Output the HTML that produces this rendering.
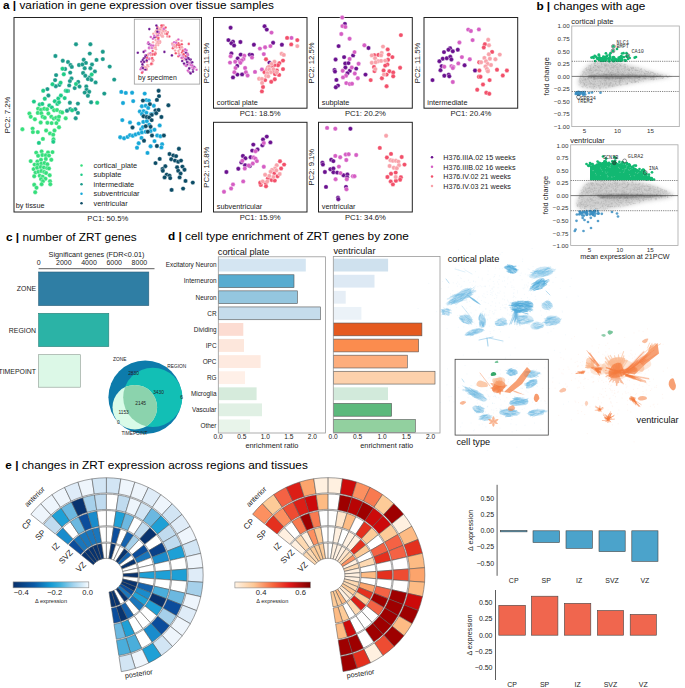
<!DOCTYPE html>
<html><head><meta charset="utf-8"><style>
html,body{margin:0;padding:0;background:#fff;}
body{width:685px;height:688px;overflow:hidden;}
svg{display:block;font-family:'Liberation Sans',sans-serif;}
</style></head><body>
<svg width="685" height="688" viewBox="0 0 685 688" style="font-family:'Liberation Sans',sans-serif"><text x="3" y="9.4" style="font-size:11.8px" fill="#000"><tspan font-weight="bold">a |</tspan> variation in gene expression over tissue samples</text>
<text x="536.4" y="9.6" style="font-size:11.8px" fill="#000"><tspan font-weight="bold">b |</tspan> changes with age</text>
<text x="6" y="240.8" style="font-size:11.8px" fill="#000"><tspan font-weight="bold">c |</tspan> number of ZRT genes</text>
<text x="168" y="240.4" style="font-size:11.8px" fill="#000"><tspan font-weight="bold">d |</tspan> cell type enrichment of ZRT genes by zone</text>
<text x="5.3" y="469.1" style="font-size:11.8px" fill="#000"><tspan font-weight="bold">e |</tspan> changes in ZRT expression across regions and tissues</text>
<rect x="14.00" y="17.50" width="187.50" height="194.50" fill="none" stroke="#222" stroke-width="1"/>
<g stroke="#fff" stroke-width="0.35">
<circle cx="76.0" cy="44.3" r="2.2" fill="#1a9a8a"/>
<circle cx="90.4" cy="44.3" r="2.2" fill="#1a9a8a"/>
<circle cx="55.4" cy="56.0" r="2.2" fill="#1a9a8a"/>
<circle cx="89.8" cy="53.6" r="2.2" fill="#1a9a8a"/>
<circle cx="102.8" cy="51.8" r="2.2" fill="#1a9a8a"/>
<circle cx="102.8" cy="59.1" r="2.2" fill="#1a9a8a"/>
<circle cx="96.5" cy="59.9" r="2.2" fill="#1a9a8a"/>
<circle cx="62.8" cy="60.7" r="2.2" fill="#1a9a8a"/>
<circle cx="68.0" cy="62.0" r="2.2" fill="#1a9a8a"/>
<circle cx="70.5" cy="65.0" r="2.2" fill="#1a9a8a"/>
<circle cx="71.8" cy="66.9" r="2.2" fill="#1a9a8a"/>
<circle cx="83.7" cy="59.7" r="2.2" fill="#1a9a8a"/>
<circle cx="85.9" cy="62.9" r="2.2" fill="#1a9a8a"/>
<circle cx="79.0" cy="65.0" r="2.2" fill="#1a9a8a"/>
<circle cx="82.4" cy="64.5" r="2.2" fill="#1a9a8a"/>
<circle cx="84.7" cy="68.2" r="2.2" fill="#1a9a8a"/>
<circle cx="92.0" cy="64.5" r="2.2" fill="#1a9a8a"/>
<circle cx="90.4" cy="68.2" r="2.2" fill="#1a9a8a"/>
<circle cx="94.9" cy="71.4" r="2.2" fill="#1a9a8a"/>
<circle cx="65.1" cy="69.0" r="2.2" fill="#1a9a8a"/>
<circle cx="70.2" cy="72.6" r="2.2" fill="#1a9a8a"/>
<circle cx="56.1" cy="75.1" r="2.2" fill="#1a9a8a"/>
<circle cx="55.1" cy="80.1" r="2.2" fill="#1a9a8a"/>
<circle cx="71.5" cy="78.5" r="2.2" fill="#1a9a8a"/>
<circle cx="69.9" cy="81.1" r="2.2" fill="#1a9a8a"/>
<circle cx="69.2" cy="85.4" r="2.2" fill="#1a9a8a"/>
<circle cx="59.3" cy="84.9" r="2.2" fill="#1a9a8a"/>
<circle cx="55.8" cy="86.2" r="2.2" fill="#1a9a8a"/>
<circle cx="83.1" cy="73.0" r="2.2" fill="#1a9a8a"/>
<circle cx="85.3" cy="75.8" r="2.2" fill="#1a9a8a"/>
<circle cx="89.5" cy="77.5" r="2.2" fill="#1a9a8a"/>
<circle cx="87.9" cy="79.1" r="2.2" fill="#1a9a8a"/>
<circle cx="91.4" cy="79.8" r="2.2" fill="#1a9a8a"/>
<circle cx="95.6" cy="82.4" r="2.2" fill="#1a9a8a"/>
<circle cx="109.7" cy="66.6" r="2.2" fill="#1a9a8a"/>
<circle cx="114.2" cy="79.6" r="2.2" fill="#1a9a8a"/>
<circle cx="78.2" cy="81.9" r="2.2" fill="#1a9a8a"/>
<circle cx="79.5" cy="86.5" r="2.2" fill="#1a9a8a"/>
<circle cx="74.7" cy="88.1" r="2.2" fill="#1a9a8a"/>
<circle cx="86.3" cy="86.5" r="2.2" fill="#1a9a8a"/>
<circle cx="86.6" cy="89.7" r="2.2" fill="#1a9a8a"/>
<circle cx="89.2" cy="91.8" r="2.2" fill="#1a9a8a"/>
<circle cx="84.7" cy="92.6" r="2.2" fill="#1a9a8a"/>
<circle cx="87.9" cy="95.8" r="2.2" fill="#1a9a8a"/>
<circle cx="104.3" cy="93.6" r="2.2" fill="#1a9a8a"/>
<circle cx="91.1" cy="102.3" r="2.2" fill="#1a9a8a"/>
<circle cx="77.9" cy="103.6" r="2.2" fill="#1a9a8a"/>
<circle cx="69.9" cy="102.7" r="2.2" fill="#1a9a8a"/>
<circle cx="47.4" cy="89.1" r="2.2" fill="#1a9a8a"/>
<circle cx="48.4" cy="95.5" r="2.2" fill="#1a9a8a"/>
<circle cx="70.2" cy="109.2" r="2.2" fill="#1a9a8a"/>
<circle cx="75.3" cy="109.3" r="2.2" fill="#1a9a8a"/>
<circle cx="67.0" cy="110.8" r="2.2" fill="#1a9a8a"/>
<circle cx="77.9" cy="112.9" r="2.2" fill="#1a9a8a"/>
<circle cx="75.7" cy="118.2" r="2.2" fill="#1a9a8a"/>
<circle cx="68.0" cy="90.9" r="2.2" fill="#1a9a8a"/>
<circle cx="62.5" cy="68.7" r="2.2" fill="#1ccb86"/>
<circle cx="63.8" cy="74.3" r="2.2" fill="#1ccb86"/>
<circle cx="52.5" cy="84.3" r="2.2" fill="#1ccb86"/>
<circle cx="60.6" cy="82.7" r="2.2" fill="#1ccb86"/>
<circle cx="43.2" cy="90.7" r="2.2" fill="#1ccb86"/>
<circle cx="44.8" cy="98.7" r="2.2" fill="#1ccb86"/>
<circle cx="33.9" cy="101.6" r="2.2" fill="#1ccb86"/>
<circle cx="54.8" cy="101.3" r="2.2" fill="#1ccb86"/>
<circle cx="58.3" cy="98.4" r="2.2" fill="#1ccb86"/>
<circle cx="60.9" cy="95.5" r="2.2" fill="#1ccb86"/>
<circle cx="64.7" cy="98.1" r="2.2" fill="#1ccb86"/>
<circle cx="65.7" cy="90.7" r="2.2" fill="#1ccb86"/>
<circle cx="67.0" cy="91.0" r="2.2" fill="#1ccb86"/>
<circle cx="57.4" cy="103.9" r="2.2" fill="#1ccb86"/>
<circle cx="59.0" cy="102.3" r="2.2" fill="#1ccb86"/>
<circle cx="97.2" cy="102.7" r="2.2" fill="#1ccb86"/>
<circle cx="91.7" cy="74.5" r="2.2" fill="#1ccb86"/>
<circle cx="76.0" cy="84.0" r="2.2" fill="#1ccb86"/>
<circle cx="72.1" cy="110.3" r="2.2" fill="#1ccb86"/>
<circle cx="39.7" cy="104.5" r="2.2" fill="#1ccb86"/>
<circle cx="42.3" cy="103.9" r="2.2" fill="#1ccb86"/>
<circle cx="49.3" cy="105.5" r="2.2" fill="#1ccb86"/>
<circle cx="51.9" cy="107.4" r="2.2" fill="#1ccb86"/>
<circle cx="38.1" cy="108.7" r="2.2" fill="#35df7c"/>
<circle cx="41.0" cy="109.7" r="2.2" fill="#35df7c"/>
<circle cx="44.2" cy="108.7" r="2.2" fill="#35df7c"/>
<circle cx="47.1" cy="109.3" r="2.2" fill="#35df7c"/>
<circle cx="54.1" cy="110.3" r="2.2" fill="#35df7c"/>
<circle cx="57.0" cy="110.0" r="2.2" fill="#35df7c"/>
<circle cx="60.6" cy="111.9" r="2.2" fill="#35df7c"/>
<circle cx="62.2" cy="112.5" r="2.2" fill="#35df7c"/>
<circle cx="29.4" cy="113.5" r="2.2" fill="#35df7c"/>
<circle cx="30.7" cy="116.7" r="2.2" fill="#35df7c"/>
<circle cx="34.9" cy="119.3" r="2.2" fill="#35df7c"/>
<circle cx="37.8" cy="112.9" r="2.2" fill="#35df7c"/>
<circle cx="41.3" cy="113.2" r="2.2" fill="#35df7c"/>
<circle cx="42.6" cy="116.7" r="2.2" fill="#35df7c"/>
<circle cx="44.8" cy="117.7" r="2.2" fill="#35df7c"/>
<circle cx="48.4" cy="113.5" r="2.2" fill="#35df7c"/>
<circle cx="51.3" cy="116.7" r="2.2" fill="#35df7c"/>
<circle cx="53.8" cy="118.6" r="2.2" fill="#35df7c"/>
<circle cx="56.1" cy="117.7" r="2.2" fill="#35df7c"/>
<circle cx="58.3" cy="119.9" r="2.2" fill="#35df7c"/>
<circle cx="59.0" cy="116.7" r="2.2" fill="#35df7c"/>
<circle cx="40.7" cy="122.5" r="2.2" fill="#35df7c"/>
<circle cx="47.4" cy="122.8" r="2.2" fill="#35df7c"/>
<circle cx="51.6" cy="123.1" r="2.2" fill="#35df7c"/>
<circle cx="56.4" cy="123.1" r="2.2" fill="#35df7c"/>
<circle cx="65.7" cy="118.3" r="2.2" fill="#35df7c"/>
<circle cx="22.4" cy="129.2" r="2.2" fill="#35df7c"/>
<circle cx="32.6" cy="128.6" r="2.2" fill="#35df7c"/>
<circle cx="32.9" cy="132.1" r="2.2" fill="#35df7c"/>
<circle cx="37.8" cy="132.1" r="2.2" fill="#35df7c"/>
<circle cx="46.1" cy="130.5" r="2.2" fill="#35df7c"/>
<circle cx="50.0" cy="133.4" r="2.2" fill="#35df7c"/>
<circle cx="54.5" cy="130.5" r="2.2" fill="#35df7c"/>
<circle cx="53.2" cy="134.7" r="2.2" fill="#35df7c"/>
<circle cx="59.0" cy="127.3" r="2.2" fill="#35df7c"/>
<circle cx="42.9" cy="138.9" r="2.2" fill="#35df7c"/>
<circle cx="53.5" cy="139.2" r="2.2" fill="#35df7c"/>
<circle cx="53.3" cy="141.8" r="2.2" fill="#1ccb86"/>
<circle cx="38.9" cy="142.9" r="2.2" fill="#1ccb86"/>
<circle cx="36.2" cy="152.6" r="2.2" fill="#35df7c"/>
<circle cx="41.6" cy="151.4" r="2.2" fill="#35df7c"/>
<circle cx="48.0" cy="152.4" r="2.2" fill="#35df7c"/>
<circle cx="52.5" cy="152.1" r="2.2" fill="#35df7c"/>
<circle cx="38.1" cy="155.8" r="2.2" fill="#35df7c"/>
<circle cx="42.3" cy="155.0" r="2.2" fill="#35df7c"/>
<circle cx="45.8" cy="155.3" r="2.2" fill="#35df7c"/>
<circle cx="49.0" cy="155.6" r="2.2" fill="#35df7c"/>
<circle cx="30.7" cy="161.1" r="2.2" fill="#35df7c"/>
<circle cx="37.4" cy="161.4" r="2.2" fill="#35df7c"/>
<circle cx="41.0" cy="159.8" r="2.2" fill="#35df7c"/>
<circle cx="45.8" cy="159.0" r="2.2" fill="#35df7c"/>
<circle cx="51.3" cy="159.8" r="2.2" fill="#35df7c"/>
<circle cx="34.6" cy="164.6" r="2.2" fill="#35df7c"/>
<circle cx="37.8" cy="164.6" r="2.2" fill="#35df7c"/>
<circle cx="41.3" cy="163.6" r="2.2" fill="#35df7c"/>
<circle cx="44.5" cy="163.0" r="2.2" fill="#35df7c"/>
<circle cx="47.4" cy="164.3" r="2.2" fill="#35df7c"/>
<circle cx="33.6" cy="169.1" r="2.2" fill="#35df7c"/>
<circle cx="37.1" cy="167.8" r="2.2" fill="#35df7c"/>
<circle cx="40.7" cy="167.0" r="2.2" fill="#35df7c"/>
<circle cx="43.9" cy="167.5" r="2.2" fill="#35df7c"/>
<circle cx="47.1" cy="168.1" r="2.2" fill="#35df7c"/>
<circle cx="49.0" cy="168.5" r="2.2" fill="#35df7c"/>
<circle cx="35.5" cy="172.6" r="2.2" fill="#35df7c"/>
<circle cx="38.4" cy="171.8" r="2.2" fill="#35df7c"/>
<circle cx="41.3" cy="171.0" r="2.2" fill="#35df7c"/>
<circle cx="44.2" cy="172.0" r="2.2" fill="#35df7c"/>
<circle cx="46.1" cy="173.0" r="2.2" fill="#35df7c"/>
<circle cx="34.2" cy="176.2" r="2.2" fill="#35df7c"/>
<circle cx="39.7" cy="175.8" r="2.2" fill="#35df7c"/>
<circle cx="42.6" cy="176.6" r="2.2" fill="#35df7c"/>
<circle cx="49.7" cy="175.2" r="2.2" fill="#35df7c"/>
<circle cx="41.0" cy="179.1" r="2.2" fill="#35df7c"/>
<circle cx="45.5" cy="178.7" r="2.2" fill="#35df7c"/>
<circle cx="42.9" cy="181.3" r="2.2" fill="#35df7c"/>
<circle cx="50.0" cy="181.3" r="2.2" fill="#35df7c"/>
<circle cx="41.6" cy="184.2" r="2.2" fill="#35df7c"/>
<circle cx="50.3" cy="184.2" r="2.2" fill="#35df7c"/>
<circle cx="34.2" cy="184.8" r="2.2" fill="#35df7c"/>
<circle cx="36.5" cy="187.7" r="2.2" fill="#35df7c"/>
<circle cx="35.2" cy="192.2" r="2.2" fill="#35df7c"/>
<circle cx="121.3" cy="91.9" r="2.2" fill="#16a7d8"/>
<circle cx="125.8" cy="92.9" r="2.2" fill="#16a7d8"/>
<circle cx="132.1" cy="92.7" r="2.2" fill="#16a7d8"/>
<circle cx="144.7" cy="93.6" r="2.2" fill="#16a7d8"/>
<circle cx="123.0" cy="103.0" r="2.2" fill="#16a7d8"/>
<circle cx="133.2" cy="101.1" r="2.2" fill="#16a7d8"/>
<circle cx="146.4" cy="100.1" r="2.2" fill="#16a7d8"/>
<circle cx="148.9" cy="100.6" r="2.2" fill="#16a7d8"/>
<circle cx="141.9" cy="106.2" r="2.2" fill="#16a7d8"/>
<circle cx="145.7" cy="105.8" r="2.2" fill="#16a7d8"/>
<circle cx="148.2" cy="107.9" r="2.2" fill="#16a7d8"/>
<circle cx="153.8" cy="105.8" r="2.2" fill="#16a7d8"/>
<circle cx="139.8" cy="111.4" r="2.2" fill="#16a7d8"/>
<circle cx="143.6" cy="111.1" r="2.2" fill="#16a7d8"/>
<circle cx="146.4" cy="112.8" r="2.2" fill="#16a7d8"/>
<circle cx="152.4" cy="114.0" r="2.2" fill="#16a7d8"/>
<circle cx="141.9" cy="114.0" r="2.2" fill="#16a7d8"/>
<circle cx="122.3" cy="120.1" r="2.2" fill="#16a7d8"/>
<circle cx="130.0" cy="122.4" r="2.2" fill="#16a7d8"/>
<circle cx="138.7" cy="123.6" r="2.2" fill="#16a7d8"/>
<circle cx="143.3" cy="121.9" r="2.2" fill="#16a7d8"/>
<circle cx="146.8" cy="121.2" r="2.2" fill="#16a7d8"/>
<circle cx="159.7" cy="125.4" r="2.2" fill="#16a7d8"/>
<circle cx="141.2" cy="129.2" r="2.2" fill="#16a7d8"/>
<circle cx="142.9" cy="127.1" r="2.2" fill="#16a7d8"/>
<circle cx="150.6" cy="131.0" r="2.2" fill="#16a7d8"/>
<circle cx="154.5" cy="129.7" r="2.2" fill="#16a7d8"/>
<circle cx="120.2" cy="137.2" r="2.2" fill="#16a7d8"/>
<circle cx="124.1" cy="138.3" r="2.2" fill="#16a7d8"/>
<circle cx="127.6" cy="136.9" r="2.2" fill="#16a7d8"/>
<circle cx="130.0" cy="135.1" r="2.2" fill="#16a7d8"/>
<circle cx="132.8" cy="135.8" r="2.2" fill="#16a7d8"/>
<circle cx="135.6" cy="134.5" r="2.2" fill="#16a7d8"/>
<circle cx="138.7" cy="133.4" r="2.2" fill="#16a7d8"/>
<circle cx="141.9" cy="132.4" r="2.2" fill="#16a7d8"/>
<circle cx="145.7" cy="131.7" r="2.2" fill="#16a7d8"/>
<circle cx="157.2" cy="135.5" r="2.2" fill="#16a7d8"/>
<circle cx="160.4" cy="136.2" r="2.2" fill="#16a7d8"/>
<circle cx="141.5" cy="137.9" r="2.2" fill="#16a7d8"/>
<circle cx="138.7" cy="143.2" r="2.2" fill="#16a7d8"/>
<circle cx="137.0" cy="147.7" r="2.2" fill="#16a7d8"/>
<circle cx="154.5" cy="141.1" r="2.2" fill="#16a7d8"/>
<circle cx="150.6" cy="146.3" r="2.2" fill="#16a7d8"/>
<circle cx="162.1" cy="144.2" r="2.2" fill="#16a7d8"/>
<circle cx="161.4" cy="147.4" r="2.2" fill="#16a7d8"/>
<circle cx="147.5" cy="152.9" r="2.2" fill="#16a7d8"/>
<circle cx="151.0" cy="114.2" r="2.2" fill="#16a7d8"/>
<circle cx="145.0" cy="116.3" r="2.2" fill="#16a7d8"/>
<circle cx="149.2" cy="124.7" r="2.2" fill="#16a7d8"/>
<circle cx="158.6" cy="90.8" r="2.2" fill="#0c4c66"/>
<circle cx="159.0" cy="96.1" r="2.2" fill="#0c4c66"/>
<circle cx="156.9" cy="99.9" r="2.2" fill="#0c4c66"/>
<circle cx="142.9" cy="100.6" r="2.2" fill="#0c4c66"/>
<circle cx="149.9" cy="104.1" r="2.2" fill="#0c4c66"/>
<circle cx="168.4" cy="105.3" r="2.2" fill="#0c4c66"/>
<circle cx="155.5" cy="110.5" r="2.2" fill="#0c4c66"/>
<circle cx="158.6" cy="110.0" r="2.2" fill="#0c4c66"/>
<circle cx="156.2" cy="113.2" r="2.2" fill="#0c4c66"/>
<circle cx="151.7" cy="114.9" r="2.2" fill="#0c4c66"/>
<circle cx="143.6" cy="116.3" r="2.2" fill="#0c4c66"/>
<circle cx="146.8" cy="117.0" r="2.2" fill="#0c4c66"/>
<circle cx="149.2" cy="117.5" r="2.2" fill="#0c4c66"/>
<circle cx="151.7" cy="120.1" r="2.2" fill="#0c4c66"/>
<circle cx="161.4" cy="117.0" r="2.2" fill="#0c4c66"/>
<circle cx="132.5" cy="127.5" r="2.2" fill="#0c4c66"/>
<circle cx="145.7" cy="126.2" r="2.2" fill="#0c4c66"/>
<circle cx="150.6" cy="126.8" r="2.2" fill="#0c4c66"/>
<circle cx="147.8" cy="131.7" r="2.2" fill="#0c4c66"/>
<circle cx="152.0" cy="135.5" r="2.2" fill="#0c4c66"/>
<circle cx="163.9" cy="135.5" r="2.2" fill="#0c4c66"/>
<circle cx="144.0" cy="140.7" r="2.2" fill="#0c4c66"/>
<circle cx="156.9" cy="146.0" r="2.2" fill="#0c4c66"/>
<circle cx="178.9" cy="148.8" r="2.2" fill="#0c4c66"/>
<circle cx="169.5" cy="154.0" r="2.2" fill="#0c4c66"/>
<circle cx="173.3" cy="155.4" r="2.2" fill="#0c4c66"/>
<circle cx="176.1" cy="156.1" r="2.2" fill="#0c4c66"/>
<circle cx="171.2" cy="159.2" r="2.2" fill="#0c4c66"/>
<circle cx="175.0" cy="160.6" r="2.2" fill="#0c4c66"/>
<circle cx="178.2" cy="161.7" r="2.2" fill="#0c4c66"/>
<circle cx="181.0" cy="160.6" r="2.2" fill="#0c4c66"/>
<circle cx="159.7" cy="158.9" r="2.2" fill="#0c4c66"/>
<circle cx="155.5" cy="163.1" r="2.2" fill="#0c4c66"/>
<circle cx="165.3" cy="166.2" r="2.2" fill="#0c4c66"/>
<circle cx="162.5" cy="169.0" r="2.2" fill="#0c4c66"/>
<circle cx="162.8" cy="170.8" r="2.2" fill="#0c4c66"/>
<circle cx="177.1" cy="167.3" r="2.2" fill="#0c4c66"/>
<circle cx="182.4" cy="166.6" r="2.2" fill="#0c4c66"/>
<circle cx="184.5" cy="169.7" r="2.2" fill="#0c4c66"/>
<circle cx="178.2" cy="170.8" r="2.2" fill="#0c4c66"/>
<circle cx="180.6" cy="173.5" r="2.2" fill="#0c4c66"/>
<circle cx="166.7" cy="174.6" r="2.2" fill="#0c4c66"/>
<circle cx="169.5" cy="175.6" r="2.2" fill="#0c4c66"/>
<circle cx="164.6" cy="177.4" r="2.2" fill="#0c4c66"/>
<circle cx="170.2" cy="178.1" r="2.2" fill="#0c4c66"/>
<circle cx="179.6" cy="177.4" r="2.2" fill="#0c4c66"/>
<circle cx="185.5" cy="180.9" r="2.2" fill="#0c4c66"/>
<circle cx="192.8" cy="182.6" r="2.2" fill="#0c4c66"/>
<circle cx="171.6" cy="189.9" r="2.2" fill="#0c4c66"/>
<circle cx="183.1" cy="188.6" r="2.2" fill="#0c4c66"/>
</g>
<rect x="134.30" y="19.20" width="65.50" height="64.90" fill="#fff" stroke="#9a9a9a" stroke-width="0.8"/>
<g stroke="#fff" stroke-width="0.25">
<circle cx="158.3" cy="29.2" r="1.3" fill="#f8a2aa"/>
<circle cx="143.8" cy="58.3" r="1.3" fill="#6a118f"/>
<circle cx="167.7" cy="32.3" r="1.3" fill="#f2506a"/>
<circle cx="178.4" cy="56.2" r="1.3" fill="#f2506a"/>
<circle cx="176.6" cy="40.7" r="1.3" fill="#f8a2aa"/>
<circle cx="157.7" cy="33.8" r="1.3" fill="#f2506a"/>
<circle cx="159.9" cy="42.4" r="1.3" fill="#f2506a"/>
<circle cx="141.4" cy="61.8" r="1.3" fill="#6a118f"/>
<circle cx="190.7" cy="62.9" r="1.3" fill="#d55ec4"/>
<circle cx="161.4" cy="35.1" r="1.3" fill="#f8a2aa"/>
<circle cx="161.7" cy="27.3" r="1.3" fill="#f2506a"/>
<circle cx="155.9" cy="31.6" r="1.3" fill="#f8a2aa"/>
<circle cx="183.9" cy="51.1" r="1.3" fill="#d55ec4"/>
<circle cx="159.6" cy="29.8" r="1.3" fill="#f8a2aa"/>
<circle cx="187.3" cy="53.2" r="1.3" fill="#f8a2aa"/>
<circle cx="164.1" cy="31.8" r="1.3" fill="#f8a2aa"/>
<circle cx="160.2" cy="29.5" r="1.3" fill="#f2506a"/>
<circle cx="159.0" cy="28.9" r="1.3" fill="#f2506a"/>
<circle cx="179.3" cy="54.4" r="1.3" fill="#f8a2aa"/>
<circle cx="152.3" cy="64.0" r="1.3" fill="#f8a2aa"/>
<circle cx="182.7" cy="55.0" r="1.3" fill="#d55ec4"/>
<circle cx="158.9" cy="31.1" r="1.3" fill="#f8a2aa"/>
<circle cx="192.1" cy="67.2" r="1.3" fill="#d55ec4"/>
<circle cx="159.2" cy="42.2" r="1.3" fill="#f2506a"/>
<circle cx="172.9" cy="47.9" r="1.3" fill="#f8a2aa"/>
<circle cx="191.0" cy="62.9" r="1.3" fill="#6a118f"/>
<circle cx="157.3" cy="27.0" r="1.3" fill="#f2506a"/>
<circle cx="182.0" cy="52.5" r="1.3" fill="#f2506a"/>
<circle cx="147.9" cy="43.6" r="1.3" fill="#d55ec4"/>
<circle cx="156.0" cy="37.1" r="1.3" fill="#f2506a"/>
<circle cx="158.2" cy="45.1" r="1.3" fill="#f8a2aa"/>
<circle cx="152.9" cy="38.8" r="1.3" fill="#d55ec4"/>
<circle cx="145.2" cy="55.6" r="1.3" fill="#d55ec4"/>
<circle cx="146.6" cy="69.4" r="1.3" fill="#f2506a"/>
<circle cx="156.8" cy="42.1" r="1.3" fill="#f8a2aa"/>
<circle cx="143.1" cy="62.2" r="1.3" fill="#d55ec4"/>
<circle cx="145.2" cy="50.8" r="1.3" fill="#d55ec4"/>
<circle cx="172.5" cy="44.4" r="1.3" fill="#d55ec4"/>
<circle cx="151.8" cy="58.6" r="1.3" fill="#f2506a"/>
<circle cx="143.6" cy="51.9" r="1.3" fill="#6a118f"/>
<circle cx="190.7" cy="59.6" r="1.3" fill="#6a118f"/>
<circle cx="188.8" cy="71.7" r="1.3" fill="#d55ec4"/>
<circle cx="185.9" cy="52.8" r="1.3" fill="#6a118f"/>
<circle cx="142.3" cy="66.9" r="1.3" fill="#6a118f"/>
<circle cx="155.5" cy="47.6" r="1.3" fill="#f8a2aa"/>
<circle cx="163.6" cy="25.3" r="1.3" fill="#f8a2aa"/>
<circle cx="152.7" cy="51.0" r="1.3" fill="#f2506a"/>
<circle cx="144.2" cy="69.1" r="1.3" fill="#d55ec4"/>
<circle cx="157.5" cy="35.4" r="1.3" fill="#f2506a"/>
<circle cx="189.4" cy="63.3" r="1.3" fill="#d55ec4"/>
<circle cx="169.3" cy="36.5" r="1.3" fill="#f2506a"/>
<circle cx="158.8" cy="37.9" r="1.3" fill="#f8a2aa"/>
<circle cx="181.8" cy="47.2" r="1.3" fill="#f2506a"/>
<circle cx="177.4" cy="44.6" r="1.3" fill="#f8a2aa"/>
<circle cx="147.7" cy="65.6" r="1.3" fill="#d55ec4"/>
<circle cx="184.4" cy="59.5" r="1.3" fill="#f8a2aa"/>
<circle cx="185.9" cy="65.7" r="1.3" fill="#6a118f"/>
<circle cx="180.0" cy="49.2" r="1.3" fill="#f8a2aa"/>
<circle cx="147.3" cy="55.4" r="1.3" fill="#6a118f"/>
<circle cx="178.4" cy="43.2" r="1.3" fill="#f2506a"/>
<circle cx="186.5" cy="50.4" r="1.3" fill="#d55ec4"/>
<circle cx="162.0" cy="36.6" r="1.3" fill="#f8a2aa"/>
<circle cx="158.9" cy="40.7" r="1.3" fill="#f8a2aa"/>
<circle cx="186.6" cy="56.4" r="1.3" fill="#6a118f"/>
<circle cx="153.8" cy="46.5" r="1.3" fill="#f8a2aa"/>
<circle cx="155.0" cy="54.4" r="1.3" fill="#f2506a"/>
<circle cx="176.6" cy="47.5" r="1.3" fill="#f8a2aa"/>
<circle cx="146.6" cy="68.4" r="1.3" fill="#f8a2aa"/>
<circle cx="190.5" cy="65.1" r="1.3" fill="#d55ec4"/>
<circle cx="162.3" cy="25.6" r="1.3" fill="#f2506a"/>
<circle cx="167.3" cy="36.4" r="1.3" fill="#f8a2aa"/>
<circle cx="183.2" cy="57.3" r="1.3" fill="#d55ec4"/>
<circle cx="185.6" cy="56.1" r="1.3" fill="#f2506a"/>
<circle cx="142.6" cy="71.9" r="1.3" fill="#d55ec4"/>
<circle cx="148.2" cy="66.2" r="1.3" fill="#f8a2aa"/>
<circle cx="153.1" cy="42.2" r="1.3" fill="#f8a2aa"/>
<circle cx="179.7" cy="47.2" r="1.3" fill="#f2506a"/>
<circle cx="142.8" cy="60.0" r="1.3" fill="#6a118f"/>
<circle cx="171.9" cy="55.4" r="1.3" fill="#6a118f"/>
<circle cx="144.1" cy="68.4" r="1.3" fill="#f2506a"/>
<circle cx="184.4" cy="64.4" r="1.3" fill="#d55ec4"/>
<circle cx="149.3" cy="58.5" r="1.3" fill="#d55ec4"/>
<circle cx="147.3" cy="65.1" r="1.3" fill="#f8a2aa"/>
<circle cx="175.1" cy="50.6" r="1.3" fill="#f8a2aa"/>
<circle cx="193.0" cy="71.7" r="1.3" fill="#6a118f"/>
<circle cx="155.7" cy="46.8" r="1.3" fill="#f8a2aa"/>
<circle cx="154.0" cy="48.1" r="1.3" fill="#f8a2aa"/>
<circle cx="155.5" cy="32.0" r="1.3" fill="#f8a2aa"/>
<circle cx="158.4" cy="40.8" r="1.3" fill="#f8a2aa"/>
<circle cx="188.3" cy="58.4" r="1.3" fill="#6a118f"/>
<circle cx="193.0" cy="69.6" r="1.3" fill="#6a118f"/>
<circle cx="154.3" cy="36.5" r="1.3" fill="#f8a2aa"/>
<circle cx="153.3" cy="33.7" r="1.3" fill="#f8a2aa"/>
<circle cx="156.4" cy="44.3" r="1.3" fill="#f8a2aa"/>
<circle cx="157.1" cy="34.4" r="1.3" fill="#f2506a"/>
<circle cx="181.8" cy="47.2" r="1.3" fill="#f8a2aa"/>
<circle cx="157.1" cy="28.9" r="1.3" fill="#6a118f"/>
<circle cx="149.4" cy="47.9" r="1.3" fill="#6a118f"/>
<circle cx="194.9" cy="67.3" r="1.3" fill="#d55ec4"/>
<circle cx="160.0" cy="32.7" r="1.3" fill="#f8a2aa"/>
<circle cx="140.6" cy="69.3" r="1.3" fill="#d55ec4"/>
<circle cx="172.2" cy="43.5" r="1.3" fill="#f8a2aa"/>
<circle cx="167.0" cy="32.9" r="1.3" fill="#f8a2aa"/>
<circle cx="146.8" cy="61.4" r="1.3" fill="#f2506a"/>
<circle cx="152.0" cy="48.0" r="1.3" fill="#d55ec4"/>
<circle cx="187.8" cy="70.6" r="1.3" fill="#d55ec4"/>
<circle cx="183.1" cy="49.8" r="1.3" fill="#f8a2aa"/>
<circle cx="142.0" cy="72.8" r="1.3" fill="#f2506a"/>
<circle cx="159.3" cy="31.8" r="1.3" fill="#d55ec4"/>
<circle cx="158.6" cy="33.5" r="1.3" fill="#f2506a"/>
<circle cx="189.2" cy="68.1" r="1.3" fill="#6a118f"/>
<circle cx="161.4" cy="31.9" r="1.3" fill="#f8a2aa"/>
<circle cx="174.1" cy="42.2" r="1.3" fill="#d55ec4"/>
<circle cx="146.4" cy="55.2" r="1.3" fill="#6a118f"/>
<circle cx="179.7" cy="44.9" r="1.3" fill="#f2506a"/>
<circle cx="143.1" cy="66.4" r="1.3" fill="#6a118f"/>
<circle cx="189.3" cy="59.2" r="1.3" fill="#6a118f"/>
<circle cx="156.0" cy="49.2" r="1.3" fill="#f8a2aa"/>
<circle cx="145.4" cy="69.4" r="1.3" fill="#6a118f"/>
<circle cx="192.3" cy="62.2" r="1.3" fill="#6a118f"/>
<circle cx="154.3" cy="47.7" r="1.3" fill="#f8a2aa"/>
<circle cx="162.6" cy="35.9" r="1.3" fill="#f2506a"/>
<circle cx="158.2" cy="39.5" r="1.3" fill="#d55ec4"/>
<circle cx="145.3" cy="67.2" r="1.3" fill="#d55ec4"/>
<circle cx="155.6" cy="45.5" r="1.3" fill="#f8a2aa"/>
<circle cx="175.6" cy="46.3" r="1.3" fill="#f2506a"/>
<circle cx="160.5" cy="35.2" r="1.3" fill="#f8a2aa"/>
<circle cx="193.3" cy="68.1" r="1.3" fill="#6a118f"/>
<circle cx="188.8" cy="43.9" r="1.3" fill="#f2506a"/>
<circle cx="159.2" cy="29.3" r="1.3" fill="#f8a2aa"/>
<circle cx="156.4" cy="32.6" r="1.3" fill="#f8a2aa"/>
<circle cx="164.3" cy="30.0" r="1.3" fill="#f2506a"/>
<circle cx="155.2" cy="52.2" r="1.3" fill="#f8a2aa"/>
<circle cx="142.4" cy="64.3" r="1.3" fill="#6a118f"/>
<circle cx="175.8" cy="53.3" r="1.3" fill="#f2506a"/>
<circle cx="149.4" cy="44.3" r="1.3" fill="#6a118f"/>
<circle cx="162.0" cy="29.2" r="1.3" fill="#f2506a"/>
<circle cx="156.5" cy="32.8" r="1.3" fill="#f8a2aa"/>
<circle cx="173.7" cy="46.2" r="1.3" fill="#d55ec4"/>
<circle cx="150.5" cy="53.2" r="1.3" fill="#d55ec4"/>
<circle cx="143.3" cy="67.8" r="1.3" fill="#f8a2aa"/>
<circle cx="187.3" cy="64.8" r="1.3" fill="#6a118f"/>
<circle cx="185.2" cy="49.4" r="1.3" fill="#d55ec4"/>
<circle cx="162.5" cy="28.9" r="1.3" fill="#f8a2aa"/>
<circle cx="176.8" cy="44.8" r="1.3" fill="#f2506a"/>
<circle cx="160.1" cy="41.4" r="1.3" fill="#f8a2aa"/>
<circle cx="162.4" cy="30.8" r="1.3" fill="#f8a2aa"/>
<circle cx="187.7" cy="62.1" r="1.3" fill="#6a118f"/>
<circle cx="153.0" cy="54.1" r="1.3" fill="#f8a2aa"/>
<circle cx="154.5" cy="37.2" r="1.3" fill="#6a118f"/>
<circle cx="183.7" cy="54.2" r="1.3" fill="#6a118f"/>
<circle cx="156.9" cy="30.8" r="1.3" fill="#f2506a"/>
<circle cx="150.8" cy="37.0" r="1.3" fill="#d55ec4"/>
<circle cx="189.2" cy="68.6" r="1.3" fill="#6a118f"/>
<circle cx="158.2" cy="38.1" r="1.3" fill="#f2506a"/>
<circle cx="152.8" cy="54.0" r="1.3" fill="#f2506a"/>
<circle cx="182.7" cy="50.9" r="1.3" fill="#f2506a"/>
<circle cx="188.3" cy="58.1" r="1.3" fill="#6a118f"/>
<circle cx="164.4" cy="51.9" r="1.3" fill="#6a118f"/>
<circle cx="146.7" cy="60.4" r="1.3" fill="#6a118f"/>
<circle cx="178.4" cy="39.5" r="1.3" fill="#d55ec4"/>
<circle cx="150.8" cy="44.7" r="1.3" fill="#d55ec4"/>
<circle cx="190.4" cy="72.8" r="1.3" fill="#6a118f"/>
<circle cx="165.7" cy="30.7" r="1.3" fill="#f8a2aa"/>
<circle cx="187.5" cy="54.1" r="1.3" fill="#6a118f"/>
<circle cx="181.8" cy="44.3" r="1.3" fill="#f2506a"/>
<circle cx="182.2" cy="61.0" r="1.3" fill="#6a118f"/>
<circle cx="137.8" cy="52.8" r="1.3" fill="#6a118f"/>
<circle cx="172.9" cy="48.2" r="1.3" fill="#f2506a"/>
<circle cx="178.5" cy="51.1" r="1.3" fill="#f8a2aa"/>
<circle cx="151.1" cy="64.3" r="1.3" fill="#f2506a"/>
<circle cx="156.1" cy="30.9" r="1.3" fill="#f8a2aa"/>
<circle cx="187.5" cy="54.6" r="1.3" fill="#d55ec4"/>
<circle cx="185.2" cy="58.6" r="1.3" fill="#d55ec4"/>
<circle cx="149.0" cy="53.8" r="1.3" fill="#d55ec4"/>
<circle cx="149.1" cy="59.1" r="1.3" fill="#d55ec4"/>
<circle cx="163.0" cy="36.6" r="1.3" fill="#f8a2aa"/>
<circle cx="144.2" cy="66.9" r="1.3" fill="#f8a2aa"/>
<circle cx="186.3" cy="65.9" r="1.3" fill="#d55ec4"/>
<circle cx="153.1" cy="60.2" r="1.3" fill="#f2506a"/>
<circle cx="145.3" cy="57.1" r="1.3" fill="#6a118f"/>
<circle cx="190.6" cy="73.5" r="1.3" fill="#6a118f"/>
<circle cx="188.7" cy="62.8" r="1.3" fill="#d55ec4"/>
<circle cx="162.0" cy="32.9" r="1.3" fill="#f8a2aa"/>
<circle cx="157.8" cy="35.3" r="1.3" fill="#d55ec4"/>
<circle cx="145.8" cy="67.2" r="1.3" fill="#f8a2aa"/>
<circle cx="147.0" cy="57.8" r="1.3" fill="#f2506a"/>
<circle cx="165.6" cy="27.6" r="1.3" fill="#f2506a"/>
<circle cx="179.4" cy="55.1" r="1.3" fill="#d55ec4"/>
<circle cx="148.3" cy="42.4" r="1.3" fill="#d55ec4"/>
<circle cx="156.9" cy="33.6" r="1.3" fill="#f8a2aa"/>
<circle cx="152.2" cy="58.1" r="1.3" fill="#f2506a"/>
<circle cx="176.0" cy="42.8" r="1.3" fill="#d55ec4"/>
<circle cx="152.8" cy="61.3" r="1.3" fill="#f8a2aa"/>
<circle cx="184.0" cy="63.5" r="1.3" fill="#6a118f"/>
<circle cx="188.0" cy="62.5" r="1.3" fill="#d55ec4"/>
<circle cx="151.2" cy="45.6" r="1.3" fill="#d55ec4"/>
<circle cx="161.4" cy="25.5" r="1.3" fill="#f2506a"/>
<circle cx="193.7" cy="66.8" r="1.3" fill="#6a118f"/>
<circle cx="178.8" cy="53.4" r="1.3" fill="#f8a2aa"/>
<circle cx="157.0" cy="43.2" r="1.3" fill="#f8a2aa"/>
<circle cx="182.0" cy="58.1" r="1.3" fill="#f2506a"/>
<circle cx="181.5" cy="57.8" r="1.3" fill="#d55ec4"/>
<circle cx="155.5" cy="53.5" r="1.3" fill="#f2506a"/>
<circle cx="179.0" cy="45.2" r="1.3" fill="#f2506a"/>
<circle cx="163.0" cy="28.9" r="1.3" fill="#f8a2aa"/>
<circle cx="154.4" cy="54.4" r="1.3" fill="#f2506a"/>
<circle cx="174.2" cy="45.1" r="1.3" fill="#f8a2aa"/>
<circle cx="144.1" cy="61.9" r="1.3" fill="#6a118f"/>
<circle cx="165.1" cy="33.8" r="1.3" fill="#f8a2aa"/>
<circle cx="156.4" cy="25.5" r="1.3" fill="#6a118f"/>
<circle cx="162.6" cy="30.7" r="1.3" fill="#f8a2aa"/>
<circle cx="148.1" cy="54.6" r="1.3" fill="#f8a2aa"/>
<circle cx="158.7" cy="32.1" r="1.3" fill="#d55ec4"/>
<circle cx="181.6" cy="40.7" r="1.3" fill="#f8a2aa"/>
<circle cx="192.2" cy="65.3" r="1.3" fill="#d55ec4"/>
<circle cx="151.4" cy="63.6" r="1.3" fill="#f2506a"/>
<circle cx="162.0" cy="36.1" r="1.3" fill="#f8a2aa"/>
<circle cx="174.6" cy="46.9" r="1.3" fill="#f8a2aa"/>
<circle cx="158.4" cy="43.5" r="1.3" fill="#f8a2aa"/>
<circle cx="196.6" cy="69.8" r="1.3" fill="#d55ec4"/>
<circle cx="192.9" cy="67.9" r="1.3" fill="#d55ec4"/>
<circle cx="163.2" cy="30.8" r="1.3" fill="#f2506a"/>
<circle cx="186.3" cy="59.6" r="1.3" fill="#6a118f"/>
<circle cx="187.0" cy="62.1" r="1.3" fill="#6a118f"/>
<circle cx="157.3" cy="31.8" r="1.3" fill="#6a118f"/>
<circle cx="183.0" cy="54.1" r="1.3" fill="#f8a2aa"/>
<circle cx="183.7" cy="54.2" r="1.3" fill="#f2506a"/>
<circle cx="141.2" cy="68.0" r="1.3" fill="#d55ec4"/>
<circle cx="149.4" cy="48.3" r="1.3" fill="#f8a2aa"/>
<circle cx="152.0" cy="54.8" r="1.3" fill="#f2506a"/>
<circle cx="167.0" cy="33.9" r="1.3" fill="#f2506a"/>
<circle cx="154.2" cy="35.9" r="1.3" fill="#d55ec4"/>
<circle cx="193.6" cy="68.0" r="1.3" fill="#d55ec4"/>
<circle cx="149.3" cy="29.1" r="1.3" fill="#6a118f"/>
<circle cx="188.1" cy="54.9" r="1.3" fill="#d55ec4"/>
<circle cx="163.4" cy="31.0" r="1.3" fill="#f8a2aa"/>
<circle cx="142.9" cy="68.1" r="1.3" fill="#6a118f"/>
<circle cx="148.9" cy="47.9" r="1.3" fill="#d55ec4"/>
<circle cx="163.9" cy="28.9" r="1.3" fill="#d55ec4"/>
<circle cx="153.1" cy="45.6" r="1.3" fill="#d55ec4"/>
<circle cx="155.4" cy="47.5" r="1.3" fill="#f8a2aa"/>
<circle cx="157.8" cy="41.9" r="1.3" fill="#f8a2aa"/>
<circle cx="155.6" cy="40.0" r="1.3" fill="#f8a2aa"/>
<circle cx="150.6" cy="55.1" r="1.3" fill="#f8a2aa"/>
</g>
<text x="138.1" y="80.4" style="font-size:6.9px" fill="#222">by specimen</text>
<text x="15.8" y="208.2" style="font-size:7.3px" fill="#222">by tissue</text>
<circle cx="81.5" cy="165.4" r="1.25" fill="#35df7c"/>
<text x="93.5" y="168.0" style="font-size:7.4px" fill="#222">cortical_plate</text>
<circle cx="81.5" cy="174.8" r="1.25" fill="#1ccb86"/>
<text x="93.5" y="177.4" style="font-size:7.4px" fill="#222">subplate</text>
<circle cx="81.5" cy="184.3" r="1.25" fill="#1a9a8a"/>
<text x="93.5" y="186.9" style="font-size:7.4px" fill="#222">intermediate</text>
<circle cx="81.5" cy="193.8" r="1.25" fill="#16a7d8"/>
<text x="93.5" y="196.3" style="font-size:7.4px" fill="#222">subventricular</text>
<circle cx="81.5" cy="203.2" r="1.25" fill="#0c4c66"/>
<text x="93.5" y="205.8" style="font-size:7.4px" fill="#222">ventricular</text>
<text x="107.8" y="220.8" style="font-size:7.7px" text-anchor="middle" fill="#222">PC1: 50.5%</text>
<text x="9.8" y="115.0" style="font-size:7.7px" text-anchor="middle" transform="rotate(-90 9.8 115.0)" fill="#222">PC2: 7.2%</text>
<rect x="213.50" y="17.50" width="93.50" height="90.70" fill="none" stroke="#222" stroke-width="1"/>
<g stroke="#fff" stroke-width="0.35">
<circle cx="230.6" cy="27.7" r="2.2" fill="#6a118f"/>
<circle cx="264.6" cy="26.3" r="2.2" fill="#6a118f"/>
<circle cx="266.8" cy="29.6" r="2.2" fill="#6a118f"/>
<circle cx="228.4" cy="40.1" r="2.2" fill="#6a118f"/>
<circle cx="233.0" cy="41.7" r="2.2" fill="#6a118f"/>
<circle cx="231.4" cy="43.3" r="2.2" fill="#6a118f"/>
<circle cx="234.1" cy="45.5" r="2.2" fill="#6a118f"/>
<circle cx="240.4" cy="42.0" r="2.2" fill="#6a118f"/>
<circle cx="253.9" cy="44.7" r="2.2" fill="#6a118f"/>
<circle cx="273.1" cy="42.8" r="2.2" fill="#6a118f"/>
<circle cx="281.9" cy="44.7" r="2.2" fill="#6a118f"/>
<circle cx="231.4" cy="53.5" r="2.2" fill="#6a118f"/>
<circle cx="240.7" cy="54.6" r="2.2" fill="#6a118f"/>
<circle cx="249.8" cy="54.6" r="2.2" fill="#6a118f"/>
<circle cx="252.0" cy="54.9" r="2.2" fill="#6a118f"/>
<circle cx="237.7" cy="58.4" r="2.2" fill="#6a118f"/>
<circle cx="237.2" cy="65.9" r="2.2" fill="#6a118f"/>
<circle cx="269.5" cy="62.6" r="2.2" fill="#6a118f"/>
<circle cx="237.4" cy="74.6" r="2.2" fill="#6a118f"/>
<circle cx="242.1" cy="74.4" r="2.2" fill="#6a118f"/>
<circle cx="233.0" cy="77.4" r="2.2" fill="#6a118f"/>
<circle cx="271.5" cy="32.6" r="2.2" fill="#d55ec4"/>
<circle cx="291.5" cy="37.9" r="2.2" fill="#d55ec4"/>
<circle cx="259.9" cy="48.6" r="2.2" fill="#d55ec4"/>
<circle cx="265.1" cy="47.2" r="2.2" fill="#d55ec4"/>
<circle cx="270.4" cy="46.1" r="2.2" fill="#d55ec4"/>
<circle cx="263.8" cy="54.1" r="2.2" fill="#d55ec4"/>
<circle cx="230.6" cy="56.2" r="2.2" fill="#d55ec4"/>
<circle cx="244.3" cy="55.7" r="2.2" fill="#d55ec4"/>
<circle cx="243.5" cy="59.0" r="2.2" fill="#d55ec4"/>
<circle cx="252.0" cy="57.6" r="2.2" fill="#d55ec4"/>
<circle cx="235.2" cy="61.7" r="2.2" fill="#d55ec4"/>
<circle cx="239.9" cy="61.2" r="2.2" fill="#d55ec4"/>
<circle cx="241.8" cy="60.4" r="2.2" fill="#d55ec4"/>
<circle cx="230.0" cy="62.6" r="2.2" fill="#d55ec4"/>
<circle cx="240.4" cy="62.8" r="2.2" fill="#d55ec4"/>
<circle cx="245.1" cy="68.0" r="2.2" fill="#d55ec4"/>
<circle cx="235.5" cy="68.0" r="2.2" fill="#d55ec4"/>
<circle cx="234.4" cy="72.2" r="2.2" fill="#d55ec4"/>
<circle cx="245.9" cy="72.2" r="2.2" fill="#d55ec4"/>
<circle cx="247.6" cy="75.5" r="2.2" fill="#d55ec4"/>
<circle cx="255.0" cy="71.9" r="2.2" fill="#d55ec4"/>
<circle cx="261.9" cy="69.4" r="2.2" fill="#d55ec4"/>
<circle cx="287.1" cy="37.9" r="2.2" fill="#f2506a"/>
<circle cx="297.3" cy="40.1" r="2.2" fill="#f2506a"/>
<circle cx="291.2" cy="44.4" r="2.2" fill="#f2506a"/>
<circle cx="266.0" cy="59.3" r="2.2" fill="#f2506a"/>
<circle cx="283.0" cy="60.6" r="2.2" fill="#f2506a"/>
<circle cx="279.4" cy="63.1" r="2.2" fill="#f2506a"/>
<circle cx="278.0" cy="65.3" r="2.2" fill="#f2506a"/>
<circle cx="274.5" cy="65.0" r="2.2" fill="#f2506a"/>
<circle cx="283.0" cy="69.1" r="2.2" fill="#f2506a"/>
<circle cx="273.4" cy="71.1" r="2.2" fill="#f2506a"/>
<circle cx="276.9" cy="70.5" r="2.2" fill="#f2506a"/>
<circle cx="279.1" cy="74.9" r="2.2" fill="#f2506a"/>
<circle cx="275.0" cy="74.1" r="2.2" fill="#f2506a"/>
<circle cx="274.8" cy="79.3" r="2.2" fill="#f2506a"/>
<circle cx="271.2" cy="81.8" r="2.2" fill="#f2506a"/>
<circle cx="265.1" cy="80.1" r="2.2" fill="#f2506a"/>
<circle cx="263.0" cy="87.0" r="2.2" fill="#f2506a"/>
<circle cx="261.9" cy="91.4" r="2.2" fill="#f2506a"/>
<circle cx="271.7" cy="65.9" r="2.2" fill="#f2506a"/>
<circle cx="267.9" cy="67.8" r="2.2" fill="#f2506a"/>
<circle cx="264.6" cy="72.2" r="2.2" fill="#f2506a"/>
<circle cx="297.3" cy="46.1" r="2.2" fill="#f8a2aa"/>
<circle cx="281.6" cy="53.8" r="2.2" fill="#f8a2aa"/>
<circle cx="283.8" cy="54.9" r="2.2" fill="#f8a2aa"/>
<circle cx="274.5" cy="61.7" r="2.2" fill="#f8a2aa"/>
<circle cx="271.5" cy="63.9" r="2.2" fill="#f8a2aa"/>
<circle cx="269.0" cy="66.7" r="2.2" fill="#f8a2aa"/>
<circle cx="266.8" cy="69.7" r="2.2" fill="#f8a2aa"/>
<circle cx="269.3" cy="69.7" r="2.2" fill="#f8a2aa"/>
<circle cx="270.9" cy="72.2" r="2.2" fill="#f8a2aa"/>
<circle cx="267.3" cy="73.3" r="2.2" fill="#f8a2aa"/>
<circle cx="266.2" cy="76.0" r="2.2" fill="#f8a2aa"/>
<circle cx="268.2" cy="76.3" r="2.2" fill="#f8a2aa"/>
<circle cx="259.1" cy="78.8" r="2.2" fill="#f8a2aa"/>
<circle cx="261.9" cy="79.0" r="2.2" fill="#f8a2aa"/>
<circle cx="262.1" cy="82.9" r="2.2" fill="#f8a2aa"/>
<circle cx="273.4" cy="69.1" r="2.2" fill="#f8a2aa"/>
<circle cx="276.7" cy="72.4" r="2.2" fill="#f8a2aa"/>
</g>
<text x="216.8" y="104.8" style="font-size:7.3px" fill="#222">cortical plate</text>
<text x="260.2" y="116.4" style="font-size:7.7px" text-anchor="middle" fill="#222">PC1: 18.5%</text>
<text x="209.3" y="62.9" style="font-size:7.7px" text-anchor="middle" transform="rotate(-90 209.3 62.9)" fill="#222">PC2: 11.9%</text>
<rect x="318.50" y="17.50" width="93.80" height="90.70" fill="none" stroke="#222" stroke-width="1"/>
<g stroke="#fff" stroke-width="0.35">
<circle cx="344.9" cy="23.9" r="2.2" fill="#6a118f"/>
<circle cx="338.6" cy="46.1" r="2.2" fill="#6a118f"/>
<circle cx="368.5" cy="48.0" r="2.2" fill="#6a118f"/>
<circle cx="335.6" cy="59.5" r="2.2" fill="#6a118f"/>
<circle cx="344.1" cy="57.1" r="2.2" fill="#6a118f"/>
<circle cx="353.1" cy="55.4" r="2.2" fill="#6a118f"/>
<circle cx="345.2" cy="63.4" r="2.2" fill="#6a118f"/>
<circle cx="348.5" cy="63.1" r="2.2" fill="#6a118f"/>
<circle cx="345.4" cy="67.5" r="2.2" fill="#6a118f"/>
<circle cx="356.2" cy="68.6" r="2.2" fill="#6a118f"/>
<circle cx="349.8" cy="70.8" r="2.2" fill="#6a118f"/>
<circle cx="347.4" cy="73.3" r="2.2" fill="#6a118f"/>
<circle cx="334.5" cy="70.0" r="2.2" fill="#6a118f"/>
<circle cx="335.0" cy="71.6" r="2.2" fill="#6a118f"/>
<circle cx="365.5" cy="74.6" r="2.2" fill="#6a118f"/>
<circle cx="336.4" cy="79.9" r="2.2" fill="#6a118f"/>
<circle cx="338.0" cy="85.6" r="2.2" fill="#6a118f"/>
<circle cx="335.8" cy="87.3" r="2.2" fill="#6a118f"/>
<circle cx="342.2" cy="17.5" r="2.2" fill="#d55ec4"/>
<circle cx="342.4" cy="26.1" r="2.2" fill="#d55ec4"/>
<circle cx="345.4" cy="26.9" r="2.2" fill="#d55ec4"/>
<circle cx="341.3" cy="34.0" r="2.2" fill="#d55ec4"/>
<circle cx="349.6" cy="38.7" r="2.2" fill="#d55ec4"/>
<circle cx="364.4" cy="45.3" r="2.2" fill="#d55ec4"/>
<circle cx="354.5" cy="52.1" r="2.2" fill="#d55ec4"/>
<circle cx="349.6" cy="59.0" r="2.2" fill="#d55ec4"/>
<circle cx="358.6" cy="63.7" r="2.2" fill="#d55ec4"/>
<circle cx="351.8" cy="67.5" r="2.2" fill="#d55ec4"/>
<circle cx="342.7" cy="70.8" r="2.2" fill="#d55ec4"/>
<circle cx="354.8" cy="73.5" r="2.2" fill="#d55ec4"/>
<circle cx="346.0" cy="75.7" r="2.2" fill="#d55ec4"/>
<circle cx="343.0" cy="77.4" r="2.2" fill="#d55ec4"/>
<circle cx="357.8" cy="78.2" r="2.2" fill="#d55ec4"/>
<circle cx="346.3" cy="83.1" r="2.2" fill="#d55ec4"/>
<circle cx="349.8" cy="84.0" r="2.2" fill="#d55ec4"/>
<circle cx="352.0" cy="83.7" r="2.2" fill="#d55ec4"/>
<circle cx="400.9" cy="35.1" r="2.2" fill="#f2506a"/>
<circle cx="387.7" cy="49.4" r="2.2" fill="#f2506a"/>
<circle cx="388.8" cy="54.6" r="2.2" fill="#f2506a"/>
<circle cx="392.4" cy="57.1" r="2.2" fill="#f2506a"/>
<circle cx="374.3" cy="55.2" r="2.2" fill="#f2506a"/>
<circle cx="378.4" cy="54.9" r="2.2" fill="#f2506a"/>
<circle cx="388.0" cy="59.8" r="2.2" fill="#f2506a"/>
<circle cx="387.4" cy="64.5" r="2.2" fill="#f2506a"/>
<circle cx="385.2" cy="65.6" r="2.2" fill="#f2506a"/>
<circle cx="374.0" cy="67.0" r="2.2" fill="#f2506a"/>
<circle cx="383.6" cy="70.5" r="2.2" fill="#f2506a"/>
<circle cx="389.4" cy="71.3" r="2.2" fill="#f2506a"/>
<circle cx="393.2" cy="72.4" r="2.2" fill="#f2506a"/>
<circle cx="393.2" cy="76.3" r="2.2" fill="#f2506a"/>
<circle cx="386.6" cy="74.6" r="2.2" fill="#f2506a"/>
<circle cx="381.9" cy="78.2" r="2.2" fill="#f2506a"/>
<circle cx="370.7" cy="80.1" r="2.2" fill="#f2506a"/>
<circle cx="386.6" cy="86.2" r="2.2" fill="#f2506a"/>
<circle cx="400.1" cy="67.8" r="2.2" fill="#f2506a"/>
<circle cx="374.5" cy="71.1" r="2.2" fill="#f2506a"/>
<circle cx="383.0" cy="46.6" r="2.2" fill="#f8a2aa"/>
<circle cx="381.7" cy="53.0" r="2.2" fill="#f8a2aa"/>
<circle cx="371.8" cy="55.4" r="2.2" fill="#f8a2aa"/>
<circle cx="381.1" cy="55.4" r="2.2" fill="#f8a2aa"/>
<circle cx="375.1" cy="58.2" r="2.2" fill="#f8a2aa"/>
<circle cx="378.1" cy="61.2" r="2.2" fill="#f8a2aa"/>
<circle cx="381.1" cy="60.9" r="2.2" fill="#f8a2aa"/>
<circle cx="385.2" cy="60.6" r="2.2" fill="#f8a2aa"/>
<circle cx="371.8" cy="62.8" r="2.2" fill="#f8a2aa"/>
<circle cx="375.6" cy="62.3" r="2.2" fill="#f8a2aa"/>
<circle cx="375.4" cy="69.1" r="2.2" fill="#f8a2aa"/>
<circle cx="383.9" cy="74.6" r="2.2" fill="#f8a2aa"/>
</g>
<text x="321.8" y="104.8" style="font-size:7.3px" fill="#222">subplate</text>
<text x="365.4" y="116.4" style="font-size:7.7px" text-anchor="middle" fill="#222">PC1: 20.2%</text>
<text x="314.3" y="62.9" style="font-size:7.7px" text-anchor="middle" transform="rotate(-90 314.3 62.9)" fill="#222">PC2: 12.5%</text>
<rect x="424.00" y="17.50" width="93.70" height="90.70" fill="none" stroke="#222" stroke-width="1"/>
<g stroke="#fff" stroke-width="0.35">
<circle cx="450.1" cy="48.3" r="2.2" fill="#6a118f"/>
<circle cx="448.4" cy="49.7" r="2.2" fill="#6a118f"/>
<circle cx="452.8" cy="51.3" r="2.2" fill="#6a118f"/>
<circle cx="457.8" cy="49.7" r="2.2" fill="#6a118f"/>
<circle cx="444.0" cy="52.1" r="2.2" fill="#6a118f"/>
<circle cx="442.7" cy="58.7" r="2.2" fill="#6a118f"/>
<circle cx="446.8" cy="58.2" r="2.2" fill="#6a118f"/>
<circle cx="450.3" cy="56.8" r="2.2" fill="#6a118f"/>
<circle cx="451.4" cy="59.5" r="2.2" fill="#6a118f"/>
<circle cx="439.4" cy="61.2" r="2.2" fill="#6a118f"/>
<circle cx="441.6" cy="66.1" r="2.2" fill="#6a118f"/>
<circle cx="440.5" cy="70.2" r="2.2" fill="#6a118f"/>
<circle cx="444.3" cy="75.7" r="2.2" fill="#6a118f"/>
<circle cx="448.7" cy="74.6" r="2.2" fill="#6a118f"/>
<circle cx="449.3" cy="76.3" r="2.2" fill="#6a118f"/>
<circle cx="432.5" cy="80.1" r="2.2" fill="#6a118f"/>
<circle cx="464.6" cy="65.3" r="2.2" fill="#6a118f"/>
<circle cx="475.0" cy="70.5" r="2.2" fill="#6a118f"/>
<circle cx="468.2" cy="29.6" r="2.2" fill="#d55ec4"/>
<circle cx="470.9" cy="31.0" r="2.2" fill="#d55ec4"/>
<circle cx="478.9" cy="29.4" r="2.2" fill="#d55ec4"/>
<circle cx="459.4" cy="42.5" r="2.2" fill="#d55ec4"/>
<circle cx="472.6" cy="40.1" r="2.2" fill="#d55ec4"/>
<circle cx="461.9" cy="57.1" r="2.2" fill="#d55ec4"/>
<circle cx="469.8" cy="59.3" r="2.2" fill="#d55ec4"/>
<circle cx="458.3" cy="63.4" r="2.2" fill="#d55ec4"/>
<circle cx="451.4" cy="66.1" r="2.2" fill="#d55ec4"/>
<circle cx="453.4" cy="67.0" r="2.2" fill="#d55ec4"/>
<circle cx="452.8" cy="68.0" r="2.2" fill="#d55ec4"/>
<circle cx="444.3" cy="66.7" r="2.2" fill="#d55ec4"/>
<circle cx="452.8" cy="82.0" r="2.2" fill="#d55ec4"/>
<circle cx="484.9" cy="44.2" r="2.2" fill="#f2506a"/>
<circle cx="483.8" cy="47.5" r="2.2" fill="#f2506a"/>
<circle cx="492.1" cy="51.9" r="2.2" fill="#f2506a"/>
<circle cx="479.2" cy="62.3" r="2.2" fill="#f2506a"/>
<circle cx="479.4" cy="70.5" r="2.2" fill="#f2506a"/>
<circle cx="478.9" cy="76.8" r="2.2" fill="#f2506a"/>
<circle cx="480.5" cy="76.8" r="2.2" fill="#f2506a"/>
<circle cx="487.9" cy="70.8" r="2.2" fill="#f2506a"/>
<circle cx="497.0" cy="69.7" r="2.2" fill="#f2506a"/>
<circle cx="506.9" cy="70.5" r="2.2" fill="#f2506a"/>
<circle cx="502.8" cy="75.5" r="2.2" fill="#f2506a"/>
<circle cx="489.6" cy="80.1" r="2.2" fill="#f2506a"/>
<circle cx="483.0" cy="84.5" r="2.2" fill="#f2506a"/>
<circle cx="477.2" cy="89.7" r="2.2" fill="#f2506a"/>
<circle cx="486.3" cy="92.8" r="2.2" fill="#f2506a"/>
<circle cx="489.3" cy="93.8" r="2.2" fill="#f2506a"/>
<circle cx="488.2" cy="39.8" r="2.2" fill="#f8a2aa"/>
<circle cx="489.0" cy="45.3" r="2.2" fill="#f8a2aa"/>
<circle cx="488.8" cy="54.3" r="2.2" fill="#f8a2aa"/>
<circle cx="499.8" cy="54.6" r="2.2" fill="#f8a2aa"/>
<circle cx="484.4" cy="57.9" r="2.2" fill="#f8a2aa"/>
<circle cx="489.9" cy="58.7" r="2.2" fill="#f8a2aa"/>
<circle cx="495.4" cy="59.3" r="2.2" fill="#f8a2aa"/>
<circle cx="481.1" cy="62.3" r="2.2" fill="#f8a2aa"/>
<circle cx="486.0" cy="61.2" r="2.2" fill="#f8a2aa"/>
<circle cx="487.7" cy="63.9" r="2.2" fill="#f8a2aa"/>
<circle cx="491.0" cy="65.0" r="2.2" fill="#f8a2aa"/>
<circle cx="485.5" cy="66.4" r="2.2" fill="#f8a2aa"/>
<circle cx="486.9" cy="68.9" r="2.2" fill="#f8a2aa"/>
<circle cx="487.9" cy="71.3" r="2.2" fill="#f8a2aa"/>
</g>
<text x="427.3" y="104.8" style="font-size:7.3px" fill="#222">intermediate</text>
<text x="470.9" y="116.4" style="font-size:7.7px" text-anchor="middle" fill="#222">PC1: 20.4%</text>
<text x="419.8" y="62.9" style="font-size:7.7px" text-anchor="middle" transform="rotate(-90 419.8 62.9)" fill="#222">PC2: 11.5%</text>
<rect x="213.50" y="122.30" width="93.50" height="89.70" fill="none" stroke="#222" stroke-width="1"/>
<g stroke="#fff" stroke-width="0.35">
<circle cx="266.8" cy="136.6" r="2.2" fill="#6a118f"/>
<circle cx="263.0" cy="139.4" r="2.2" fill="#6a118f"/>
<circle cx="270.4" cy="142.4" r="2.2" fill="#6a118f"/>
<circle cx="253.3" cy="144.6" r="2.2" fill="#6a118f"/>
<circle cx="262.4" cy="145.2" r="2.2" fill="#6a118f"/>
<circle cx="252.2" cy="150.6" r="2.2" fill="#6a118f"/>
<circle cx="257.5" cy="149.5" r="2.2" fill="#6a118f"/>
<circle cx="242.9" cy="155.9" r="2.2" fill="#6a118f"/>
<circle cx="245.4" cy="158.3" r="2.2" fill="#6a118f"/>
<circle cx="250.6" cy="157.2" r="2.2" fill="#6a118f"/>
<circle cx="241.3" cy="162.4" r="2.2" fill="#6a118f"/>
<circle cx="245.1" cy="165.2" r="2.2" fill="#6a118f"/>
<circle cx="249.8" cy="166.0" r="2.2" fill="#6a118f"/>
<circle cx="238.3" cy="168.8" r="2.2" fill="#6a118f"/>
<circle cx="226.4" cy="172.0" r="2.2" fill="#6a118f"/>
<circle cx="263.8" cy="143.0" r="2.2" fill="#d55ec4"/>
<circle cx="255.5" cy="151.2" r="2.2" fill="#d55ec4"/>
<circle cx="253.6" cy="157.5" r="2.2" fill="#d55ec4"/>
<circle cx="255.5" cy="158.6" r="2.2" fill="#d55ec4"/>
<circle cx="256.9" cy="161.1" r="2.2" fill="#d55ec4"/>
<circle cx="252.8" cy="163.5" r="2.2" fill="#d55ec4"/>
<circle cx="242.4" cy="160.8" r="2.2" fill="#d55ec4"/>
<circle cx="244.8" cy="168.5" r="2.2" fill="#d55ec4"/>
<circle cx="248.7" cy="165.5" r="2.2" fill="#d55ec4"/>
<circle cx="263.8" cy="166.8" r="2.2" fill="#d55ec4"/>
<circle cx="243.2" cy="181.4" r="2.2" fill="#d55ec4"/>
<circle cx="233.0" cy="184.4" r="2.2" fill="#d55ec4"/>
<circle cx="231.1" cy="188.5" r="2.2" fill="#d55ec4"/>
<circle cx="224.0" cy="191.8" r="2.2" fill="#d55ec4"/>
<circle cx="280.0" cy="161.3" r="2.2" fill="#f2506a"/>
<circle cx="284.1" cy="164.6" r="2.2" fill="#f2506a"/>
<circle cx="281.1" cy="168.5" r="2.2" fill="#f2506a"/>
<circle cx="274.2" cy="173.1" r="2.2" fill="#f2506a"/>
<circle cx="267.9" cy="178.4" r="2.2" fill="#f2506a"/>
<circle cx="271.7" cy="180.0" r="2.2" fill="#f2506a"/>
<circle cx="274.8" cy="180.6" r="2.2" fill="#f2506a"/>
<circle cx="277.5" cy="176.2" r="2.2" fill="#f2506a"/>
<circle cx="265.7" cy="183.0" r="2.2" fill="#f2506a"/>
<circle cx="260.8" cy="184.9" r="2.2" fill="#f2506a"/>
<circle cx="266.0" cy="186.3" r="2.2" fill="#f2506a"/>
<circle cx="260.2" cy="182.8" r="2.2" fill="#f2506a"/>
<circle cx="276.7" cy="165.2" r="2.2" fill="#f8a2aa"/>
<circle cx="275.0" cy="168.5" r="2.2" fill="#f8a2aa"/>
<circle cx="272.0" cy="169.9" r="2.2" fill="#f8a2aa"/>
<circle cx="270.6" cy="171.8" r="2.2" fill="#f8a2aa"/>
<circle cx="279.7" cy="174.0" r="2.2" fill="#f8a2aa"/>
<circle cx="265.1" cy="174.8" r="2.2" fill="#f8a2aa"/>
<circle cx="273.4" cy="177.0" r="2.2" fill="#f8a2aa"/>
<circle cx="269.3" cy="175.9" r="2.2" fill="#f8a2aa"/>
<circle cx="262.7" cy="181.4" r="2.2" fill="#f8a2aa"/>
<circle cx="267.3" cy="181.4" r="2.2" fill="#f8a2aa"/>
<circle cx="276.4" cy="170.4" r="2.2" fill="#f8a2aa"/>
</g>
<text x="216.8" y="208.6" style="font-size:7.3px" fill="#222">subventricular</text>
<text x="260.2" y="220.2" style="font-size:7.7px" text-anchor="middle" fill="#222">PC1: 15.9%</text>
<text x="209.3" y="167.2" style="font-size:7.7px" text-anchor="middle" transform="rotate(-90 209.3 167.2)" fill="#222">PC2: 15.8%</text>
<rect x="318.50" y="122.30" width="93.80" height="89.70" fill="none" stroke="#222" stroke-width="1"/>
<g stroke="#fff" stroke-width="0.35">
<circle cx="350.4" cy="128.7" r="2.2" fill="#6a118f"/>
<circle cx="331.2" cy="159.7" r="2.2" fill="#6a118f"/>
<circle cx="333.4" cy="161.1" r="2.2" fill="#6a118f"/>
<circle cx="322.4" cy="162.7" r="2.2" fill="#6a118f"/>
<circle cx="322.9" cy="164.6" r="2.2" fill="#6a118f"/>
<circle cx="330.4" cy="169.3" r="2.2" fill="#6a118f"/>
<circle cx="333.4" cy="168.5" r="2.2" fill="#6a118f"/>
<circle cx="333.4" cy="172.3" r="2.2" fill="#6a118f"/>
<circle cx="337.2" cy="172.6" r="2.2" fill="#6a118f"/>
<circle cx="324.9" cy="172.0" r="2.2" fill="#6a118f"/>
<circle cx="343.5" cy="175.3" r="2.2" fill="#6a118f"/>
<circle cx="347.4" cy="174.5" r="2.2" fill="#6a118f"/>
<circle cx="347.1" cy="177.3" r="2.2" fill="#6a118f"/>
<circle cx="326.0" cy="186.9" r="2.2" fill="#6a118f"/>
<circle cx="346.0" cy="186.9" r="2.2" fill="#6a118f"/>
<circle cx="338.0" cy="197.8" r="2.2" fill="#6a118f"/>
<circle cx="338.3" cy="199.2" r="2.2" fill="#6a118f"/>
<circle cx="327.1" cy="127.9" r="2.2" fill="#d55ec4"/>
<circle cx="335.3" cy="128.7" r="2.2" fill="#d55ec4"/>
<circle cx="335.3" cy="155.9" r="2.2" fill="#d55ec4"/>
<circle cx="340.2" cy="157.2" r="2.2" fill="#d55ec4"/>
<circle cx="345.7" cy="154.5" r="2.2" fill="#d55ec4"/>
<circle cx="348.7" cy="154.2" r="2.2" fill="#d55ec4"/>
<circle cx="356.2" cy="155.0" r="2.2" fill="#d55ec4"/>
<circle cx="346.3" cy="160.0" r="2.2" fill="#d55ec4"/>
<circle cx="338.9" cy="166.6" r="2.2" fill="#d55ec4"/>
<circle cx="340.5" cy="173.1" r="2.2" fill="#d55ec4"/>
<circle cx="352.9" cy="176.2" r="2.2" fill="#d55ec4"/>
<circle cx="354.5" cy="176.2" r="2.2" fill="#d55ec4"/>
<circle cx="346.8" cy="179.2" r="2.2" fill="#d55ec4"/>
<circle cx="335.6" cy="179.2" r="2.2" fill="#d55ec4"/>
<circle cx="346.5" cy="189.3" r="2.2" fill="#d55ec4"/>
<circle cx="379.8" cy="147.9" r="2.2" fill="#f2506a"/>
<circle cx="391.0" cy="153.9" r="2.2" fill="#f2506a"/>
<circle cx="386.9" cy="157.5" r="2.2" fill="#f2506a"/>
<circle cx="401.7" cy="157.0" r="2.2" fill="#f2506a"/>
<circle cx="404.5" cy="164.6" r="2.2" fill="#f2506a"/>
<circle cx="391.0" cy="173.7" r="2.2" fill="#f2506a"/>
<circle cx="395.7" cy="172.6" r="2.2" fill="#f2506a"/>
<circle cx="387.4" cy="177.0" r="2.2" fill="#f2506a"/>
<circle cx="400.9" cy="177.3" r="2.2" fill="#f2506a"/>
<circle cx="400.1" cy="179.7" r="2.2" fill="#f2506a"/>
<circle cx="390.7" cy="181.4" r="2.2" fill="#f2506a"/>
<circle cx="395.9" cy="180.8" r="2.2" fill="#f2506a"/>
<circle cx="392.9" cy="184.4" r="2.2" fill="#f2506a"/>
<circle cx="386.1" cy="135.8" r="2.2" fill="#f8a2aa"/>
<circle cx="390.5" cy="160.2" r="2.2" fill="#f8a2aa"/>
<circle cx="392.9" cy="160.8" r="2.2" fill="#f8a2aa"/>
<circle cx="395.9" cy="160.8" r="2.2" fill="#f8a2aa"/>
<circle cx="398.4" cy="161.6" r="2.2" fill="#f8a2aa"/>
<circle cx="399.0" cy="165.2" r="2.2" fill="#f8a2aa"/>
<circle cx="389.6" cy="166.0" r="2.2" fill="#f8a2aa"/>
<circle cx="393.8" cy="167.7" r="2.2" fill="#f8a2aa"/>
<circle cx="396.8" cy="168.2" r="2.2" fill="#f8a2aa"/>
<circle cx="395.7" cy="177.0" r="2.2" fill="#f8a2aa"/>
</g>
<text x="321.8" y="208.6" style="font-size:7.3px" fill="#222">ventricular</text>
<text x="365.4" y="220.2" style="font-size:7.7px" text-anchor="middle" fill="#222">PC1: 34.6%</text>
<text x="314.3" y="167.2" style="font-size:7.7px" text-anchor="middle" transform="rotate(-90 314.3 167.2)" fill="#222">PC2: 9.1%</text>
<circle cx="432.0" cy="157.3" r="1.25" fill="#6a118f"/>
<text x="443.2" y="160.0" style="font-size:7.2px" fill="#222">H376.IIIA.02 15 weeks</text>
<circle cx="432.0" cy="166.8" r="1.25" fill="#d55ec4"/>
<text x="443.2" y="169.5" style="font-size:7.2px" fill="#222">H376.IIIB.02 16 weeks</text>
<circle cx="432.0" cy="176.4" r="1.25" fill="#f2506a"/>
<text x="443.2" y="179.1" style="font-size:7.2px" fill="#222">H376.IV.02 21 weeks</text>
<circle cx="432.0" cy="185.9" r="1.25" fill="#f8a2aa"/>
<text x="443.2" y="188.6" style="font-size:7.2px" fill="#222">H376.IV.03 21 weeks</text>
<defs><filter id="bl2" x="-20%" y="-20%" width="140%" height="140%"><feGaussianBlur stdDeviation="2.2"/></filter><filter id="bl1" x="-20%" y="-50%" width="140%" height="200%"><feGaussianBlur stdDeviation="1.3"/></filter></defs>
<clipPath id="clipb11"><rect x="571.8" y="26" width="107.5" height="100.6"/></clipPath>
<rect x="571.80" y="26.00" width="107.50" height="100.60" fill="#fff" stroke="#a8a8a8" stroke-width="0.8"/>
<g clip-path="url(#clipb11)">
<path d="M578.0 81.0 L582.0 72.0 L588.0 65.0 L596.0 62.0 L606.0 61.6 L618.0 62.5 L632.0 66.0 L648.0 70.5 L662.0 74.5 L673.0 76.4 L662.0 78.5 L645.0 81.0 L625.0 84.5 L608.0 88.0 L596.0 89.5 L586.0 88.0 L579.0 86.0Z" fill="#cfcfcf" filter="url(#bl2)"/>
<path d="M588.0 75.5 L610.0 74.2 L640.0 75.0 L668.0 76.2 L640.0 78.0 L610.0 79.0 L588.0 78.0Z" fill="#a3a3a3" filter="url(#bl1)"/>
<path d="M595.1 62.6h.2M622.0 73.7h.2M646.9 73.6h.2M617.9 72.3h.2M624.1 73.8h.2M624.3 65.0h.2M647.3 71.5h.2M588.3 65.9h.2M659.4 75.3h.2M593.7 73.9h.2M638.1 76.0h.2M589.1 77.9h.2M608.1 62.1h.2M593.0 76.6h.2M610.7 63.0h.2M608.3 65.1h.2M588.6 69.0h.2M586.0 77.8h.2M645.7 71.3h.2M583.3 85.2h.2M623.6 79.1h.2M646.2 71.6h.2M635.2 67.7h.2M610.1 63.7h.2M600.8 87.4h.2M653.7 78.2h.2M612.6 86.4h.2M584.7 84.3h.2M608.3 80.2h.2M584.7 78.8h.2M605.6 77.0h.2M653.1 79.8h.2M631.4 68.6h.2M612.3 79.3h.2M594.0 84.1h.2M619.4 66.5h.2M584.0 77.6h.2M606.5 74.3h.2M644.6 73.7h.2M647.8 72.7h.2M616.0 75.7h.2M612.1 80.1h.2M640.0 69.3h.2M639.0 76.8h.2M609.7 84.3h.2M668.2 77.1h.2M609.8 81.9h.2M612.7 67.6h.2M585.1 68.9h.2M579.8 82.6h.2M621.0 65.0h.2M637.2 75.8h.2M648.3 71.7h.2M617.8 67.0h.2M612.9 66.6h.2M594.1 74.7h.2M653.4 77.9h.2M639.6 75.9h.2M644.1 78.6h.2M596.3 87.5h.2M609.7 85.8h.2M619.6 77.8h.2M608.3 72.4h.2M632.0 68.1h.2M640.6 73.4h.2M608.2 82.9h.2M598.7 68.3h.2M658.3 76.8h.2M606.7 69.0h.2M619.6 69.0h.2M606.6 82.5h.2M586.1 72.9h.2M610.7 69.0h.2M645.4 70.8h.2M637.4 81.6h.2M603.6 74.2h.2M628.7 73.7h.2M605.2 66.9h.2M627.3 84.0h.2M646.8 73.8h.2M624.9 78.6h.2M625.3 66.9h.2M639.6 79.5h.2M620.5 65.3h.2M657.9 74.4h.2M590.1 83.6h.2M630.9 72.4h.2M612.8 72.2h.2M607.8 79.2h.2M666.4 76.7h.2M600.6 76.7h.2M617.9 74.8h.2M634.6 77.6h.2M629.2 70.9h.2M599.7 77.6h.2M627.5 83.4h.2M591.0 70.6h.2M591.8 74.9h.2M582.4 80.3h.2M630.6 76.6h.2M583.0 82.6h.2M600.1 80.8h.2M583.2 73.7h.2M601.5 63.0h.2M671.1 76.6h.2M621.1 85.1h.2M623.4 72.5h.2M611.8 67.8h.2M583.1 75.0h.2M607.7 77.5h.2M612.3 73.7h.2M601.5 80.7h.2M585.4 78.8h.2M594.7 62.9h.2M605.6 74.6h.2M594.2 70.9h.2M606.4 69.8h.2M642.0 79.8h.2M601.6 75.2h.2M608.4 81.2h.2M606.4 79.4h.2M618.2 72.3h.2M584.2 72.1h.2M632.6 80.2h.2M611.4 83.1h.2M591.4 75.8h.2M599.1 72.8h.2M653.4 79.6h.2M599.8 69.9h.2M629.7 69.5h.2M591.6 64.2h.2M637.2 70.7h.2M614.1 75.4h.2M599.2 74.3h.2M600.3 70.5h.2M623.8 84.6h.2M624.9 80.6h.2M595.8 70.9h.2M613.6 65.3h.2M641.5 72.4h.2M617.5 63.5h.2M617.5 68.9h.2M620.5 65.2h.2M580.3 77.9h.2M604.0 78.5h.2M650.1 77.7h.2M619.2 81.9h.2M606.6 69.9h.2M634.4 80.6h.2M619.9 74.6h.2M601.8 73.7h.2M609.4 79.6h.2M639.1 80.5h.2M605.0 76.7h.2M610.9 69.4h.2M611.6 65.7h.2M629.8 78.0h.2M648.4 73.0h.2M625.7 64.5h.2M625.0 66.8h.2M607.5 69.8h.2M594.5 82.0h.2M604.4 68.1h.2M588.9 83.9h.2M610.2 83.8h.2M628.6 70.2h.2M642.4 78.0h.2M588.0 84.1h.2M630.9 72.3h.2M627.1 82.1h.2M614.2 66.2h.2M607.9 72.4h.2M594.6 70.5h.2M598.1 70.6h.2M656.2 78.9h.2M606.7 64.7h.2M597.9 77.1h.2M584.9 85.8h.2M613.8 86.6h.2M631.4 73.7h.2M586.5 85.6h.2M589.8 73.1h.2M604.6 71.7h.2M600.9 82.3h.2M641.1 81.1h.2M589.5 81.4h.2M629.0 70.5h.2M586.6 84.9h.2M584.2 80.2h.2M653.2 73.0h.2M621.9 65.8h.2M616.2 78.2h.2M585.2 79.3h.2M604.4 81.1h.2M620.6 71.8h.2M635.4 70.5h.2M579.5 79.4h.2M622.3 77.3h.2M605.7 69.0h.2M615.4 71.2h.2M608.5 61.9h.2M594.0 78.4h.2M603.9 76.0h.2M587.4 78.9h.2M637.7 67.7h.2M610.5 82.4h.2M617.9 71.2h.2M628.9 70.5h.2M623.0 73.4h.2M599.1 87.3h.2M585.3 79.3h.2M634.9 75.7h.2M627.7 68.8h.2M621.8 63.5h.2M589.2 69.2h.2M608.2 74.4h.2M604.8 85.5h.2M669.3 75.8h.2M594.6 63.5h.2M636.7 80.7h.2M606.1 64.1h.2M634.7 69.9h.2M588.4 78.9h.2M639.0 75.2h.2M588.2 69.3h.2M598.9 81.5h.2M605.7 80.7h.2M623.0 77.4h.2M599.9 78.1h.2M606.3 83.5h.2M630.4 77.0h.2M592.0 74.0h.2M620.8 63.8h.2M616.7 85.7h.2M632.5 70.5h.2M593.0 70.1h.2M591.2 78.1h.2M644.4 73.4h.2M611.0 76.4h.2M637.4 72.8h.2M637.3 77.7h.2M660.9 76.1h.2M581.5 79.6h.2M610.8 82.5h.2M622.5 73.8h.2M619.2 83.8h.2M607.0 65.6h.2M593.2 85.0h.2M615.6 83.8h.2M586.8 79.4h.2M621.5 76.2h.2M648.3 72.4h.2M620.8 73.1h.2M593.1 67.5h.2M598.4 67.3h.2M597.9 85.4h.2M616.2 64.5h.2M634.5 80.6h.2M636.0 68.0h.2M596.3 69.3h.2M632.8 67.9h.2M655.1 73.8h.2M613.1 73.9h.2M595.8 62.9h.2M604.6 84.2h.2M580.4 83.6h.2M612.6 75.3h.2M638.4 82.1h.2M600.3 84.9h.2M645.0 78.4h.2M643.7 78.9h.2M620.1 81.1h.2M613.8 68.0h.2M611.7 72.0h.2M615.7 65.5h.2M583.1 80.6h.2M617.9 82.4h.2M643.7 78.6h.2M640.2 80.3h.2M641.5 75.8h.2M604.5 72.2h.2M580.1 81.3h.2M604.4 74.0h.2M612.6 62.2h.2M601.5 64.6h.2M596.0 69.8h.2M614.2 63.3h.2M590.5 68.4h.2M611.5 71.0h.2M659.9 77.7h.2M602.3 71.2h.2M619.3 81.1h.2M593.1 71.1h.2M619.5 73.1h.2M598.7 74.6h.2M597.0 66.5h.2M583.3 79.3h.2M640.1 76.3h.2M582.7 71.4h.2M591.5 80.5h.2M635.1 78.4h.2M588.7 77.4h.2M629.4 79.5h.2M580.7 82.1h.2M597.2 70.2h.2M600.8 81.7h.2M603.8 86.5h.2M618.8 80.9h.2M604.6 75.7h.2M622.8 71.5h.2M623.1 81.8h.2M625.5 82.0h.2M620.4 81.9h.2M597.0 83.5h.2M590.4 68.6h.2M618.4 69.6h.2M597.4 62.8h.2M605.9 71.8h.2M638.6 76.9h.2M650.7 72.8h.2M587.8 72.7h.2M595.5 70.0h.2M612.1 86.7h.2M608.0 71.4h.2M603.7 73.8h.2M612.3 70.2h.2M621.6 72.7h.2M621.5 78.2h.2M601.8 86.2h.2M596.0 85.8h.2M602.5 71.7h.2M594.2 64.7h.2M615.7 82.3h.2M633.1 80.7h.2M630.6 74.2h.2M597.1 78.0h.2M590.3 67.7h.2M615.8 63.9h.2M616.8 66.5h.2M653.9 73.7h.2M662.1 76.5h.2M627.5 77.3h.2M614.9 77.9h.2M590.9 86.4h.2M629.4 70.0h.2M614.0 84.7h.2M649.8 75.0h.2M610.1 87.1h.2M600.6 70.4h.2M620.1 71.3h.2M662.5 78.3h.2M612.5 72.5h.2M604.4 65.4h.2M623.1 68.6h.2M606.1 80.3h.2M595.9 65.3h.2M620.2 80.8h.2M617.1 85.2h.2M588.2 77.9h.2M624.2 66.2h.2M595.5 84.5h.2M605.8 61.9h.2M593.0 88.7h.2M632.2 73.9h.2M586.0 80.1h.2M604.5 79.9h.2M595.4 66.1h.2M653.2 78.0h.2M670.6 76.5h.2M622.8 74.3h.2M598.6 86.3h.2M607.4 77.9h.2M613.8 85.5h.2M608.6 87.3h.2M607.1 83.4h.2M640.9 69.0h.2M623.6 76.9h.2M618.1 85.3h.2M625.7 67.7h.2M608.5 86.1h.2M596.6 70.2h.2M635.2 81.2h.2M603.5 78.7h.2M629.2 69.1h.2M581.5 78.4h.2M660.5 75.7h.2M635.8 69.4h.2M592.0 72.9h.2M617.9 72.2h.2M597.3 64.2h.2M606.0 85.7h.2M663.1 77.4h.2M598.8 75.8h.2M638.9 77.2h.2M616.8 71.9h.2M631.7 68.7h.2M601.2 78.3h.2M611.0 63.4h.2M598.6 85.6h.2M636.4 81.8h.2M597.9 67.8h.2M609.8 73.6h.2M618.4 73.1h.2M604.8 82.4h.2M590.5 83.2h.2M584.5 71.8h.2M589.6 70.4h.2M592.9 72.3h.2M627.5 65.9h.2M625.2 72.5h.2M635.3 81.7h.2M594.7 65.6h.2M609.9 72.9h.2M620.6 78.5h.2M594.4 65.3h.2M593.2 75.4h.2M667.4 77.0h.2M610.9 72.8h.2M631.4 82.5h.2M583.2 78.1h.2M624.2 67.7h.2M597.2 78.9h.2M622.2 74.2h.2M638.9 77.1h.2M582.4 74.6h.2M636.2 70.2h.2M629.4 80.6h.2M611.2 73.8h.2M614.9 86.2h.2M640.5 74.9h.2M622.2 80.8h.2M612.1 85.3h.2M665.9 75.2h.2M611.9 64.2h.2M654.0 73.8h.2M633.0 74.3h.2M644.2 75.3h.2M585.2 79.0h.2M609.4 85.9h.2M637.5 77.3h.2M620.8 80.5h.2M594.3 79.1h.2M630.1 77.9h.2M633.9 82.6h.2M605.9 83.1h.2M627.7 76.9h.2M639.1 76.0h.2M587.6 76.9h.2M616.1 70.1h.2M617.5 69.9h.2M601.4 63.8h.2M604.8 65.5h.2M621.6 69.6h.2M598.3 72.8h.2M601.8 64.0h.2M651.9 77.4h.2M621.7 69.0h.2M649.7 76.1h.2M581.5 82.4h.2M597.5 66.4h.2M614.8 74.1h.2M584.0 83.6h.2M662.8 77.9h.2M650.4 71.9h.2M598.5 65.7h.2M620.9 84.6h.2M610.7 83.6h.2M637.6 77.6h.2M578.9 81.1h.2M588.7 80.1h.2M647.0 77.9h.2M595.4 63.0h.2M628.1 73.7h.2M593.8 86.1h.2M653.4 76.3h.2M598.0 70.0h.2M612.1 80.1h.2M625.8 84.0h.2M616.6 76.4h.2M617.4 69.4h.2M606.9 66.3h.2M594.5 78.8h.2M592.6 72.0h.2M597.9 77.1h.2M655.0 76.1h.2M585.9 68.7h.2M634.5 79.1h.2M588.0 79.8h.2M612.2 63.5h.2M609.8 63.2h.2M636.2 81.7h.2M604.3 83.5h.2M650.1 73.7h.2M653.0 77.5h.2M619.3 64.3h.2M608.0 85.3h.2M615.7 66.9h.2M590.6 87.2h.2M590.2 69.8h.2M597.8 73.2h.2M667.7 76.9h.2M635.3 82.4h.2M625.1 72.0h.2M616.8 78.3h.2M666.2 75.6h.2M582.1 80.9h.2M612.7 64.6h.2M603.4 77.4h.2M629.6 74.7h.2M624.6 64.2h.2M613.9 80.3h.2M609.1 70.7h.2M593.0 84.2h.2M589.4 69.9h.2M617.1 64.4h.2M628.8 73.0h.2M627.4 83.4h.2M583.3 71.9h.2M667.1 77.1h.2M622.4 71.1h.2M610.1 82.8h.2M628.4 76.0h.2M625.9 69.3h.2M608.2 66.0h.2M589.9 70.9h.2M646.9 76.7h.2M639.8 71.3h.2M605.6 80.4h.2M619.5 73.1h.2M595.8 69.7h.2M601.8 64.3h.2M611.5 67.4h.2M620.9 66.1h.2M591.1 69.7h.2M616.9 75.4h.2M604.6 84.7h.2M616.8 78.0h.2M604.0 63.5h.2M613.1 73.2h.2M609.9 68.7h.2M623.4 74.7h.2M594.4 76.6h.2M600.5 88.0h.2M610.7 72.6h.2M598.5 76.0h.2M599.2 80.4h.2M597.4 66.8h.2M636.8 75.2h.2M605.9 64.6h.2M624.1 71.8h.2M620.2 80.3h.2M612.2 86.1h.2M607.3 78.1h.2M635.5 81.6h.2M600.2 62.9h.2M617.7 64.0h.2M656.6 79.3h.2M635.1 73.4h.2M613.5 67.3h.2M591.5 88.1h.2M588.9 72.2h.2M640.9 69.9h.2M614.9 84.8h.2M590.8 75.3h.2M589.3 81.6h.2M642.1 71.2h.2M591.2 77.6h.2M619.3 81.8h.2M590.2 70.4h.2M601.6 78.9h.2M615.2 78.4h.2M600.4 83.9h.2M609.3 62.9h.2M632.4 73.7h.2M589.8 65.7h.2M628.1 75.4h.2M609.1 83.9h.2M588.3 67.4h.2M629.0 70.3h.2M597.3 73.0h.2M608.9 71.8h.2M616.9 73.3h.2M589.4 74.0h.2M599.5 77.0h.2M599.5 76.1h.2M642.8 75.8h.2M596.1 78.6h.2M616.2 67.5h.2M616.1 81.6h.2M582.6 87.0h.2M652.0 72.4h.2M615.7 79.3h.2M646.3 71.7h.2M651.9 77.8h.2M609.6 62.8h.2M626.0 70.4h.2M586.9 69.8h.2M617.8 71.3h.2M638.8 77.6h.2M598.6 63.6h.2M632.8 67.2h.2M609.7 78.5h.2M600.1 67.4h.2M634.5 76.8h.2M622.1 76.5h.2M633.6 68.8h.2M579.9 78.5h.2M613.4 62.3h.2M589.5 86.4h.2M620.2 65.6h.2M645.9 75.3h.2M635.5 72.4h.2M595.3 79.1h.2M653.0 72.3h.2M646.5 76.1h.2M653.5 75.3h.2M600.6 62.5h.2M631.6 79.9h.2M668.0 77.0h.2M617.2 67.2h.2M624.8 70.0h.2M615.2 77.3h.2M580.7 76.1h.2M614.3 81.5h.2M582.3 75.4h.2M634.1 79.7h.2M607.1 81.8h.2M605.6 76.9h.2M584.8 79.6h.2M586.2 68.7h.2M635.7 77.5h.2M602.5 84.1h.2M599.8 85.7h.2M610.1 72.9h.2M645.7 73.6h.2M617.8 78.0h.2M602.3 83.8h.2M638.0 75.2h.2M586.8 70.7h.2M610.5 85.4h.2M606.8 74.4h.2M615.2 79.0h.2M604.8 66.5h.2M628.3 75.6h.2M628.4 68.8h.2M635.7 76.8h.2M606.9 73.3h.2M624.3 77.7h.2M615.8 74.6h.2M628.6 81.1h.2M615.2 73.6h.2M584.9 72.8h.2M586.4 74.7h.2M590.7 66.7h.2M605.4 70.8h.2M613.1 70.5h.2M597.4 63.1h.2M599.4 71.2h.2M618.6 63.3h.2M591.0 75.4h.2M622.4 76.1h.2M643.8 75.7h.2M597.1 79.8h.2M601.0 83.0h.2M621.5 77.6h.2M615.9 63.3h.2M608.9 75.5h.2M591.2 65.0h.2M625.3 68.0h.2M613.4 62.3h.2M614.0 81.0h.2M583.0 77.0h.2M596.2 78.7h.2M610.9 77.0h.2M583.9 70.0h.2M599.9 88.6h.2M585.1 74.4h.2M607.1 63.8h.2M593.8 67.0h.2M587.6 82.1h.2M663.5 77.5h.2M614.9 67.1h.2M637.8 70.2h.2M627.1 83.1h.2M601.8 71.1h.2M630.9 67.3h.2M631.0 82.4h.2M619.6 80.0h.2M580.0 80.5h.2M609.8 75.5h.2M610.8 77.5h.2M611.2 65.1h.2M631.3 72.1h.2M644.8 73.6h.2M605.9 81.7h.2M593.7 79.5h.2M616.7 72.2h.2M630.5 67.6h.2M650.8 77.7h.2M590.5 84.6h.2M621.3 79.2h.2M588.0 69.7h.2M590.2 69.7h.2M617.4 69.9h.2M629.4 73.9h.2M618.4 68.3h.2M592.7 81.4h.2M650.1 77.8h.2M658.7 78.9h.2M646.5 76.3h.2M593.5 87.7h.2M594.6 84.0h.2M594.0 79.0h.2M638.4 82.1h.2M635.0 81.0h.2M618.7 65.6h.2M605.8 65.5h.2M624.1 77.8h.2M638.6 77.4h.2M594.6 79.8h.2M610.4 67.8h.2M617.8 73.2h.2M601.5 65.9h.2M592.0 72.6h.2M621.7 75.3h.2M605.5 66.1h.2M586.3 82.0h.2M609.3 80.0h.2M618.8 81.4h.2M604.7 83.1h.2M614.8 65.4h.2M617.1 84.9h.2M614.7 76.9h.2M604.5 78.9h.2M585.9 70.3h.2M612.1 67.6h.2M594.9 88.9h.2M611.0 72.5h.2M618.3 77.3h.2M623.3 65.0h.2M599.4 68.0h.2M607.6 84.4h.2M627.3 72.2h.2M606.2 62.3h.2M669.6 76.9h.2M643.6 72.3h.2M608.6 71.2h.2M656.3 76.7h.2M634.2 74.7h.2M619.9 77.2h.2M619.5 83.0h.2M651.7 79.1h.2M598.1 78.4h.2M591.6 68.3h.2M609.1 74.0h.2M599.8 66.5h.2M597.6 81.2h.2M586.0 84.9h.2M616.9 80.0h.2M641.4 68.7h.2M608.3 64.8h.2M583.5 77.4h.2M598.9 85.6h.2M589.9 65.7h.2M616.4 69.1h.2M651.7 79.2h.2M605.9 84.5h.2M589.4 80.8h.2M613.3 65.0h.2M611.7 80.8h.2M633.4 67.9h.2M601.3 71.5h.2M615.3 69.9h.2M633.2 81.8h.2M591.2 75.4h.2M644.4 73.4h.2M619.6 82.4h.2M637.0 70.5h.2M595.3 81.1h.2M587.8 71.5h.2M609.1 85.3h.2M607.5 76.6h.2M648.8 74.5h.2M648.8 79.7h.2M609.2 78.4h.2M657.7 76.1h.2M620.9 82.3h.2M624.3 68.7h.2M581.8 86.5h.2M662.1 74.7h.2M638.4 79.8h.2M615.0 73.2h.2M602.3 66.7h.2M613.3 72.1h.2M606.4 84.4h.2M598.6 67.1h.2M655.1 77.3h.2M610.8 71.9h.2M599.3 62.8h.2M590.0 66.2h.2M597.0 73.7h.2M640.1 77.0h.2M601.7 67.3h.2M636.2 70.7h.2M645.3 74.6h.2M595.7 65.6h.2M595.9 73.8h.2M626.5 74.3h.2M590.4 82.6h.2M594.3 74.4h.2M584.1 77.4h.2M585.8 82.4h.2M631.1 78.4h.2M613.1 84.1h.2M630.7 76.1h.2M612.3 84.9h.2M649.5 76.0h.2M623.4 75.8h.2M642.1 79.2h.2M614.3 66.6h.2M598.2 67.4h.2M620.1 65.1h.2M604.1 77.3h.2M655.0 74.4h.2M616.9 64.7h.2M604.9 64.8h.2M616.7 81.2h.2M632.1 82.0h.2M589.5 87.2h.2M620.2 79.8h.2M593.7 79.3h.2M590.5 72.2h.2M610.0 73.5h.2M595.4 81.7h.2M594.3 68.9h.2M586.7 87.7h.2M614.6 71.9h.2M592.7 69.0h.2M580.0 78.7h.2M602.7 83.7h.2M603.3 73.6h.2M583.1 86.8h.2M603.2 82.3h.2M616.3 75.4h.2M623.4 78.2h.2M595.4 70.9h.2M615.1 79.3h.2M585.1 76.6h.2M580.2 81.9h.2M654.1 79.5h.2M594.1 84.0h.2M614.9 80.8h.2M618.4 75.9h.2M640.8 76.6h.2M585.0 80.9h.2M594.6 86.2h.2M618.8 67.5h.2M595.7 67.7h.2M620.9 66.8h.2M587.4 78.5h.2M632.3 82.8h.2M632.2 70.3h.2M603.6 64.2h.2M600.5 81.6h.2M606.0 65.8h.2M616.4 73.5h.2M593.1 81.9h.2M634.6 74.4h.2M615.5 83.2h.2M602.3 79.3h.2M631.5 78.7h.2M585.8 80.3h.2M645.6 78.7h.2M594.4 63.7h.2M624.3 70.6h.2M660.9 78.5h.2M591.4 70.6h.2M579.9 77.7h.2M609.6 67.6h.2M600.9 68.0h.2M593.6 67.5h.2M646.1 79.0h.2M622.5 79.5h.2M619.5 70.0h.2M624.3 79.3h.2M603.6 67.7h.2M620.0 77.3h.2M625.1 84.0h.2M626.8 83.9h.2M593.9 86.5h.2M638.3 72.4h.2M615.3 73.5h.2M602.9 62.6h.2M584.4 84.6h.2M609.2 66.4h.2M618.9 84.2h.2M606.7 68.1h.2M609.9 65.3h.2M619.4 64.2h.2M593.5 63.2h.2M632.9 68.5h.2M615.5 79.2h.2M607.0 68.7h.2M638.5 68.1h.2M584.5 83.9h.2M634.8 82.1h.2M628.6 72.6h.2M612.7 70.5h.2M592.1 75.4h.2M588.7 73.2h.2M605.0 80.5h.2M654.7 77.8h.2M593.4 67.0h.2M604.3 80.2h.2M585.5 74.1h.2M661.3 77.5h.2M619.7 83.8h.2M610.5 84.1h.2M594.8 75.6h.2M631.4 68.0h.2M630.6 81.4h.2M649.8 73.3h.2M599.6 87.9h.2M607.2 74.6h.2M624.9 66.8h.2M605.3 65.3h.2M615.3 65.6h.2M608.1 72.2h.2M627.7 69.6h.2M596.9 73.5h.2M612.0 75.3h.2M648.9 70.8h.2M591.9 83.9h.2M591.5 83.6h.2M602.3 83.8h.2M623.2 75.5h.2M657.5 73.6h.2M633.1 67.6h.2M614.8 75.0h.2M640.9 69.6h.2M617.3 77.5h.2M603.6 75.1h.2M586.6 67.5h.2M631.9 78.6h.2M593.5 79.9h.2M595.4 65.3h.2M609.0 85.4h.2M617.4 74.5h.2M626.5 84.1h.2M604.9 73.4h.2M605.9 87.8h.2M599.7 65.7h.2M598.7 74.1h.2M594.4 86.6h.2M660.3 74.9h.2M594.6 79.4h.2M625.3 65.9h.2M601.2 74.2h.2M591.4 83.2h.2M608.2 70.3h.2M644.9 79.1h.2M622.2 79.9h.2M652.1 72.6h.2M658.5 76.3h.2M653.7 75.6h.2M604.5 64.3h.2M635.6 74.3h.2M624.5 74.9h.2M604.2 85.6h.2M593.8 77.7h.2M609.2 83.9h.2M613.1 83.9h.2M606.7 87.9h.2M596.8 73.6h.2M603.2 78.0h.2M620.2 85.4h.2M620.6 80.0h.2M582.0 77.1h.2M622.1 81.0h.2M654.8 75.1h.2M611.1 77.1h.2M638.9 70.6h.2M613.0 81.7h.2M622.2 84.1h.2M626.6 79.3h.2M622.0 75.0h.2M631.7 81.6h.2M580.8 75.3h.2M601.1 77.4h.2M627.4 76.3h.2M593.5 88.0h.2M583.1 72.9h.2M641.6 71.5h.2M634.5 76.4h.2M601.0 78.4h.2M652.1 78.7h.2M603.2 87.8h.2M593.0 84.3h.2M629.6 81.3h.2M627.6 67.1h.2M627.8 74.0h.2M645.2 78.7h.2M610.3 72.9h.2M603.3 80.7h.2M599.8 69.9h.2M655.1 74.0h.2M627.4 69.4h.2M611.0 78.1h.2M604.0 73.8h.2M632.9 75.2h.2M615.5 81.5h.2M637.6 80.2h.2M616.9 68.0h.2M608.9 78.2h.2M591.0 73.7h.2M647.5 73.8h.2M633.7 72.7h.2M585.5 86.5h.2M600.3 78.5h.2M621.4 78.6h.2M613.8 73.7h.2M644.9 78.4h.2M627.9 76.5h.2M611.1 86.1h.2M637.1 78.4h.2M592.4 86.9h.2M651.5 72.1h.2M612.7 85.9h.2M635.0 70.3h.2M588.3 77.2h.2M622.9 78.8h.2M650.7 79.6h.2M611.6 66.0h.2M638.6 79.6h.2M651.1 79.4h.2M634.8 79.6h.2M598.3 71.2h.2M647.9 78.4h.2M589.2 71.1h.2M654.2 79.1h.2M619.9 84.1h.2M614.6 63.4h.2M662.5 78.3h.2M580.0 80.2h.2M604.1 76.2h.2M613.2 66.9h.2M606.2 70.8h.2M615.6 83.5h.2M616.6 75.9h.2M599.6 74.4h.2M605.5 81.2h.2M644.3 69.9h.2M634.7 81.8h.2M645.0 77.9h.2M639.4 72.1h.2M639.2 79.5h.2M649.9 73.1h.2M583.5 82.7h.2M653.8 76.3h.2M619.4 79.0h.2M593.1 78.6h.2M589.7 82.8h.2M605.3 87.9h.2M631.9 69.2h.2M579.0 84.9h.2M584.1 83.6h.2M595.6 76.6h.2M633.3 74.0h.2M632.7 75.1h.2M618.9 72.7h.2M608.9 75.4h.2M617.7 71.9h.2M613.9 69.3h.2M627.5 79.9h.2M643.3 81.1h.2M586.2 77.1h.2M613.5 68.3h.2M587.4 87.8h.2M616.1 84.6h.2M608.2 86.4h.2M599.7 88.9h.2M598.8 83.0h.2M584.5 85.2h.2M591.4 72.7h.2M615.2 62.4h.2M605.5 63.3h.2M580.3 77.1h.2M586.4 69.9h.2M619.5 78.2h.2M591.4 70.8h.2M611.3 78.7h.2M632.8 78.9h.2M660.3 75.7h.2M643.8 77.5h.2M601.5 62.3h.2M610.0 80.3h.2M618.7 71.0h.2M624.6 64.4h.2M593.4 72.0h.2M623.1 66.4h.2" stroke="#9a9a9a" stroke-opacity="0.45" stroke-width="0.6" stroke-linecap="round" fill="none"/>
<path d="M593.6 77.2h.2M606.0 76.5h.2M606.5 77.2h.2M618.7 77.3h.2M660.9 76.4h.2M592.2 76.7h.2M630.3 75.3h.2M595.9 76.0h.2M630.3 78.1h.2M634.0 76.9h.2M649.1 76.7h.2M613.9 75.2h.2M614.7 75.7h.2M606.5 75.9h.2M611.6 75.4h.2M593.4 76.8h.2M632.7 77.7h.2M626.4 77.1h.2M618.3 74.6h.2M599.1 75.9h.2M650.3 77.2h.2M591.1 77.2h.2M631.3 76.3h.2M633.0 76.6h.2M591.7 77.3h.2M605.2 75.1h.2M655.5 76.8h.2M628.7 76.4h.2M627.7 77.3h.2M638.0 76.9h.2M607.1 78.2h.2M622.7 75.8h.2M602.4 75.5h.2M620.4 76.5h.2M616.9 77.6h.2M632.6 75.7h.2M645.5 76.3h.2M615.5 75.5h.2M613.2 77.3h.2M639.6 76.2h.2M605.9 77.4h.2M619.0 77.2h.2M597.2 76.8h.2M611.1 77.8h.2M635.7 76.2h.2M656.7 76.1h.2M606.2 78.3h.2M656.5 75.9h.2M621.8 77.1h.2M607.5 75.6h.2M619.8 77.5h.2M645.5 76.4h.2M645.9 75.9h.2M639.1 77.0h.2M636.1 76.1h.2M625.6 75.4h.2M611.4 74.4h.2M589.5 75.9h.2M643.5 77.7h.2M591.8 77.0h.2M594.7 75.2h.2M620.3 77.1h.2M607.4 77.5h.2M638.9 77.9h.2M591.8 76.0h.2M642.4 76.5h.2M632.4 75.2h.2M620.5 78.2h.2M624.1 75.4h.2M629.9 78.0h.2M600.5 77.0h.2M616.5 76.9h.2M599.0 76.6h.2M630.2 74.8h.2M643.3 75.4h.2M634.6 76.1h.2M627.6 77.4h.2M595.9 75.1h.2M624.9 76.4h.2M627.5 76.7h.2M594.9 76.0h.2M604.4 74.9h.2M657.4 76.5h.2M626.4 76.2h.2M646.1 77.3h.2M613.4 76.6h.2M652.0 77.1h.2M612.0 74.7h.2M630.3 75.0h.2M602.5 77.7h.2M617.5 78.0h.2M608.6 78.8h.2M627.6 77.0h.2M609.1 74.6h.2M615.5 77.1h.2M588.1 77.0h.2M610.6 74.7h.2M618.1 75.9h.2M641.9 75.3h.2M626.9 78.2h.2M654.9 76.7h.2M652.3 76.9h.2M600.5 75.6h.2M603.4 76.1h.2M644.6 75.6h.2M613.5 78.0h.2M615.2 75.7h.2M605.6 76.0h.2M621.1 76.5h.2M639.6 76.2h.2M589.8 77.2h.2M615.4 76.8h.2M615.0 74.9h.2M647.6 75.4h.2M594.2 77.3h.2M612.4 77.6h.2M605.0 78.2h.2M635.4 75.6h.2M617.7 77.0h.2M593.7 77.5h.2M589.0 77.8h.2M640.1 77.6h.2M654.1 76.8h.2M603.5 75.5h.2M631.7 75.9h.2M601.6 76.6h.2M603.4 77.2h.2M628.4 76.1h.2M591.2 77.7h.2M652.8 76.0h.2M610.0 76.8h.2M625.1 77.6h.2M595.8 75.8h.2M621.5 77.4h.2M623.2 77.4h.2M620.0 78.4h.2M590.6 75.7h.2M648.0 75.6h.2M646.0 76.4h.2M613.3 74.5h.2M606.7 77.0h.2M600.4 75.9h.2M607.6 75.0h.2M605.8 77.5h.2M593.5 77.9h.2M605.6 78.7h.2M609.5 78.6h.2M634.1 77.7h.2M593.3 75.6h.2M622.0 77.9h.2M619.7 77.3h.2M638.5 77.2h.2M644.2 75.3h.2M599.6 78.5h.2M593.9 76.5h.2M639.4 75.1h.2M595.4 75.3h.2M635.6 77.6h.2M620.7 77.6h.2M653.7 76.7h.2M602.2 75.0h.2M590.3 75.4h.2M623.3 78.4h.2M652.5 76.4h.2M653.0 76.1h.2M618.0 78.2h.2M627.6 75.7h.2M623.3 76.4h.2M621.4 77.9h.2M598.0 78.2h.2M659.3 76.6h.2M642.9 76.2h.2M603.7 76.1h.2M622.9 74.6h.2M618.5 76.1h.2M625.6 76.6h.2M625.2 76.3h.2M629.1 76.3h.2M593.6 76.9h.2M643.5 76.1h.2M605.0 74.8h.2M598.2 78.2h.2M624.9 75.5h.2M591.3 76.9h.2M593.2 75.2h.2M622.7 75.7h.2M604.1 74.6h.2M642.8 76.4h.2M657.3 76.4h.2M608.9 78.9h.2M620.7 76.9h.2M621.4 75.9h.2M608.4 78.1h.2M596.8 75.3h.2M605.4 78.0h.2M620.0 78.6h.2M618.0 78.2h.2M635.9 75.9h.2M615.4 76.8h.2M651.4 75.9h.2M652.2 76.3h.2M643.0 76.5h.2M607.3 77.1h.2M611.9 75.5h.2M636.8 76.8h.2M650.8 75.8h.2M612.7 74.9h.2M634.9 75.9h.2M611.1 74.8h.2M648.5 77.2h.2M625.1 77.2h.2M612.0 76.6h.2M612.2 77.1h.2M620.3 76.9h.2M605.7 78.0h.2M648.9 76.1h.2M650.9 77.1h.2M591.9 75.4h.2M626.4 76.1h.2M644.7 77.5h.2M606.4 78.2h.2M628.2 78.4h.2M657.5 76.5h.2M628.4 77.4h.2M645.4 75.6h.2M609.1 76.0h.2M612.5 78.0h.2M620.0 78.6h.2M642.9 76.9h.2M605.8 74.5h.2M594.9 75.8h.2M662.7 76.2h.2M634.2 77.3h.2M628.0 75.0h.2M628.8 76.0h.2M651.7 76.7h.2M639.5 77.1h.2M623.1 75.0h.2M621.3 75.0h.2M653.4 77.0h.2M616.3 77.3h.2M594.9 77.4h.2M617.3 77.9h.2M625.8 75.0h.2M619.3 75.9h.2M592.4 76.5h.2M605.1 78.5h.2M657.5 76.0h.2M626.0 75.1h.2M615.0 77.3h.2M600.2 76.5h.2M590.2 76.3h.2M605.7 74.7h.2M591.9 76.2h.2M634.5 76.6h.2M621.7 78.2h.2M613.3 77.5h.2M591.0 78.0h.2M635.8 77.8h.2M657.5 76.4h.2M610.9 77.8h.2M596.1 76.2h.2M612.7 78.6h.2M602.4 76.0h.2M600.6 78.1h.2M630.3 76.2h.2M656.2 76.1h.2M589.2 76.0h.2M604.4 77.9h.2M612.4 77.7h.2M606.7 74.4h.2M618.9 78.1h.2M608.0 77.8h.2M591.2 75.7h.2M645.7 76.5h.2M605.6 75.1h.2M636.9 77.8h.2M645.7 75.8h.2M630.5 76.5h.2M631.9 75.9h.2M635.8 77.2h.2M606.4 77.4h.2M641.4 75.4h.2M611.3 74.5h.2M615.8 75.0h.2M611.4 75.1h.2M597.9 75.2h.2M633.1 75.8h.2M611.3 76.1h.2M634.8 77.8h.2M600.9 75.5h.2M598.3 76.2h.2M632.3 76.0h.2M594.7 76.5h.2M626.6 77.1h.2M660.4 76.3h.2M608.3 78.1h.2M616.6 76.0h.2M631.7 75.1h.2M601.8 75.0h.2M632.3 75.0h.2M601.8 78.3h.2M616.5 78.5h.2M598.0 77.5h.2M606.2 75.1h.2M601.3 76.0h.2M612.6 77.9h.2M628.5 77.6h.2M615.2 75.1h.2M624.8 77.6h.2M603.0 75.2h.2M609.7 74.9h.2M635.4 75.2h.2M595.0 78.3h.2M591.5 77.4h.2M600.5 77.0h.2M644.4 75.2h.2M611.5 74.6h.2M617.0 76.2h.2M588.7 77.8h.2M609.1 77.6h.2M624.2 75.8h.2M628.7 76.6h.2M612.7 74.8h.2M629.3 77.5h.2M592.7 75.9h.2M595.9 78.0h.2M608.0 77.1h.2M614.8 74.7h.2M627.0 74.7h.2M599.3 75.4h.2M630.9 75.1h.2M617.5 76.5h.2M653.6 77.0h.2M654.2 77.1h.2M639.0 76.1h.2M611.0 75.5h.2M655.1 76.4h.2M611.5 75.3h.2M592.2 76.1h.2M606.2 77.2h.2M610.0 77.5h.2M602.9 77.0h.2M633.5 75.9h.2M640.7 75.3h.2M613.6 78.7h.2M604.2 77.7h.2M610.2 76.0h.2M625.8 76.5h.2M652.8 76.5h.2M627.8 76.9h.2M607.9 76.2h.2M589.1 76.6h.2M602.4 75.9h.2M648.0 76.5h.2M627.4 76.6h.2M637.0 75.8h.2M634.2 75.2h.2M588.5 75.5h.2M597.8 75.6h.2M639.6 76.5h.2M631.1 77.3h.2M593.8 77.9h.2M604.6 77.4h.2M601.9 77.2h.2M606.1 75.0h.2M608.8 74.3h.2M611.1 76.8h.2M627.8 77.0h.2M604.7 76.6h.2M606.7 78.1h.2M588.2 75.7h.2M620.5 78.2h.2M614.9 77.6h.2M594.3 77.2h.2M609.8 76.7h.2M591.3 77.0h.2M612.0 75.7h.2M605.8 77.0h.2M617.0 75.9h.2M628.1 74.9h.2M601.4 76.0h.2M614.5 76.2h.2M589.6 75.5h.2M640.0 76.8h.2M612.9 77.8h.2M595.3 78.0h.2M607.3 77.0h.2M628.4 78.1h.2M615.8 77.2h.2M619.2 78.3h.2M637.3 78.0h.2M593.6 76.3h.2M656.4 75.9h.2M636.3 76.9h.2M640.0 77.6h.2M612.1 77.0h.2M619.5 75.1h.2M632.9 76.5h.2M609.4 77.2h.2M606.6 77.3h.2M593.0 76.7h.2M596.3 75.7h.2M590.4 77.8h.2M621.3 75.4h.2M607.5 77.8h.2M638.0 77.0h.2M639.4 77.5h.2M653.8 76.1h.2M634.4 76.2h.2M639.7 77.7h.2M606.4 75.1h.2M617.6 77.8h.2M617.2 78.4h.2M595.2 75.6h.2M612.4 76.9h.2M631.2 77.4h.2M596.9 76.0h.2M593.7 77.5h.2M648.4 76.7h.2M639.5 77.1h.2M610.8 76.4h.2M618.5 77.7h.2M618.3 74.5h.2M608.1 78.9h.2M629.1 75.9h.2M610.2 79.0h.2M594.3 76.0h.2M603.7 76.3h.2M622.6 76.0h.2M621.7 78.5h.2M611.5 77.0h.2M603.3 77.8h.2M636.8 75.2h.2M621.9 74.8h.2M606.5 78.4h.2M646.2 76.8h.2M613.6 77.7h.2M644.3 76.5h.2M633.0 76.9h.2M629.9 76.7h.2M612.1 78.3h.2M644.0 76.9h.2M652.7 77.2h.2M615.4 78.5h.2M636.2 75.3h.2M619.8 78.6h.2M626.7 76.7h.2M628.0 75.3h.2M635.0 75.5h.2M641.8 75.3h.2M656.6 76.6h.2M606.5 76.6h.2M647.6 76.3h.2M628.9 76.2h.2M592.6 75.6h.2M594.3 75.6h.2M658.9 75.8h.2M624.8 76.4h.2M624.7 78.3h.2M589.4 76.7h.2M635.4 76.2h.2M638.6 77.4h.2M625.3 77.1h.2M607.5 77.1h.2M621.5 77.8h.2M626.3 76.1h.2M605.4 77.4h.2M629.5 76.6h.2M593.8 75.2h.2M620.1 76.4h.2M612.8 77.2h.2M589.8 75.6h.2M620.8 74.6h.2M637.5 75.8h.2M636.6 75.5h.2M628.7 76.1h.2M594.5 77.7h.2M623.0 77.8h.2M638.8 76.8h.2M649.9 75.7h.2M625.3 75.8h.2M631.7 75.7h.2M609.9 76.2h.2M600.0 75.0h.2M654.2 76.1h.2M606.8 75.9h.2M613.3 76.0h.2M629.5 76.9h.2M627.8 75.1h.2M618.1 75.9h.2M650.7 76.7h.2M629.5 74.8h.2M589.0 77.4h.2M609.5 77.7h.2M650.3 77.2h.2M613.3 74.5h.2M636.8 74.9h.2M609.0 75.4h.2M659.0 76.2h.2" stroke="#808080" stroke-opacity="0.35" stroke-width="0.6" stroke-linecap="round" fill="none"/>
</g>
<g fill="#12b872">
<circle cx="619.5" cy="60.1" r="1.35" fill="#12b872"/>
<circle cx="609.2" cy="61.0" r="1.35" fill="#12b872"/>
<circle cx="595.1" cy="61.0" r="1.35" fill="#12b872"/>
<circle cx="620.2" cy="58.8" r="1.35" fill="#12b872"/>
<circle cx="599.5" cy="57.3" r="1.35" fill="#12b872"/>
<circle cx="599.4" cy="60.1" r="1.35" fill="#12b872"/>
<circle cx="603.4" cy="56.5" r="1.35" fill="#12b872"/>
<circle cx="619.1" cy="60.3" r="1.35" fill="#12b872"/>
<circle cx="619.2" cy="59.8" r="1.35" fill="#12b872"/>
<circle cx="594.7" cy="55.8" r="1.35" fill="#12b872"/>
<circle cx="592.9" cy="57.0" r="1.35" fill="#12b872"/>
<circle cx="627.2" cy="56.4" r="1.35" fill="#12b872"/>
<circle cx="621.5" cy="57.2" r="1.35" fill="#12b872"/>
<circle cx="605.3" cy="58.8" r="1.35" fill="#12b872"/>
<circle cx="619.6" cy="59.5" r="1.35" fill="#12b872"/>
<circle cx="621.4" cy="60.6" r="1.35" fill="#12b872"/>
<circle cx="599.0" cy="58.8" r="1.35" fill="#12b872"/>
<circle cx="605.9" cy="53.3" r="1.35" fill="#12b872"/>
<circle cx="621.2" cy="60.6" r="1.35" fill="#12b872"/>
<circle cx="613.1" cy="61.1" r="1.35" fill="#12b872"/>
<circle cx="591.5" cy="57.6" r="1.35" fill="#12b872"/>
<circle cx="606.7" cy="56.3" r="1.35" fill="#12b872"/>
<circle cx="626.5" cy="56.5" r="1.35" fill="#12b872"/>
<circle cx="604.8" cy="57.1" r="1.35" fill="#12b872"/>
<circle cx="605.6" cy="58.6" r="1.35" fill="#12b872"/>
<circle cx="609.8" cy="58.4" r="1.35" fill="#12b872"/>
<circle cx="600.7" cy="60.3" r="1.35" fill="#12b872"/>
<circle cx="622.0" cy="59.1" r="1.35" fill="#12b872"/>
<circle cx="598.5" cy="59.1" r="1.35" fill="#12b872"/>
<circle cx="614.1" cy="57.6" r="1.35" fill="#12b872"/>
<circle cx="600.4" cy="58.5" r="1.35" fill="#12b872"/>
<circle cx="621.5" cy="56.5" r="1.35" fill="#12b872"/>
<circle cx="612.6" cy="57.9" r="1.35" fill="#12b872"/>
<circle cx="609.3" cy="61.2" r="1.35" fill="#12b872"/>
<circle cx="602.7" cy="58.2" r="1.35" fill="#12b872"/>
<circle cx="610.5" cy="53.2" r="1.35" fill="#12b872"/>
<circle cx="593.6" cy="57.9" r="1.35" fill="#12b872"/>
<circle cx="608.3" cy="58.3" r="1.35" fill="#12b872"/>
<circle cx="598.8" cy="54.6" r="1.35" fill="#12b872"/>
<circle cx="615.6" cy="59.0" r="1.35" fill="#12b872"/>
<circle cx="598.7" cy="59.0" r="1.35" fill="#12b872"/>
<circle cx="598.8" cy="59.5" r="1.35" fill="#12b872"/>
<circle cx="616.0" cy="60.0" r="1.35" fill="#12b872"/>
<circle cx="601.0" cy="60.7" r="1.35" fill="#12b872"/>
<circle cx="619.2" cy="59.0" r="1.35" fill="#12b872"/>
<circle cx="613.7" cy="60.4" r="1.35" fill="#12b872"/>
<circle cx="617.8" cy="59.7" r="1.35" fill="#12b872"/>
<circle cx="606.1" cy="60.4" r="1.35" fill="#12b872"/>
<circle cx="599.1" cy="59.1" r="1.35" fill="#12b872"/>
<circle cx="604.9" cy="60.6" r="1.35" fill="#12b872"/>
<circle cx="625.7" cy="60.7" r="1.35" fill="#12b872"/>
<circle cx="597.2" cy="58.6" r="1.35" fill="#12b872"/>
<circle cx="613.3" cy="57.0" r="1.35" fill="#12b872"/>
<circle cx="609.6" cy="54.8" r="1.35" fill="#12b872"/>
<circle cx="634.7" cy="57.7" r="1.35" fill="#12b872"/>
<circle cx="607.1" cy="55.5" r="1.35" fill="#12b872"/>
<circle cx="601.3" cy="59.9" r="1.35" fill="#12b872"/>
<circle cx="620.2" cy="60.8" r="1.35" fill="#12b872"/>
<circle cx="620.2" cy="57.2" r="1.35" fill="#12b872"/>
<circle cx="599.0" cy="55.3" r="1.35" fill="#12b872"/>
<circle cx="614.4" cy="60.9" r="1.35" fill="#12b872"/>
<circle cx="604.6" cy="60.3" r="1.35" fill="#12b872"/>
<circle cx="608.9" cy="60.1" r="1.35" fill="#12b872"/>
<circle cx="620.2" cy="58.2" r="1.35" fill="#12b872"/>
<circle cx="611.9" cy="59.8" r="1.35" fill="#12b872"/>
<circle cx="605.6" cy="57.3" r="1.35" fill="#12b872"/>
<circle cx="597.5" cy="58.0" r="1.35" fill="#12b872"/>
<circle cx="625.3" cy="60.6" r="1.35" fill="#12b872"/>
<circle cx="623.5" cy="53.2" r="1.35" fill="#12b872"/>
<circle cx="596.1" cy="56.8" r="1.35" fill="#12b872"/>
<circle cx="626.5" cy="53.2" r="1.35" fill="#12b872"/>
<circle cx="618.9" cy="59.4" r="1.35" fill="#12b872"/>
<circle cx="600.9" cy="60.3" r="1.35" fill="#12b872"/>
<circle cx="603.1" cy="60.8" r="1.35" fill="#12b872"/>
<circle cx="629.7" cy="58.0" r="1.35" fill="#12b872"/>
<circle cx="622.0" cy="59.9" r="1.35" fill="#12b872"/>
<circle cx="620.3" cy="59.9" r="1.35" fill="#12b872"/>
<circle cx="606.1" cy="59.3" r="1.35" fill="#12b872"/>
<circle cx="624.7" cy="60.1" r="1.35" fill="#12b872"/>
<circle cx="602.0" cy="60.3" r="1.35" fill="#12b872"/>
<circle cx="602.9" cy="60.0" r="1.35" fill="#12b872"/>
<circle cx="600.9" cy="60.2" r="1.35" fill="#12b872"/>
<circle cx="621.3" cy="56.2" r="1.35" fill="#12b872"/>
<circle cx="618.7" cy="57.7" r="1.35" fill="#12b872"/>
<circle cx="609.2" cy="59.3" r="1.35" fill="#12b872"/>
<circle cx="620.3" cy="57.2" r="1.35" fill="#12b872"/>
<circle cx="597.8" cy="58.7" r="1.35" fill="#12b872"/>
<circle cx="615.3" cy="59.3" r="1.35" fill="#12b872"/>
<circle cx="601.3" cy="60.2" r="1.35" fill="#12b872"/>
<circle cx="623.8" cy="57.0" r="1.35" fill="#12b872"/>
<circle cx="617.3" cy="61.0" r="1.35" fill="#12b872"/>
<circle cx="601.4" cy="58.3" r="1.35" fill="#12b872"/>
<circle cx="613.7" cy="57.5" r="1.35" fill="#12b872"/>
<circle cx="610.1" cy="56.7" r="1.35" fill="#12b872"/>
<circle cx="619.2" cy="59.9" r="1.35" fill="#12b872"/>
<circle cx="613.4" cy="46.4" r="1.35" fill="#12b872"/>
<circle cx="613.0" cy="50.9" r="1.35" fill="#12b872"/>
<circle cx="627.8" cy="55.6" r="1.35" fill="#12b872"/>
<circle cx="617.0" cy="49.0" r="1.35" fill="#12b872"/>
<circle cx="622.0" cy="53.5" r="1.35" fill="#12b872"/>
<circle cx="636.0" cy="57.0" r="1.35" fill="#12b872"/>
<circle cx="628.0" cy="59.0" r="1.35" fill="#12b872"/>
</g>
<circle cx="582.9" cy="93.4" r="1.35" fill="#3a8ec2" fill-opacity="0.85"/>
<circle cx="583.4" cy="95.1" r="1.35" fill="#3a8ec2" fill-opacity="0.85"/>
<circle cx="576.6" cy="93.7" r="1.35" fill="#3a8ec2" fill-opacity="0.85"/>
<circle cx="583.0" cy="94.0" r="1.35" fill="#3a8ec2" fill-opacity="0.85"/>
<circle cx="578.5" cy="94.8" r="1.35" fill="#3a8ec2" fill-opacity="0.85"/>
<circle cx="578.3" cy="94.7" r="1.35" fill="#3a8ec2" fill-opacity="0.85"/>
<circle cx="580.8" cy="92.3" r="1.35" fill="#3a8ec2" fill-opacity="0.85"/>
<circle cx="584.7" cy="92.1" r="1.35" fill="#3a8ec2" fill-opacity="0.85"/>
<circle cx="584.3" cy="93.8" r="1.35" fill="#3a8ec2" fill-opacity="0.85"/>
<circle cx="585.2" cy="94.5" r="1.35" fill="#3a8ec2" fill-opacity="0.85"/>
<circle cx="580.0" cy="92.3" r="1.35" fill="#3a8ec2" fill-opacity="0.85"/>
<circle cx="578.5" cy="91.8" r="1.35" fill="#3a8ec2" fill-opacity="0.85"/>
<circle cx="582.8" cy="92.1" r="1.35" fill="#3a8ec2" fill-opacity="0.85"/>
<circle cx="577.6" cy="92.6" r="1.35" fill="#3a8ec2" fill-opacity="0.85"/>
<circle cx="580.1" cy="94.1" r="1.35" fill="#3a8ec2" fill-opacity="0.85"/>
<circle cx="580.5" cy="93.5" r="1.35" fill="#3a8ec2" fill-opacity="0.85"/>
<circle cx="576.6" cy="92.9" r="1.35" fill="#3a8ec2" fill-opacity="0.85"/>
<circle cx="577.9" cy="94.3" r="1.35" fill="#3a8ec2" fill-opacity="0.85"/>
<circle cx="575.8" cy="93.9" r="1.35" fill="#3a8ec2" fill-opacity="0.85"/>
<circle cx="583.3" cy="93.5" r="1.35" fill="#3a8ec2" fill-opacity="0.85"/>
<circle cx="576.1" cy="92.7" r="1.35" fill="#3a8ec2" fill-opacity="0.85"/>
<circle cx="578.2" cy="92.7" r="1.35" fill="#3a8ec2" fill-opacity="0.85"/>
<circle cx="600.5" cy="92.7" r="1.35" fill="#3a8ec2" fill-opacity="0.85"/>
<circle cx="592.0" cy="92.5" r="1.35" fill="#3a8ec2" fill-opacity="0.85"/>
<circle cx="589.0" cy="93.0" r="1.35" fill="#3a8ec2" fill-opacity="0.85"/>
<circle cx="613.4" cy="46.4" r="1.9" fill="none" stroke="#333" stroke-width="0.55"/>
<text x="616.6" y="44" style="font-size:5.2px;font-family:'Liberation Mono',monospace" fill="#333">NLC1</text>
<circle cx="613.0" cy="50.9" r="1.9" fill="none" stroke="#333" stroke-width="0.55"/>
<text x="616.4" y="47.8" style="font-size:5.2px;font-family:'Liberation Mono',monospace" fill="#333">BMPT</text>
<circle cx="627.8" cy="55.6" r="1.9" fill="none" stroke="#333" stroke-width="0.55"/>
<text x="631.5" y="52.8" style="font-size:5.2px;font-family:'Liberation Mono',monospace" fill="#333">CA10</text>
<circle cx="578.5" cy="97.0" r="1.9" fill="none" stroke="#333" stroke-width="0.55"/>
<text x="580.4" y="99.7" style="font-size:5.2px;font-family:'Liberation Mono',monospace" fill="#333">GPR34</text>
<text x="577.2" y="103.2" style="font-size:5.2px;font-family:'Liberation Mono',monospace" fill="#333">TREM2</text>
<line x1="571.80" y1="76.40" x2="679.30" y2="76.40" stroke="#444" stroke-width="0.7"/>
<line x1="571.80" y1="61.31" x2="679.30" y2="61.31" stroke="#333" stroke-width="0.6" stroke-dasharray="1.2 1"/>
<line x1="571.80" y1="91.49" x2="679.30" y2="91.49" stroke="#333" stroke-width="0.6" stroke-dasharray="1.2 1"/>
<text x="569.6" y="28.3" style="font-size:6.2px" text-anchor="end" fill="#333">1.00</text>
<text x="569.6" y="40.9" style="font-size:6.2px" text-anchor="end" fill="#333">0.75</text>
<text x="569.6" y="53.5" style="font-size:6.2px" text-anchor="end" fill="#333">0.50</text>
<text x="569.6" y="66.0" style="font-size:6.2px" text-anchor="end" fill="#333">0.25</text>
<text x="569.6" y="78.6" style="font-size:6.2px" text-anchor="end" fill="#333">0.00</text>
<text x="569.6" y="91.2" style="font-size:6.2px" text-anchor="end" fill="#333">−0.25</text>
<text x="569.6" y="103.8" style="font-size:6.2px" text-anchor="end" fill="#333">−0.50</text>
<text x="569.6" y="116.3" style="font-size:6.2px" text-anchor="end" fill="#333">−0.75</text>
<text x="569.6" y="128.9" style="font-size:6.2px" text-anchor="end" fill="#333">−1.00</text>
<text x="584.5" y="133.2" style="font-size:6.2px" text-anchor="middle" fill="#333">5</text>
<text x="617.5" y="133.2" style="font-size:6.2px" text-anchor="middle" fill="#333">10</text>
<text x="650.5" y="133.2" style="font-size:6.2px" text-anchor="middle" fill="#333">15</text>
<text x="571.3" y="23.8" style="font-size:7.5px" fill="#222">cortical plate</text>
<text x="549.3" y="76.3" style="font-size:7.4px" text-anchor="middle" transform="rotate(-90 549.3 76.3)" fill="#222">fold change</text>
<clipPath id="clipb12"><rect x="570.7" y="144.8" width="107.29999999999995" height="100.6"/></clipPath>
<rect x="570.70" y="144.80" width="107.30" height="100.60" fill="#fff" stroke="#a8a8a8" stroke-width="0.8"/>
<g clip-path="url(#clipb12)">
<path d="M576.0 204.0 L580.0 192.0 L586.0 183.0 L596.0 180.6 L620.0 180.6 L640.0 182.0 L655.0 186.0 L668.0 191.5 L675.0 195.6 L665.0 198.5 L645.0 201.5 L625.0 206.0 L605.0 209.5 L585.0 210.0 L578.0 208.0Z" fill="#cfcfcf" filter="url(#bl2)"/>
<path d="M596.0 194.5 L625.0 193.8 L650.0 194.6 L668.0 195.6 L650.0 197.5 L625.0 198.5 L600.0 198.0Z" fill="#a3a3a3" filter="url(#bl1)"/>
<path d="M591.3 188.2h.2M649.3 189.8h.2M602.1 197.0h.2M665.2 196.3h.2M579.3 198.4h.2M589.6 202.5h.2M604.1 198.1h.2M636.0 198.4h.2M660.4 192.0h.2M627.6 185.0h.2M630.7 194.2h.2M624.1 187.9h.2M591.9 189.6h.2M578.1 200.8h.2M589.4 192.6h.2M606.7 200.1h.2M622.7 182.2h.2M656.8 194.8h.2M604.7 200.7h.2M648.6 186.3h.2M645.6 186.0h.2M608.4 205.9h.2M609.1 186.5h.2M637.8 198.6h.2M616.3 191.1h.2M620.7 200.9h.2M615.7 182.8h.2M593.6 197.5h.2M671.3 196.4h.2M618.0 193.2h.2M621.9 191.0h.2M613.0 200.7h.2M622.1 181.4h.2M579.5 196.5h.2M648.5 195.5h.2M639.0 191.7h.2M605.7 200.9h.2M597.9 208.7h.2M581.4 201.9h.2M627.8 205.4h.2M617.2 200.0h.2M580.8 206.3h.2M655.5 198.6h.2M587.2 205.3h.2M603.4 185.3h.2M639.5 196.2h.2M624.8 195.3h.2M626.1 200.3h.2M621.7 189.0h.2M619.9 198.3h.2M623.5 193.7h.2M596.6 209.2h.2M634.9 194.4h.2M579.1 206.7h.2M639.1 187.8h.2M661.4 197.9h.2M620.1 197.0h.2M642.3 194.7h.2M637.3 193.9h.2M607.9 196.6h.2M607.6 180.9h.2M616.2 191.2h.2M660.9 190.5h.2M644.2 190.6h.2M665.1 190.4h.2M576.6 203.2h.2M639.6 191.5h.2M614.1 196.9h.2M635.0 198.0h.2M636.5 194.8h.2M606.9 194.0h.2M582.9 205.2h.2M655.3 196.0h.2M595.3 188.8h.2M596.9 198.2h.2M613.4 180.9h.2M596.0 190.7h.2M617.5 196.9h.2M640.1 186.5h.2M626.7 187.6h.2M609.0 206.2h.2M653.1 188.8h.2M589.4 185.1h.2M595.0 194.0h.2M615.9 192.0h.2M653.9 186.4h.2M601.1 209.1h.2M586.8 193.0h.2M588.5 188.1h.2M635.9 194.3h.2M604.7 194.0h.2M638.0 199.6h.2M582.7 193.6h.2M611.2 197.5h.2M609.1 195.0h.2M593.6 192.9h.2M635.1 189.9h.2M584.4 202.7h.2M607.3 188.2h.2M662.5 192.3h.2M592.8 183.4h.2M607.4 196.2h.2M599.9 208.0h.2M624.6 183.4h.2M629.9 189.3h.2M616.1 184.3h.2M649.5 190.2h.2M639.7 188.4h.2M641.3 198.0h.2M590.8 183.6h.2M649.9 193.6h.2M639.5 195.5h.2M605.5 208.1h.2M613.2 188.9h.2M610.1 196.4h.2M610.0 191.4h.2M636.8 187.7h.2M637.2 193.5h.2M577.3 206.4h.2M632.9 198.6h.2M653.0 194.2h.2M645.6 190.5h.2M587.5 188.4h.2M600.4 181.5h.2M617.5 199.7h.2M638.6 183.9h.2M585.5 190.2h.2M614.6 200.5h.2M607.9 206.5h.2M672.2 194.3h.2M649.6 194.5h.2M627.3 182.2h.2M592.3 188.8h.2M581.1 190.4h.2M652.7 186.2h.2M586.5 184.2h.2M618.4 198.2h.2M601.7 201.4h.2M639.3 188.9h.2M627.6 198.5h.2M618.0 189.8h.2M628.6 200.6h.2M642.4 192.8h.2M649.9 196.8h.2M585.8 207.2h.2M627.7 185.1h.2M626.2 200.8h.2M604.3 183.1h.2M600.6 188.5h.2M593.9 184.3h.2M633.8 189.7h.2M591.2 199.2h.2M646.5 197.5h.2M661.0 189.0h.2M644.0 195.7h.2M615.3 186.1h.2M626.8 202.3h.2M610.1 181.0h.2M630.0 188.7h.2M643.9 188.6h.2M605.7 202.7h.2M597.3 202.9h.2M654.0 189.5h.2M639.9 183.2h.2M588.7 184.0h.2M630.2 202.4h.2M604.9 189.7h.2M657.8 189.0h.2M585.6 202.3h.2M609.9 206.7h.2M589.1 187.7h.2M621.3 194.6h.2M612.0 200.3h.2M609.0 204.5h.2M586.5 192.4h.2M594.4 190.5h.2M627.4 197.5h.2M587.1 201.1h.2M623.9 192.8h.2M615.5 182.5h.2M593.9 190.5h.2M641.4 188.0h.2M636.7 197.1h.2M588.3 209.9h.2M610.8 206.3h.2M622.8 190.4h.2M613.5 199.9h.2M598.0 190.9h.2M598.5 191.3h.2M590.1 208.7h.2M648.2 199.1h.2M588.2 200.6h.2M607.7 206.0h.2M614.8 202.1h.2M591.3 195.4h.2M592.9 200.3h.2M599.7 189.8h.2M610.4 183.7h.2M640.8 200.8h.2M599.1 192.9h.2M617.7 199.3h.2M643.0 183.3h.2M635.9 199.5h.2M636.3 184.5h.2M593.7 187.7h.2M614.4 181.6h.2M665.9 192.2h.2M618.9 200.6h.2M591.9 205.4h.2M577.4 205.2h.2M583.3 205.0h.2M613.2 188.3h.2M600.7 191.2h.2M626.7 189.7h.2M590.2 183.8h.2M629.4 202.6h.2M602.6 187.7h.2M592.9 193.8h.2M628.1 202.5h.2M599.9 185.1h.2M621.2 202.0h.2M587.5 205.5h.2M635.4 184.4h.2M633.6 187.2h.2M627.0 186.9h.2M642.5 193.2h.2M592.2 186.0h.2M618.3 201.2h.2M591.3 192.5h.2M632.1 194.9h.2M626.4 186.8h.2M620.9 203.4h.2M591.0 196.5h.2M636.2 189.3h.2M623.3 187.5h.2M668.0 193.8h.2M578.6 204.1h.2M592.3 199.0h.2M613.4 193.6h.2M595.6 208.4h.2M593.4 209.0h.2M580.4 196.0h.2M606.8 191.6h.2M616.7 190.9h.2M598.3 191.3h.2M602.8 184.6h.2M586.6 199.8h.2M600.4 198.0h.2M638.8 199.0h.2M611.7 204.5h.2M600.5 185.9h.2M616.7 183.4h.2M640.6 199.0h.2M662.9 189.7h.2M615.8 190.3h.2M603.6 184.5h.2M623.6 183.6h.2M650.9 199.7h.2M626.4 193.8h.2M613.2 180.9h.2M635.2 186.6h.2M614.9 184.1h.2M618.6 202.4h.2M621.5 203.3h.2M659.7 197.6h.2M611.9 203.3h.2M615.3 206.1h.2M605.2 183.6h.2M636.9 199.5h.2M593.5 206.1h.2M596.6 183.9h.2M597.4 185.6h.2M631.6 182.9h.2M586.2 190.9h.2M606.8 187.2h.2M624.1 192.1h.2M646.7 190.8h.2M587.4 198.3h.2M620.3 206.8h.2M628.2 184.7h.2M664.7 191.7h.2M667.1 192.0h.2M666.1 193.5h.2M644.2 186.4h.2M632.9 196.6h.2M616.1 203.8h.2M642.6 200.2h.2M657.7 187.7h.2M631.5 202.1h.2M631.4 193.9h.2M660.9 189.7h.2M646.9 185.4h.2M587.8 192.4h.2M660.0 195.9h.2M588.4 190.8h.2M622.6 202.0h.2M634.1 184.5h.2M600.9 187.2h.2M639.5 183.4h.2M592.4 206.2h.2M601.1 188.7h.2M622.9 190.6h.2M663.2 196.1h.2M592.9 202.9h.2M626.3 191.8h.2M635.3 187.4h.2M579.7 204.5h.2M603.9 193.1h.2M654.0 192.2h.2M606.0 198.9h.2M591.7 182.6h.2M612.3 206.4h.2M614.9 190.9h.2M658.2 193.0h.2M644.6 186.2h.2M622.0 183.7h.2M616.7 189.5h.2M665.7 191.7h.2M639.6 184.5h.2M628.1 184.2h.2M611.9 206.3h.2M589.8 201.5h.2M582.0 195.5h.2M656.0 199.2h.2M599.7 190.1h.2M609.9 206.9h.2M650.1 195.9h.2M584.5 208.4h.2M635.8 182.0h.2M598.2 181.2h.2M592.0 185.0h.2M650.3 192.0h.2M614.4 183.5h.2M588.0 194.4h.2M619.3 202.6h.2M610.2 195.1h.2M595.7 194.8h.2M582.5 189.3h.2M585.5 201.5h.2M611.0 192.9h.2M596.4 202.1h.2M602.5 198.7h.2M590.1 206.6h.2M587.1 192.4h.2M651.8 187.9h.2M627.2 201.0h.2M579.9 202.6h.2M595.7 190.4h.2M610.0 195.4h.2M612.1 206.4h.2M605.4 200.0h.2M639.6 197.4h.2M585.1 187.6h.2M584.2 208.2h.2M629.4 203.2h.2M606.7 187.2h.2M642.5 192.4h.2M603.9 200.0h.2M643.3 198.5h.2M610.3 181.5h.2M601.5 186.6h.2M589.6 204.2h.2M627.8 189.3h.2M604.9 183.7h.2M650.3 187.3h.2M616.2 185.2h.2M649.8 186.6h.2M578.7 205.3h.2M664.5 190.2h.2M592.7 183.2h.2M663.1 191.4h.2M615.2 202.4h.2M581.2 196.1h.2M638.6 198.5h.2M604.7 193.1h.2M661.9 189.9h.2M601.6 180.6h.2M608.6 182.1h.2M630.9 194.9h.2M635.6 183.8h.2M622.6 188.0h.2M654.4 195.3h.2M583.8 198.8h.2M584.0 191.4h.2M644.3 196.9h.2M637.2 193.4h.2M601.4 202.3h.2M623.1 206.1h.2M615.9 195.2h.2M619.1 205.4h.2M644.2 198.8h.2M602.2 190.2h.2M619.7 198.3h.2M600.0 191.6h.2M620.2 198.4h.2M585.5 194.4h.2M636.8 199.2h.2M589.9 197.6h.2M631.1 204.3h.2M620.4 200.6h.2M658.7 195.6h.2M640.0 201.8h.2M615.4 188.8h.2M639.8 200.7h.2M598.5 185.2h.2M601.2 186.9h.2M637.6 201.0h.2M590.6 199.1h.2M624.9 192.2h.2M620.6 202.3h.2M648.1 193.1h.2M623.3 187.4h.2M581.6 202.9h.2M623.6 192.2h.2M602.1 206.5h.2M654.0 187.9h.2M663.5 193.5h.2M633.3 183.8h.2M664.8 195.9h.2M621.7 200.5h.2M634.9 195.6h.2M605.4 185.0h.2M617.5 183.3h.2M580.7 205.0h.2M647.9 190.2h.2M610.0 201.8h.2M619.5 190.3h.2M615.4 189.2h.2M661.4 197.4h.2M603.5 196.3h.2M636.5 190.3h.2M597.7 184.5h.2M606.3 188.0h.2M617.5 185.1h.2M602.1 197.8h.2M582.4 201.6h.2M579.2 206.1h.2M657.6 194.9h.2M637.2 186.0h.2M581.6 197.5h.2M643.0 198.9h.2M590.9 195.1h.2M619.0 204.5h.2M583.8 192.0h.2M647.9 193.0h.2M607.9 207.1h.2M626.2 203.9h.2M595.5 208.5h.2M603.1 208.4h.2M585.4 206.3h.2M624.8 205.7h.2M625.3 194.9h.2M637.4 189.4h.2M635.6 197.5h.2M626.5 199.7h.2M585.5 189.8h.2M622.1 186.5h.2M614.3 190.1h.2M633.1 184.7h.2M600.1 182.8h.2M661.9 191.2h.2M630.4 194.7h.2M591.8 200.7h.2M639.0 199.1h.2M634.1 189.9h.2M660.5 188.6h.2M584.4 200.9h.2M611.4 191.4h.2M596.7 184.1h.2M631.0 184.7h.2M602.3 206.1h.2M586.8 202.8h.2M620.9 194.4h.2M636.6 190.8h.2M644.7 189.7h.2M586.4 204.0h.2M617.8 181.8h.2M627.6 198.6h.2M643.4 200.4h.2M626.3 200.8h.2M657.8 190.6h.2M597.4 196.5h.2M608.9 193.0h.2M610.5 183.3h.2M657.8 187.6h.2M600.6 203.4h.2M616.3 206.1h.2M608.7 192.7h.2M632.0 201.8h.2M649.7 188.3h.2M611.9 194.3h.2M594.4 195.9h.2M578.6 198.0h.2M588.8 183.2h.2M610.0 203.9h.2M621.8 196.3h.2M633.5 203.4h.2M609.8 196.7h.2M624.2 181.5h.2M625.2 200.5h.2M592.9 185.2h.2M626.3 186.1h.2M667.5 197.4h.2M637.0 184.6h.2M641.4 190.9h.2M614.0 190.2h.2M612.1 196.3h.2M587.7 185.6h.2M580.9 204.2h.2M647.0 186.5h.2M603.9 181.0h.2M583.5 191.3h.2M587.8 199.8h.2M630.9 189.1h.2M629.5 196.9h.2M603.1 209.4h.2M619.7 198.0h.2M621.5 191.1h.2M616.6 200.4h.2M602.3 184.1h.2M648.9 200.2h.2M645.7 193.8h.2M651.2 199.2h.2M594.1 200.6h.2M621.7 195.8h.2M601.5 181.4h.2M632.8 203.3h.2M603.9 181.5h.2M647.3 191.0h.2M584.7 206.6h.2M601.4 203.0h.2M598.8 199.3h.2M598.8 189.6h.2M603.1 203.5h.2M603.5 207.0h.2M611.5 185.0h.2M609.0 199.5h.2M648.7 189.7h.2M621.8 192.4h.2M624.8 195.4h.2M658.2 191.4h.2M589.4 187.5h.2M627.4 186.2h.2M579.9 193.6h.2M601.1 197.7h.2M612.5 182.6h.2M608.7 201.1h.2M607.2 190.9h.2M633.1 195.0h.2M613.1 194.0h.2M627.9 196.5h.2M667.5 196.5h.2M653.6 190.4h.2M622.6 192.1h.2M590.7 191.9h.2M583.2 196.7h.2M592.6 185.2h.2M649.6 188.6h.2M649.0 187.9h.2M616.6 180.9h.2M606.5 193.1h.2M628.2 195.9h.2M608.1 196.3h.2M584.6 208.2h.2M595.5 200.2h.2M615.9 183.9h.2M630.4 192.4h.2M633.9 199.4h.2M605.7 200.0h.2M606.4 190.7h.2M605.3 188.0h.2M659.4 198.0h.2M589.8 188.5h.2M631.7 181.8h.2M605.4 205.3h.2M644.0 197.4h.2M644.6 193.8h.2M633.8 191.7h.2M613.0 186.2h.2M622.2 184.4h.2M615.3 191.6h.2M672.3 195.6h.2M596.0 192.0h.2M625.4 181.8h.2M670.5 195.0h.2M603.1 193.8h.2M579.1 197.9h.2M592.6 209.5h.2M646.5 184.2h.2M579.3 197.9h.2M581.5 209.0h.2M632.8 182.2h.2M631.2 199.4h.2M664.0 192.6h.2M648.3 196.0h.2M643.2 193.4h.2M596.3 193.8h.2M632.3 200.4h.2M611.7 187.1h.2M613.0 199.6h.2M633.9 196.8h.2M589.0 191.2h.2M595.1 194.2h.2M607.6 194.9h.2M590.6 206.7h.2M594.9 205.2h.2M590.3 190.1h.2M619.4 184.4h.2M660.5 195.3h.2M646.3 191.0h.2M654.7 190.0h.2M655.8 199.8h.2M619.9 183.2h.2M638.0 189.5h.2M592.2 199.8h.2M650.2 194.0h.2M616.1 197.1h.2M632.6 192.7h.2M584.5 204.8h.2M633.1 199.4h.2M607.7 201.1h.2M643.3 199.7h.2M650.8 193.7h.2M586.0 209.1h.2M608.5 197.2h.2M582.2 200.0h.2M593.2 191.7h.2M611.1 203.0h.2M595.5 203.0h.2M637.5 192.1h.2M658.7 192.3h.2M582.4 207.0h.2M616.3 188.1h.2M620.1 197.6h.2M611.2 191.1h.2M615.4 186.7h.2M663.2 196.8h.2M608.5 183.1h.2M643.0 185.4h.2M648.1 186.4h.2M607.7 198.2h.2M627.5 185.9h.2M586.9 206.1h.2M620.1 190.1h.2M628.9 183.6h.2M589.1 197.3h.2M647.2 194.0h.2M640.3 192.6h.2M634.3 188.4h.2M641.3 186.1h.2M620.8 195.6h.2M629.3 192.6h.2M644.0 195.3h.2M665.7 194.5h.2M632.7 189.7h.2M613.1 187.9h.2M639.6 187.4h.2M635.0 188.8h.2M604.9 208.9h.2M596.5 188.4h.2M624.7 190.4h.2M657.2 187.1h.2M625.4 202.4h.2M638.0 194.5h.2M585.0 185.0h.2M579.9 196.7h.2M598.5 202.9h.2M601.7 192.9h.2M591.7 184.3h.2M590.4 191.3h.2M599.8 184.9h.2M642.9 192.8h.2M577.4 204.7h.2M634.8 201.0h.2M596.6 208.4h.2M598.0 202.5h.2M610.2 184.6h.2M591.4 184.5h.2M618.3 185.4h.2M602.7 205.6h.2M635.0 196.1h.2M593.6 191.6h.2M607.4 184.9h.2M604.4 188.4h.2M591.1 195.0h.2M596.6 188.0h.2M650.7 188.8h.2M593.4 193.8h.2M620.7 196.8h.2M581.8 194.7h.2M662.7 195.7h.2M614.0 201.2h.2M664.9 196.5h.2M620.8 196.5h.2M594.7 187.1h.2M588.3 205.2h.2M660.7 195.8h.2M592.5 189.9h.2M595.0 195.7h.2M624.3 183.0h.2M626.5 191.8h.2M613.4 183.3h.2M641.8 197.7h.2M651.5 190.5h.2M597.2 193.2h.2M638.7 185.3h.2M641.2 189.4h.2M591.0 208.8h.2M626.9 189.1h.2M587.9 199.6h.2M649.0 186.6h.2M657.0 188.9h.2M585.3 188.3h.2M595.8 208.9h.2M667.1 196.8h.2M640.3 195.1h.2M641.9 191.5h.2M636.1 197.6h.2M650.5 188.9h.2M634.1 203.5h.2M609.0 196.5h.2M649.2 195.1h.2M581.7 192.2h.2M601.4 197.5h.2M599.9 191.0h.2M616.1 193.5h.2M639.0 200.2h.2M621.0 184.9h.2M582.2 192.4h.2M588.0 193.4h.2M664.5 190.9h.2M638.2 184.5h.2M618.5 206.1h.2M638.5 193.0h.2M624.4 197.1h.2M602.0 190.4h.2M636.7 187.5h.2M628.1 184.7h.2M616.6 203.7h.2M602.0 184.8h.2M597.8 201.5h.2M611.5 203.6h.2M630.9 195.8h.2M625.1 193.8h.2M603.9 203.3h.2M619.1 199.1h.2M610.4 198.0h.2M625.5 195.2h.2M642.2 186.4h.2M576.7 205.0h.2M583.4 203.9h.2M659.2 188.3h.2M590.6 195.1h.2M657.8 193.3h.2M583.7 189.1h.2M633.8 192.5h.2M623.6 182.1h.2M609.7 186.3h.2M656.9 191.4h.2M606.3 192.4h.2M665.1 198.0h.2M599.9 185.3h.2M618.2 200.7h.2M656.8 196.5h.2M632.2 188.9h.2M616.9 201.5h.2M594.9 202.8h.2M660.4 193.2h.2M601.8 184.0h.2M614.9 186.1h.2M656.2 198.6h.2M617.2 187.3h.2M630.3 190.8h.2M595.1 208.6h.2M662.8 196.2h.2M614.9 189.8h.2M622.9 204.7h.2M617.5 186.8h.2M636.3 196.1h.2M637.7 189.4h.2M666.3 191.0h.2M655.9 189.5h.2M600.2 197.6h.2M597.8 183.2h.2M625.8 198.2h.2M596.3 181.7h.2M580.3 206.0h.2M598.3 192.6h.2M617.4 204.8h.2M628.9 184.3h.2M606.3 182.3h.2M631.5 199.2h.2M619.8 184.7h.2M641.0 188.7h.2M633.6 189.6h.2M599.9 204.3h.2M583.2 187.3h.2M625.6 184.9h.2M645.0 189.0h.2M653.4 191.7h.2M595.4 182.0h.2M606.9 197.6h.2M614.4 206.2h.2M583.8 188.0h.2M611.3 198.4h.2M610.9 199.1h.2M597.5 208.6h.2M636.4 196.3h.2M624.5 195.3h.2M638.0 189.2h.2M660.4 190.4h.2M638.0 197.2h.2M659.8 194.5h.2M611.0 190.8h.2M608.2 196.5h.2M608.7 193.0h.2M600.2 187.3h.2M603.4 182.5h.2M612.1 184.2h.2M623.8 189.9h.2M632.5 194.5h.2M628.0 204.5h.2M667.6 194.8h.2M620.7 202.5h.2M603.5 182.1h.2M590.9 208.2h.2M597.6 203.4h.2M626.8 196.0h.2M626.7 200.2h.2M594.1 202.7h.2M614.3 206.9h.2M658.4 197.7h.2M658.7 191.3h.2M587.8 191.6h.2M638.4 198.1h.2M661.4 196.4h.2M604.2 183.5h.2M606.0 205.1h.2M630.6 193.1h.2M608.0 186.0h.2M628.4 199.3h.2M623.1 201.3h.2M590.9 189.3h.2M589.5 186.7h.2M625.3 187.7h.2M608.5 188.4h.2M614.3 199.1h.2M622.9 199.7h.2M581.7 199.5h.2M626.3 197.2h.2M644.8 199.7h.2M662.5 196.7h.2M612.2 184.7h.2M592.6 182.9h.2M650.9 186.0h.2M635.8 196.0h.2M596.7 209.2h.2M625.1 192.1h.2M656.5 194.6h.2M647.3 197.4h.2M618.3 206.3h.2M607.6 199.3h.2M609.2 185.5h.2M612.6 198.2h.2M649.9 188.7h.2M646.1 189.4h.2M654.8 198.7h.2M593.0 191.6h.2M591.5 200.2h.2M588.5 188.6h.2M609.7 191.1h.2M628.4 201.9h.2M594.0 196.6h.2M581.5 192.9h.2M644.4 189.5h.2M605.7 201.0h.2M601.8 191.2h.2M623.4 199.9h.2M606.3 191.5h.2M614.4 197.9h.2M585.1 206.2h.2M648.5 190.7h.2M629.4 200.1h.2M593.5 194.4h.2M615.9 199.1h.2M591.3 191.3h.2M639.4 190.2h.2M590.9 209.5h.2M648.9 188.7h.2M605.0 191.0h.2M642.3 184.8h.2M582.5 197.1h.2M632.5 181.9h.2M620.4 197.2h.2M589.3 190.4h.2M609.0 185.7h.2M635.5 190.8h.2M608.2 204.8h.2M656.5 193.8h.2M590.8 205.1h.2M604.3 204.1h.2M611.5 200.2h.2M595.9 183.9h.2M608.6 202.2h.2M605.8 186.7h.2M612.2 202.9h.2M594.5 188.6h.2M612.9 185.9h.2M619.9 191.5h.2M605.5 198.6h.2M621.9 194.3h.2M603.1 189.5h.2M580.3 203.3h.2M634.1 188.0h.2M604.0 199.0h.2M593.3 183.6h.2M631.3 198.2h.2M609.0 193.8h.2M659.9 195.0h.2M637.2 188.3h.2M613.9 193.3h.2M627.3 182.8h.2M588.8 201.1h.2M654.4 195.0h.2M603.4 201.6h.2M582.0 195.1h.2M586.6 184.6h.2M601.6 186.5h.2M577.3 206.0h.2M655.0 195.0h.2M584.7 206.7h.2M590.9 198.6h.2M647.4 186.0h.2M646.1 199.5h.2M638.7 187.6h.2M646.2 199.0h.2M643.8 186.4h.2M641.8 190.8h.2M606.1 201.8h.2M607.2 208.7h.2M581.0 197.0h.2M616.9 199.6h.2M601.2 194.2h.2M625.0 184.0h.2M629.9 191.0h.2M606.8 204.4h.2M650.0 190.9h.2M642.4 199.4h.2M594.7 187.8h.2M614.0 196.9h.2M595.3 203.0h.2M616.8 185.6h.2M585.9 189.2h.2M614.6 182.1h.2M637.2 191.4h.2M635.1 193.2h.2M621.6 196.4h.2M660.3 196.5h.2M594.0 205.6h.2M656.0 195.7h.2M582.0 196.5h.2M596.0 194.3h.2M612.9 195.5h.2M605.7 190.4h.2M646.0 190.0h.2M580.2 208.3h.2M610.2 200.6h.2M636.2 195.8h.2M595.2 181.7h.2M606.6 196.9h.2M632.0 194.3h.2M627.9 182.6h.2M607.6 197.5h.2M600.0 192.8h.2M650.0 184.8h.2M614.9 199.0h.2M596.0 203.2h.2M586.8 191.2h.2M594.8 193.8h.2M580.1 196.2h.2M635.2 203.4h.2M648.2 190.5h.2M634.8 185.7h.2M589.9 199.1h.2M626.8 198.8h.2M614.7 183.4h.2M618.0 196.4h.2M669.7 193.1h.2M581.7 204.5h.2M654.6 192.0h.2M665.0 196.6h.2M656.0 197.4h.2M597.1 192.8h.2M590.9 185.2h.2M639.5 200.6h.2M581.7 204.6h.2M580.6 207.8h.2M634.1 190.6h.2M611.4 190.2h.2M613.1 195.6h.2M598.6 203.1h.2M594.6 207.3h.2M632.5 182.7h.2M631.8 195.6h.2M604.9 209.4h.2M673.5 195.6h.2M591.8 208.1h.2M600.9 181.1h.2M608.4 183.9h.2M610.3 194.9h.2M630.5 191.3h.2M611.1 187.2h.2M617.2 182.6h.2M655.4 187.3h.2M625.4 196.0h.2M590.4 182.2h.2M651.2 198.5h.2M643.4 200.8h.2M586.9 188.9h.2M593.2 201.0h.2M652.8 187.1h.2M624.4 192.2h.2M585.7 204.6h.2M630.4 204.2h.2M617.9 187.2h.2M612.7 198.7h.2M594.1 188.8h.2M610.0 194.2h.2M596.6 183.8h.2M593.0 197.3h.2M602.1 181.2h.2M625.2 187.4h.2M606.7 188.7h.2M605.3 181.4h.2M589.6 188.2h.2M610.4 206.4h.2M600.5 207.4h.2M604.7 188.3h.2M591.9 183.2h.2M598.2 180.8h.2M602.6 204.8h.2M631.7 184.9h.2M607.0 195.3h.2M590.2 199.3h.2M595.4 197.6h.2M586.6 206.5h.2M655.5 192.7h.2M631.4 190.7h.2M583.3 195.5h.2M602.8 197.8h.2M656.1 198.9h.2M590.8 201.2h.2M598.5 184.1h.2M662.1 189.6h.2M617.3 183.9h.2M587.9 183.1h.2M598.8 187.9h.2M650.8 197.1h.2M626.7 205.0h.2M655.0 189.1h.2M587.4 184.4h.2M580.5 202.9h.2M619.6 185.6h.2M666.3 190.9h.2M642.5 187.2h.2M610.0 198.3h.2M639.3 202.7h.2M591.1 183.8h.2M623.2 191.4h.2M607.4 206.3h.2M609.6 198.8h.2M615.5 181.2h.2M585.6 193.0h.2M659.0 191.4h.2M632.0 185.7h.2M578.8 202.9h.2M616.6 197.3h.2M640.0 189.7h.2M583.2 190.5h.2M579.6 194.8h.2M639.4 189.5h.2M599.1 195.1h.2M620.7 197.6h.2M667.6 197.2h.2M584.1 186.5h.2M621.3 193.4h.2M623.9 197.3h.2M608.6 190.7h.2M594.5 185.5h.2M622.5 184.1h.2M624.4 188.0h.2M648.7 184.5h.2M599.2 208.8h.2M598.3 190.3h.2M618.4 200.5h.2M592.3 194.5h.2M591.1 183.1h.2M604.9 184.6h.2M603.4 186.0h.2M600.7 188.2h.2" stroke="#9a9a9a" stroke-opacity="0.45" stroke-width="0.6" stroke-linecap="round" fill="none"/>
<path d="M627.4 198.0h.2M616.9 194.2h.2M633.9 194.3h.2M607.1 198.0h.2M607.5 197.9h.2M608.8 194.9h.2M610.2 194.7h.2M630.8 197.8h.2M614.2 196.1h.2M624.8 193.9h.2M612.3 196.7h.2M636.4 194.7h.2M639.7 195.8h.2M656.4 195.3h.2M616.7 197.8h.2M619.9 195.0h.2M622.0 194.8h.2M635.2 194.8h.2M606.6 198.1h.2M625.0 197.9h.2M611.9 194.4h.2M641.4 195.2h.2M660.9 196.0h.2M625.5 198.1h.2M612.4 196.8h.2M626.6 197.6h.2M600.5 197.8h.2M650.9 195.8h.2M611.3 194.5h.2M611.5 197.3h.2M639.5 195.5h.2M619.4 194.7h.2M650.2 196.5h.2M604.1 197.3h.2M612.7 195.3h.2M619.2 194.8h.2M628.3 193.9h.2M604.6 197.6h.2M642.1 195.9h.2M652.5 196.8h.2M620.8 195.5h.2M645.5 195.1h.2M612.8 195.7h.2M622.8 193.9h.2M637.3 194.6h.2M652.9 197.0h.2M648.1 195.0h.2M614.5 196.3h.2M639.2 196.3h.2M603.5 196.9h.2M625.1 194.4h.2M637.0 197.4h.2M645.0 196.4h.2M600.0 196.3h.2M626.7 195.7h.2M644.1 195.5h.2M649.2 197.3h.2M643.8 196.2h.2M627.6 194.5h.2M658.3 196.1h.2M652.8 195.0h.2M650.3 195.2h.2M658.8 196.1h.2M649.4 195.5h.2M607.4 195.4h.2M607.7 195.8h.2M618.2 194.2h.2M603.0 197.7h.2M636.6 195.0h.2M600.1 197.0h.2M602.3 195.8h.2M637.4 195.7h.2M618.2 195.5h.2M609.2 196.4h.2M601.4 197.8h.2M641.1 196.3h.2M606.5 196.1h.2M624.4 198.0h.2M646.2 195.4h.2M607.9 194.9h.2M652.5 196.6h.2M619.8 196.9h.2M623.1 198.3h.2M640.4 194.7h.2M616.2 195.8h.2M611.6 197.1h.2M635.8 197.9h.2M598.7 196.8h.2M649.5 196.2h.2M611.8 197.7h.2M650.0 196.9h.2M624.9 194.9h.2M651.6 195.0h.2M619.2 198.4h.2M601.1 196.2h.2M606.1 196.2h.2M628.0 194.0h.2M652.8 195.5h.2M627.9 194.4h.2M620.9 195.4h.2M624.4 195.1h.2M660.0 195.6h.2M607.3 196.0h.2M652.9 196.9h.2M602.7 197.5h.2M614.5 197.6h.2M598.7 196.1h.2M600.8 194.8h.2M605.0 197.1h.2M622.1 194.3h.2M609.9 194.4h.2M609.6 198.1h.2M621.8 198.0h.2M600.1 197.8h.2M654.7 196.2h.2M609.5 194.6h.2M630.4 196.2h.2M597.5 195.7h.2M611.6 194.9h.2M650.9 194.7h.2M622.2 195.2h.2M630.7 194.9h.2M647.3 195.2h.2M624.6 198.4h.2M627.6 197.4h.2M608.9 197.4h.2M654.4 196.2h.2M604.2 196.0h.2M626.7 194.2h.2M656.6 196.6h.2M630.0 195.3h.2M627.2 196.1h.2M657.7 196.5h.2M612.8 197.0h.2M603.0 197.0h.2M601.0 195.4h.2M606.6 195.7h.2M602.4 197.0h.2M642.2 194.7h.2M608.5 198.1h.2M626.4 197.3h.2M596.9 194.7h.2M615.6 195.7h.2M635.5 196.9h.2M638.2 195.3h.2M648.7 197.5h.2M634.4 195.7h.2M623.4 194.8h.2M649.9 195.6h.2M637.3 194.7h.2M628.5 194.0h.2M625.9 194.7h.2M623.3 194.6h.2M626.0 196.4h.2M618.5 194.3h.2M626.2 196.9h.2M621.5 195.4h.2M614.9 198.3h.2M652.7 194.8h.2M650.3 197.2h.2M637.8 195.1h.2M606.9 196.6h.2M619.5 197.5h.2M607.2 195.8h.2M599.7 195.9h.2M643.5 197.0h.2M618.8 197.3h.2M620.7 197.2h.2M637.9 195.0h.2M618.0 196.4h.2M598.2 195.5h.2M641.1 196.5h.2M634.3 197.5h.2M613.5 194.8h.2M601.6 197.9h.2M660.4 196.1h.2M632.7 195.9h.2M626.8 194.5h.2M624.1 196.1h.2M620.3 194.6h.2M632.1 194.4h.2M654.5 196.0h.2M607.5 195.1h.2M629.0 195.4h.2M604.0 197.6h.2M643.4 195.3h.2M656.3 195.0h.2M633.1 196.2h.2M639.8 196.3h.2M655.6 195.4h.2M638.7 195.1h.2M644.4 196.3h.2M598.3 194.5h.2M632.1 197.2h.2M616.8 197.4h.2M607.0 197.9h.2M620.7 196.3h.2M620.1 196.5h.2M617.4 196.8h.2M619.9 197.7h.2M623.4 194.7h.2M614.1 194.2h.2M652.0 195.0h.2M624.0 194.5h.2M647.0 196.3h.2M648.3 195.4h.2M643.4 194.7h.2M640.7 196.6h.2M633.8 194.7h.2M618.4 195.0h.2M624.5 197.4h.2M657.5 195.5h.2M637.6 194.6h.2M623.2 196.7h.2M645.8 197.5h.2M604.9 197.7h.2M607.8 196.7h.2M607.4 198.0h.2M605.9 197.1h.2M632.0 196.6h.2M611.4 195.4h.2M646.2 196.2h.2M603.3 194.4h.2M602.1 195.9h.2M601.7 197.9h.2M637.1 194.4h.2M641.1 194.4h.2M635.5 195.8h.2M610.9 194.3h.2M626.4 194.7h.2M613.8 197.9h.2M619.8 196.0h.2M620.7 197.9h.2M617.4 196.9h.2M626.1 194.1h.2M644.0 195.8h.2M630.8 196.3h.2M638.3 196.0h.2M648.7 196.8h.2M645.0 194.5h.2M647.7 195.8h.2M654.9 196.9h.2M640.5 194.8h.2M633.2 196.5h.2M611.3 194.5h.2M643.0 195.8h.2M617.3 194.5h.2M626.6 194.9h.2M657.2 195.9h.2M647.8 197.1h.2M643.6 196.5h.2M609.6 197.8h.2M664.8 195.5h.2M618.2 196.7h.2M617.9 196.6h.2M609.6 196.2h.2M602.6 197.8h.2M603.7 197.1h.2M620.8 195.1h.2M645.7 197.4h.2M627.6 197.0h.2M650.4 196.3h.2M605.4 196.0h.2M597.9 195.2h.2M639.2 197.1h.2M628.4 194.8h.2M619.6 198.3h.2M601.3 195.6h.2M618.1 194.7h.2M618.1 196.5h.2M632.1 198.1h.2M609.7 198.1h.2M625.5 197.7h.2M612.9 195.8h.2M603.3 195.4h.2M621.3 197.4h.2M648.7 196.8h.2M616.7 198.3h.2M605.7 194.3h.2M627.1 194.5h.2M640.0 194.7h.2M634.8 197.0h.2M628.1 198.4h.2M610.0 194.6h.2M647.6 195.0h.2M611.6 194.2h.2M627.0 198.4h.2M622.4 195.5h.2M611.8 195.8h.2M609.2 196.2h.2M641.4 196.2h.2M631.0 194.8h.2M625.3 195.0h.2M605.7 194.3h.2M599.6 195.9h.2M631.2 194.5h.2M640.9 194.4h.2M609.0 195.8h.2M654.4 194.9h.2M606.1 195.9h.2M634.2 197.3h.2M622.5 195.2h.2M637.4 197.1h.2M653.1 196.6h.2M625.3 197.9h.2M616.4 197.9h.2M628.5 197.1h.2M631.0 195.1h.2M607.7 194.7h.2M598.9 195.0h.2M622.8 195.7h.2M597.6 195.0h.2M597.6 195.3h.2M602.8 197.9h.2M626.8 196.2h.2M631.2 195.7h.2M659.6 195.4h.2M652.9 196.4h.2M632.8 196.3h.2M623.7 196.8h.2M630.7 197.7h.2M617.3 195.9h.2M636.4 194.7h.2M632.1 197.2h.2M661.3 196.3h.2M634.6 195.5h.2M622.0 194.4h.2M630.0 197.1h.2M611.4 198.2h.2M617.9 196.1h.2M623.1 196.4h.2M610.7 196.2h.2M625.5 197.5h.2M644.2 196.8h.2M603.7 196.3h.2M616.2 196.3h.2M598.9 196.0h.2M621.2 195.2h.2M635.1 194.5h.2M608.5 194.7h.2M613.8 198.0h.2M641.4 195.6h.2M621.5 194.3h.2M641.0 195.3h.2M603.9 196.5h.2M604.5 197.6h.2M604.7 196.2h.2M642.9 195.3h.2M626.5 196.8h.2M617.8 195.2h.2M612.5 196.5h.2M641.6 197.1h.2M616.0 194.9h.2M633.4 195.8h.2M626.5 196.3h.2M601.4 194.9h.2M655.1 196.5h.2M613.8 197.3h.2M616.5 194.1h.2M630.8 198.0h.2M636.5 196.6h.2M665.2 195.8h.2M616.4 197.1h.2M627.4 194.6h.2M632.1 196.9h.2M611.9 194.2h.2M626.7 197.1h.2M635.8 196.7h.2M651.4 197.0h.2M622.4 196.0h.2M605.4 197.3h.2M642.0 195.0h.2M636.9 195.1h.2M639.1 194.9h.2M621.0 197.3h.2M654.2 195.3h.2M633.5 196.6h.2M623.1 196.4h.2M624.7 198.2h.2M614.3 197.2h.2M621.0 194.9h.2M635.2 196.3h.2M627.4 196.9h.2M629.7 197.6h.2M615.2 197.9h.2M613.3 198.0h.2M602.3 197.0h.2M626.3 197.3h.2M650.9 197.3h.2M649.3 195.5h.2M604.2 195.4h.2M607.5 196.3h.2M606.8 196.2h.2M617.3 198.0h.2M604.3 197.1h.2M644.7 197.5h.2M646.9 195.8h.2M635.3 196.3h.2M629.1 196.0h.2M640.3 195.3h.2M641.2 194.9h.2M602.7 196.2h.2M646.6 196.8h.2M647.4 197.2h.2M600.5 194.5h.2M598.7 196.8h.2M642.3 195.3h.2M626.0 197.1h.2M656.8 195.3h.2M615.1 196.8h.2M661.5 196.1h.2M600.0 194.9h.2M631.7 194.9h.2M656.3 195.1h.2M651.0 195.3h.2M662.0 195.6h.2M628.9 196.1h.2M632.7 195.7h.2M623.6 195.6h.2M631.0 197.0h.2M633.9 197.9h.2M604.9 197.2h.2M621.7 196.7h.2M622.3 194.1h.2M627.9 198.0h.2M602.9 196.8h.2M623.8 196.6h.2M632.1 197.3h.2M642.2 194.7h.2M657.2 195.4h.2M603.9 196.5h.2M639.3 194.9h.2M608.1 196.9h.2M629.8 197.1h.2M609.2 196.1h.2M618.7 194.0h.2M605.8 197.2h.2M627.9 196.2h.2M616.6 196.8h.2M651.8 196.0h.2M628.3 197.1h.2M636.8 194.9h.2M642.5 196.4h.2M628.4 195.4h.2M617.4 195.2h.2M609.5 197.8h.2M633.3 197.3h.2M660.4 195.4h.2M602.7 196.2h.2M636.2 196.6h.2M618.5 195.8h.2M640.2 195.1h.2M631.5 196.7h.2M662.1 195.6h.2M612.2 197.0h.2M601.5 197.1h.2M598.2 195.7h.2M615.8 194.3h.2M611.2 197.8h.2M610.2 196.5h.2M615.8 195.6h.2M599.9 196.1h.2M605.1 196.5h.2M603.3 197.9h.2M602.0 196.9h.2M603.2 197.3h.2M618.7 195.2h.2M611.1 195.7h.2M610.0 195.3h.2M629.4 198.0h.2M613.2 195.1h.2M624.4 194.3h.2M611.0 195.6h.2M621.0 196.0h.2M656.2 195.3h.2M639.4 195.6h.2M646.9 195.0h.2M624.4 196.4h.2M619.0 197.1h.2M644.7 196.3h.2M613.7 197.9h.2M656.7 195.0h.2M603.7 195.6h.2M605.4 196.9h.2M651.9 195.0h.2M616.0 195.5h.2M620.3 196.5h.2M615.4 196.2h.2M646.3 195.8h.2M624.4 196.5h.2M657.8 195.2h.2M623.2 197.9h.2M638.8 196.4h.2M601.9 195.3h.2M632.7 194.4h.2M613.3 195.9h.2M644.6 196.4h.2M620.9 197.6h.2M632.7 197.2h.2M614.9 196.9h.2" stroke="#808080" stroke-opacity="0.35" stroke-width="0.6" stroke-linecap="round" fill="none"/>
</g>
<path d="M590.0 180.3 L590.0 166.0 L595.0 164.5 L600.0 163.0 L605.0 162.5 L610.0 163.0 L615.0 162.5 L620.0 163.5 L625.0 165.0 L630.0 166.0 L635.0 167.5 L640.0 170.5 L645.0 174.0 L648.0 177.5 L650.0 181.0 L650.0 180.3Z" fill="#12b872"/>
<g fill="#12b872">
<circle cx="590.4" cy="164.6" r="1.35" fill="#12b872"/>
<circle cx="592.9" cy="166.3" r="1.35" fill="#12b872"/>
<circle cx="591.5" cy="164.1" r="1.35" fill="#12b872"/>
<circle cx="588.2" cy="165.5" r="1.35" fill="#12b872"/>
<circle cx="588.8" cy="165.9" r="1.35" fill="#12b872"/>
<circle cx="597.2" cy="164.7" r="1.35" fill="#12b872"/>
<circle cx="594.3" cy="167.0" r="1.35" fill="#12b872"/>
<circle cx="599.5" cy="163.3" r="1.35" fill="#12b872"/>
<circle cx="592.6" cy="164.2" r="1.35" fill="#12b872"/>
<circle cx="599.1" cy="163.5" r="1.35" fill="#12b872"/>
<circle cx="602.5" cy="163.4" r="1.35" fill="#12b872"/>
<circle cx="599.4" cy="162.9" r="1.35" fill="#12b872"/>
<circle cx="603.0" cy="163.7" r="1.35" fill="#12b872"/>
<circle cx="600.4" cy="163.6" r="1.35" fill="#12b872"/>
<circle cx="597.6" cy="161.6" r="1.35" fill="#12b872"/>
<circle cx="605.8" cy="162.4" r="1.35" fill="#12b872"/>
<circle cx="605.9" cy="161.8" r="1.35" fill="#12b872"/>
<circle cx="606.8" cy="163.4" r="1.35" fill="#12b872"/>
<circle cx="604.5" cy="161.4" r="1.35" fill="#12b872"/>
<circle cx="604.2" cy="162.5" r="1.35" fill="#12b872"/>
<circle cx="609.0" cy="164.7" r="1.35" fill="#12b872"/>
<circle cx="609.0" cy="162.8" r="1.35" fill="#12b872"/>
<circle cx="609.6" cy="164.1" r="1.35" fill="#12b872"/>
<circle cx="614.4" cy="163.1" r="1.35" fill="#12b872"/>
<circle cx="605.5" cy="161.5" r="1.35" fill="#12b872"/>
<circle cx="614.6" cy="161.5" r="1.35" fill="#12b872"/>
<circle cx="612.3" cy="161.4" r="1.35" fill="#12b872"/>
<circle cx="615.1" cy="163.6" r="1.35" fill="#12b872"/>
<circle cx="616.1" cy="163.3" r="1.35" fill="#12b872"/>
<circle cx="615.1" cy="160.6" r="1.35" fill="#12b872"/>
<circle cx="622.5" cy="163.0" r="1.35" fill="#12b872"/>
<circle cx="622.5" cy="162.0" r="1.35" fill="#12b872"/>
<circle cx="619.4" cy="161.9" r="1.35" fill="#12b872"/>
<circle cx="624.7" cy="165.6" r="1.35" fill="#12b872"/>
<circle cx="624.5" cy="163.6" r="1.35" fill="#12b872"/>
<circle cx="622.9" cy="165.5" r="1.35" fill="#12b872"/>
<circle cx="626.9" cy="163.2" r="1.35" fill="#12b872"/>
<circle cx="627.2" cy="164.4" r="1.35" fill="#12b872"/>
<circle cx="623.2" cy="166.8" r="1.35" fill="#12b872"/>
<circle cx="621.1" cy="164.3" r="1.35" fill="#12b872"/>
<circle cx="629.6" cy="165.2" r="1.35" fill="#12b872"/>
<circle cx="632.4" cy="166.8" r="1.35" fill="#12b872"/>
<circle cx="629.1" cy="167.0" r="1.35" fill="#12b872"/>
<circle cx="629.1" cy="164.4" r="1.35" fill="#12b872"/>
<circle cx="629.7" cy="165.8" r="1.35" fill="#12b872"/>
<circle cx="634.3" cy="165.5" r="1.35" fill="#12b872"/>
<circle cx="632.6" cy="168.9" r="1.35" fill="#12b872"/>
<circle cx="635.9" cy="165.7" r="1.35" fill="#12b872"/>
<circle cx="632.1" cy="168.6" r="1.35" fill="#12b872"/>
<circle cx="632.4" cy="166.8" r="1.35" fill="#12b872"/>
<circle cx="644.0" cy="170.2" r="1.35" fill="#12b872"/>
<circle cx="642.2" cy="170.4" r="1.35" fill="#12b872"/>
<circle cx="641.4" cy="171.5" r="1.35" fill="#12b872"/>
<circle cx="643.1" cy="169.5" r="1.35" fill="#12b872"/>
<circle cx="639.5" cy="169.1" r="1.35" fill="#12b872"/>
<circle cx="645.1" cy="172.6" r="1.35" fill="#12b872"/>
<circle cx="646.5" cy="176.2" r="1.35" fill="#12b872"/>
<circle cx="646.4" cy="174.2" r="1.35" fill="#12b872"/>
<circle cx="649.0" cy="174.7" r="1.35" fill="#12b872"/>
<circle cx="643.9" cy="172.0" r="1.35" fill="#12b872"/>
<circle cx="648.0" cy="177.7" r="1.35" fill="#12b872"/>
<circle cx="650.4" cy="178.0" r="1.35" fill="#12b872"/>
<circle cx="649.6" cy="178.7" r="1.35" fill="#12b872"/>
<circle cx="651.7" cy="178.2" r="1.35" fill="#12b872"/>
<circle cx="648.8" cy="178.2" r="1.35" fill="#12b872"/>
<circle cx="654.0" cy="179.5" r="1.35" fill="#12b872"/>
<circle cx="650.6" cy="179.5" r="1.35" fill="#12b872"/>
<circle cx="651.7" cy="179.3" r="1.35" fill="#12b872"/>
<circle cx="646.8" cy="179.5" r="1.35" fill="#12b872"/>
<circle cx="652.0" cy="179.5" r="1.35" fill="#12b872"/>
<circle cx="603.0" cy="156.5" r="1.35" fill="#12b872"/>
<circle cx="614.3" cy="157.0" r="1.35" fill="#12b872"/>
<circle cx="616.0" cy="158.0" r="1.35" fill="#12b872"/>
<circle cx="586.5" cy="164.0" r="1.35" fill="#12b872"/>
<circle cx="590.0" cy="163.0" r="1.35" fill="#12b872"/>
<circle cx="652.0" cy="172.3" r="1.35" fill="#12b872"/>
<circle cx="649.0" cy="177.0" r="1.35" fill="#12b872"/>
<circle cx="644.0" cy="176.0" r="1.35" fill="#12b872"/>
<circle cx="606.0" cy="158.7" r="1.35" fill="#12b872"/>
<circle cx="646.0" cy="179.0" r="1.35" fill="#12b872"/>
<circle cx="641.0" cy="178.0" r="1.35" fill="#12b872"/>
</g>
<circle cx="630.8" cy="169.4" r="0.45" fill="#7fd9ad"/>
<circle cx="625.5" cy="168.8" r="0.45" fill="#7fd9ad"/>
<circle cx="624.3" cy="170.9" r="0.45" fill="#7fd9ad"/>
<circle cx="600.7" cy="175.6" r="0.45" fill="#7fd9ad"/>
<circle cx="637.3" cy="173.2" r="0.45" fill="#7fd9ad"/>
<circle cx="619.3" cy="168.3" r="0.45" fill="#7fd9ad"/>
<circle cx="593.1" cy="170.4" r="0.45" fill="#7fd9ad"/>
<circle cx="635.5" cy="172.7" r="0.45" fill="#7fd9ad"/>
<circle cx="628.5" cy="169.6" r="0.45" fill="#7fd9ad"/>
<circle cx="626.8" cy="166.8" r="0.45" fill="#7fd9ad"/>
<circle cx="629.4" cy="174.4" r="0.45" fill="#7fd9ad"/>
<circle cx="609.9" cy="166.9" r="0.45" fill="#7fd9ad"/>
<circle cx="600.3" cy="168.0" r="0.45" fill="#7fd9ad"/>
<circle cx="593.0" cy="170.7" r="0.45" fill="#7fd9ad"/>
<circle cx="609.1" cy="167.1" r="0.45" fill="#7fd9ad"/>
<circle cx="629.1" cy="170.2" r="0.45" fill="#7fd9ad"/>
<circle cx="614.2" cy="176.4" r="0.45" fill="#7fd9ad"/>
<circle cx="607.8" cy="172.1" r="0.45" fill="#7fd9ad"/>
<circle cx="630.5" cy="176.3" r="0.45" fill="#7fd9ad"/>
<circle cx="643.5" cy="175.4" r="0.45" fill="#7fd9ad"/>
<circle cx="608.1" cy="176.4" r="0.45" fill="#7fd9ad"/>
<circle cx="602.3" cy="171.2" r="0.45" fill="#7fd9ad"/>
<circle cx="596.2" cy="174.9" r="0.45" fill="#7fd9ad"/>
<circle cx="630.1" cy="167.5" r="0.45" fill="#7fd9ad"/>
<circle cx="611.6" cy="176.9" r="0.45" fill="#7fd9ad"/>
<circle cx="607.7" cy="176.9" r="0.45" fill="#7fd9ad"/>
<circle cx="595.6" cy="173.3" r="0.45" fill="#7fd9ad"/>
<circle cx="612.1" cy="177.1" r="0.45" fill="#7fd9ad"/>
<circle cx="618.7" cy="167.3" r="0.45" fill="#7fd9ad"/>
<circle cx="605.2" cy="172.0" r="0.45" fill="#7fd9ad"/>
<circle cx="607.3" cy="175.2" r="0.45" fill="#7fd9ad"/>
<circle cx="623.8" cy="172.2" r="0.45" fill="#7fd9ad"/>
<circle cx="638.8" cy="172.8" r="0.45" fill="#7fd9ad"/>
<circle cx="622.9" cy="169.5" r="0.45" fill="#7fd9ad"/>
<circle cx="610.6" cy="167.1" r="0.45" fill="#7fd9ad"/>
<circle cx="620.0" cy="172.2" r="0.45" fill="#7fd9ad"/>
<circle cx="624.8" cy="169.0" r="0.45" fill="#7fd9ad"/>
<circle cx="632.1" cy="168.6" r="0.45" fill="#7fd9ad"/>
<circle cx="607.3" cy="166.4" r="0.45" fill="#7fd9ad"/>
<circle cx="606.1" cy="173.3" r="0.45" fill="#7fd9ad"/>
<circle cx="626.6" cy="168.0" r="0.45" fill="#7fd9ad"/>
<circle cx="605.6" cy="168.4" r="0.45" fill="#7fd9ad"/>
<circle cx="634.2" cy="175.8" r="0.45" fill="#7fd9ad"/>
<circle cx="610.4" cy="165.3" r="0.45" fill="#7fd9ad"/>
<circle cx="601.2" cy="169.8" r="0.45" fill="#7fd9ad"/>
<circle cx="591.8" cy="213.5" r="1.35" fill="#3a8ec2" fill-opacity="0.85"/>
<circle cx="590.1" cy="211.3" r="1.35" fill="#3a8ec2" fill-opacity="0.85"/>
<circle cx="594.5" cy="211.7" r="1.35" fill="#3a8ec2" fill-opacity="0.85"/>
<circle cx="590.0" cy="211.2" r="1.35" fill="#3a8ec2" fill-opacity="0.85"/>
<circle cx="594.9" cy="210.9" r="1.35" fill="#3a8ec2" fill-opacity="0.85"/>
<circle cx="594.4" cy="211.2" r="1.35" fill="#3a8ec2" fill-opacity="0.85"/>
<circle cx="592.1" cy="212.0" r="1.35" fill="#3a8ec2" fill-opacity="0.85"/>
<circle cx="583.8" cy="211.7" r="1.35" fill="#3a8ec2" fill-opacity="0.85"/>
<circle cx="586.7" cy="212.1" r="1.35" fill="#3a8ec2" fill-opacity="0.85"/>
<circle cx="593.2" cy="215.1" r="1.35" fill="#3a8ec2" fill-opacity="0.85"/>
<circle cx="594.1" cy="211.4" r="1.35" fill="#3a8ec2" fill-opacity="0.85"/>
<circle cx="585.2" cy="212.5" r="1.35" fill="#3a8ec2" fill-opacity="0.85"/>
<circle cx="579.6" cy="211.6" r="1.35" fill="#3a8ec2" fill-opacity="0.85"/>
<circle cx="580.4" cy="213.5" r="1.35" fill="#3a8ec2" fill-opacity="0.85"/>
<circle cx="582.6" cy="212.2" r="1.35" fill="#3a8ec2" fill-opacity="0.85"/>
<circle cx="593.6" cy="213.8" r="1.35" fill="#3a8ec2" fill-opacity="0.85"/>
<circle cx="601.8" cy="213.8" r="1.35" fill="#3a8ec2" fill-opacity="0.85"/>
<circle cx="580.2" cy="212.0" r="1.35" fill="#3a8ec2" fill-opacity="0.85"/>
<circle cx="590.8" cy="217.8" r="1.35" fill="#3a8ec2" fill-opacity="0.85"/>
<circle cx="582.2" cy="215.3" r="1.35" fill="#3a8ec2" fill-opacity="0.85"/>
<circle cx="587.2" cy="213.2" r="1.35" fill="#3a8ec2" fill-opacity="0.85"/>
<circle cx="579.2" cy="214.3" r="1.35" fill="#3a8ec2" fill-opacity="0.85"/>
<circle cx="576.9" cy="214.5" r="1.35" fill="#3a8ec2" fill-opacity="0.85"/>
<circle cx="598.5" cy="213.4" r="1.35" fill="#3a8ec2" fill-opacity="0.85"/>
<circle cx="598.2" cy="213.7" r="1.35" fill="#3a8ec2" fill-opacity="0.85"/>
<circle cx="595.6" cy="213.6" r="1.35" fill="#3a8ec2" fill-opacity="0.85"/>
<circle cx="592.6" cy="214.5" r="1.35" fill="#3a8ec2" fill-opacity="0.85"/>
<circle cx="597.7" cy="211.1" r="1.35" fill="#3a8ec2" fill-opacity="0.85"/>
<circle cx="585.7" cy="213.0" r="1.35" fill="#3a8ec2" fill-opacity="0.85"/>
<circle cx="583.9" cy="215.6" r="1.35" fill="#3a8ec2" fill-opacity="0.85"/>
<circle cx="590.3" cy="211.3" r="1.35" fill="#3a8ec2" fill-opacity="0.85"/>
<circle cx="593.0" cy="213.1" r="1.35" fill="#3a8ec2" fill-opacity="0.85"/>
<circle cx="590.8" cy="213.8" r="1.35" fill="#3a8ec2" fill-opacity="0.85"/>
<circle cx="586.7" cy="211.0" r="1.35" fill="#3a8ec2" fill-opacity="0.85"/>
<circle cx="586.9" cy="214.8" r="1.35" fill="#3a8ec2" fill-opacity="0.85"/>
<circle cx="594.7" cy="215.8" r="1.35" fill="#3a8ec2" fill-opacity="0.85"/>
<circle cx="586.7" cy="214.4" r="1.35" fill="#3a8ec2" fill-opacity="0.85"/>
<circle cx="592.9" cy="212.3" r="1.35" fill="#3a8ec2" fill-opacity="0.85"/>
<circle cx="581.2" cy="213.3" r="1.35" fill="#3a8ec2" fill-opacity="0.85"/>
<circle cx="582.7" cy="217.9" r="1.35" fill="#3a8ec2" fill-opacity="0.85"/>
<circle cx="589.9" cy="214.5" r="1.35" fill="#3a8ec2" fill-opacity="0.85"/>
<circle cx="582.5" cy="213.0" r="1.35" fill="#3a8ec2" fill-opacity="0.85"/>
<circle cx="576.5" cy="220.8" r="1.35" fill="#3a8ec2" fill-opacity="0.85"/>
<circle cx="575.6" cy="229.5" r="1.35" fill="#3a8ec2" fill-opacity="0.85"/>
<circle cx="574.8" cy="231.0" r="1.35" fill="#3a8ec2" fill-opacity="0.85"/>
<circle cx="583.5" cy="231.0" r="1.35" fill="#3a8ec2" fill-opacity="0.85"/>
<circle cx="591.0" cy="228.0" r="1.35" fill="#3a8ec2" fill-opacity="0.85"/>
<circle cx="584.5" cy="220.0" r="1.35" fill="#3a8ec2" fill-opacity="0.85"/>
<circle cx="588.0" cy="222.0" r="1.35" fill="#3a8ec2" fill-opacity="0.85"/>
<circle cx="598.0" cy="221.0" r="1.35" fill="#3a8ec2" fill-opacity="0.85"/>
<circle cx="618.0" cy="216.5" r="1.35" fill="#3a8ec2" fill-opacity="0.85"/>
<circle cx="617.0" cy="213.5" r="1.35" fill="#3a8ec2" fill-opacity="0.85"/>
<circle cx="612.0" cy="212.0" r="1.35" fill="#3a8ec2" fill-opacity="0.85"/>
<circle cx="614.3" cy="162.8" r="1.9" fill="#0e7a4a" stroke="#333" stroke-width="0.55"/>
<text x="602.9" y="159.3" style="font-size:5.2px;font-family:'Liberation Mono',monospace" fill="#333">SCN3B</text>
<circle cx="624.6" cy="160.9" r="1.9" fill="none" stroke="#333" stroke-width="0.55"/>
<text x="627.8" y="157.6" style="font-size:5.2px;font-family:'Liberation Mono',monospace" fill="#333">GLRA2</text>
<circle cx="645.2" cy="172.5" r="1.9" fill="none" stroke="#333" stroke-width="0.55"/>
<text x="648.7" y="169.5" style="font-size:5.2px;font-family:'Liberation Mono',monospace" fill="#333">INA</text>
<line x1="570.70" y1="195.60" x2="678.00" y2="195.60" stroke="#444" stroke-width="0.7"/>
<line x1="570.70" y1="180.51" x2="678.00" y2="180.51" stroke="#333" stroke-width="0.6" stroke-dasharray="1.2 1"/>
<line x1="570.70" y1="210.69" x2="678.00" y2="210.69" stroke="#333" stroke-width="0.6" stroke-dasharray="1.2 1"/>
<text x="568.5" y="147.5" style="font-size:6.2px" text-anchor="end" fill="#333">1.00</text>
<text x="568.5" y="160.1" style="font-size:6.2px" text-anchor="end" fill="#333">0.75</text>
<text x="568.5" y="172.6" style="font-size:6.2px" text-anchor="end" fill="#333">0.50</text>
<text x="568.5" y="185.2" style="font-size:6.2px" text-anchor="end" fill="#333">0.25</text>
<text x="568.5" y="197.8" style="font-size:6.2px" text-anchor="end" fill="#333">0.00</text>
<text x="568.5" y="210.4" style="font-size:6.2px" text-anchor="end" fill="#333">−0.25</text>
<text x="568.5" y="222.9" style="font-size:6.2px" text-anchor="end" fill="#333">−0.50</text>
<text x="568.5" y="235.5" style="font-size:6.2px" text-anchor="end" fill="#333">−0.75</text>
<text x="568.5" y="248.1" style="font-size:6.2px" text-anchor="end" fill="#333">−1.00</text>
<text x="589.4" y="252.0" style="font-size:6.2px" text-anchor="middle" fill="#333">5</text>
<text x="619.8" y="252.0" style="font-size:6.2px" text-anchor="middle" fill="#333">10</text>
<text x="650.2" y="252.0" style="font-size:6.2px" text-anchor="middle" fill="#333">15</text>
<text x="570.2" y="142.6" style="font-size:7.5px" fill="#222">ventricular</text>
<text x="548.2" y="195.1" style="font-size:7.4px" text-anchor="middle" transform="rotate(-90 548.2 195.1)" fill="#222">fold change</text>
<text x="624.9" y="259.1" style="font-size:7.2px" text-anchor="middle" fill="#222">mean expression at 21PCW</text>
<text x="96.5" y="257.0" style="font-size:7.3px" text-anchor="middle" fill="#222">Significant genes (FDR&lt;0.01)</text>
<text x="38.6" y="265.3" style="font-size:7.0px" text-anchor="middle" fill="#222">0</text>
<text x="63.8" y="265.3" style="font-size:7.0px" text-anchor="middle" fill="#222">2000</text>
<text x="89.0" y="265.3" style="font-size:7.0px" text-anchor="middle" fill="#222">4000</text>
<text x="114.2" y="265.3" style="font-size:7.0px" text-anchor="middle" fill="#222">6000</text>
<text x="139.4" y="265.3" style="font-size:7.0px" text-anchor="middle" fill="#222">8000</text>
<line x1="38.60" y1="268.70" x2="154.50" y2="268.70" stroke="#333" stroke-width="0.8"/>
<rect x="38.60" y="272.00" width="110.20" height="33.60" fill="#2f7ea4" stroke="#2a5f7a" stroke-width="0.6"/>
<rect x="38.60" y="313.30" width="70.20" height="33.30" fill="#2bb3a6" stroke="#2a7f77" stroke-width="0.6"/>
<rect x="38.60" y="354.70" width="41.70" height="32.50" fill="#dcf8e7" stroke="#8a9a90" stroke-width="0.6"/>
<text x="36.0" y="291.3" style="font-size:6.9px" text-anchor="end" fill="#222">ZONE</text>
<text x="36.0" y="332.5" style="font-size:6.9px" text-anchor="end" fill="#222">REGION</text>
<text x="36.0" y="373.5" style="font-size:6.9px" text-anchor="end" fill="#222">TIMEPOINT</text>
<clipPath id="cTP"><circle cx="134.8" cy="407.2" r="22.3"/></clipPath>
<circle cx="145.2" cy="397.3" r="36.8" fill="#0d7bab"/>
<circle cx="152.8" cy="397.3" r="29.6" fill="#12bfb5"/>
<circle cx="134.8" cy="407.2" r="22.3" fill="#d9fbe8"/>
<g clip-path="url(#cTP)">
<circle cx="152.8" cy="397.3" r="29.6" fill="#8bd3ad"/>
</g>
<text x="133.5" y="375.0" style="font-size:4.8px" text-anchor="middle" fill="#222">2830</text>
<text x="158.5" y="393.5" style="font-size:4.8px" text-anchor="middle" fill="#222">3430</text>
<text x="140.7" y="405.3" style="font-size:4.8px" text-anchor="middle" fill="#222">2145</text>
<text x="123.6" y="413.8" style="font-size:4.8px" text-anchor="middle" fill="#222">1153</text>
<text x="118.4" y="423.5" style="font-size:4.8px" text-anchor="middle" fill="#222">0</text>
<text x="181.5" y="398.8" style="font-size:4.8px" text-anchor="middle" fill="#222">6</text>
<text x="119.7" y="360.5" style="font-size:4.8px" text-anchor="middle" fill="#222">ZONE</text>
<text x="176.8" y="367.7" style="font-size:4.8px" text-anchor="middle" fill="#222">REGION</text>
<text x="134.5" y="435.4" style="font-size:4.8px" text-anchor="middle" fill="#222">TIMEPOINT</text>
<rect x="218.4" y="258.70" width="87.40" height="12.8" fill="#d4e5f2"/>
<rect x="333.4" y="258.70" width="54.70" height="12.8" fill="#cfe1ee"/>
<text x="216.5" y="267.3" style="font-size:6.4px" text-anchor="end" fill="#222">Excitatory Neuron</text>
<rect x="218.4" y="274.78" width="75.60" height="12.8" fill="#58acd0" stroke="#555" stroke-width="0.6"/>
<rect x="333.4" y="274.78" width="41.10" height="12.8" fill="#dde9f4"/>
<text x="216.5" y="283.4" style="font-size:6.4px" text-anchor="end" fill="#222">Interneuron</text>
<rect x="218.4" y="290.86" width="79.00" height="12.8" fill="#94c6df" stroke="#555" stroke-width="0.6"/>
<rect x="333.4" y="290.86" width="12.30" height="12.8" fill="#e6eef6"/>
<text x="216.5" y="299.5" style="font-size:6.4px" text-anchor="end" fill="#222">Neuron</text>
<rect x="218.4" y="306.94" width="102.10" height="12.8" fill="#c5dcec" stroke="#555" stroke-width="0.6"/>
<rect x="333.4" y="306.94" width="28.00" height="12.8" fill="#ebf2f8"/>
<text x="216.5" y="315.5" style="font-size:6.4px" text-anchor="end" fill="#222">CR</text>
<rect x="218.4" y="323.02" width="24.90" height="12.8" fill="#fcdcd2"/>
<rect x="333.4" y="323.02" width="88.50" height="12.8" fill="#e55a1f" stroke="#555" stroke-width="0.6"/>
<text x="216.5" y="331.6" style="font-size:6.4px" text-anchor="end" fill="#222">Dividing</text>
<rect x="218.4" y="339.10" width="25.60" height="12.8" fill="#fde7dc"/>
<rect x="333.4" y="339.10" width="85.20" height="12.8" fill="#fb8c4e" stroke="#555" stroke-width="0.6"/>
<text x="216.5" y="347.7" style="font-size:6.4px" text-anchor="end" fill="#222">IPC</text>
<rect x="218.4" y="355.18" width="42.20" height="12.8" fill="#feeae0"/>
<rect x="333.4" y="355.18" width="73.90" height="12.8" fill="#fdad7c" stroke="#555" stroke-width="0.6"/>
<text x="216.5" y="363.8" style="font-size:6.4px" text-anchor="end" fill="#222">OPC</text>
<rect x="218.4" y="371.26" width="26.60" height="12.8" fill="#fff0e8"/>
<rect x="333.4" y="371.26" width="101.60" height="12.8" fill="#fdd1ac" stroke="#555" stroke-width="0.6"/>
<text x="216.5" y="379.9" style="font-size:6.4px" text-anchor="end" fill="#222">RG</text>
<rect x="218.4" y="387.34" width="38.20" height="12.8" fill="#d6ebdc"/>
<rect x="333.4" y="387.34" width="54.60" height="12.8" fill="#d2eadb"/>
<text x="216.5" y="395.9" style="font-size:6.4px" text-anchor="end" fill="#222">Microglia</text>
<rect x="218.4" y="403.42" width="43.60" height="12.8" fill="#e0f0e4"/>
<rect x="333.4" y="403.42" width="58.20" height="12.8" fill="#5cb97c" stroke="#555" stroke-width="0.6"/>
<text x="216.5" y="412.0" style="font-size:6.4px" text-anchor="end" fill="#222">Vascular</text>
<rect x="218.4" y="419.50" width="31.60" height="12.8" fill="#e8f4ea"/>
<rect x="333.4" y="419.50" width="81.90" height="12.8" fill="#92d09f" stroke="#555" stroke-width="0.6"/>
<text x="216.5" y="428.1" style="font-size:6.4px" text-anchor="end" fill="#222">Other</text>
<rect x="218.30" y="256.80" width="107.20" height="176.20" fill="none" stroke="#999" stroke-width="0.8"/>
<rect x="333.30" y="256.50" width="106.70" height="176.50" fill="none" stroke="#999" stroke-width="0.8"/>
<text x="217.8" y="254.7" style="font-size:9.2px" fill="#111">cortical plate</text>
<text x="333.5" y="254.3" style="font-size:9.1px" fill="#111">ventricular</text>
<text x="218.2" y="439.3" style="font-size:6.6px" text-anchor="middle" fill="#222">0.0</text>
<text x="333.2" y="439.3" style="font-size:6.6px" text-anchor="middle" fill="#222">0.0</text>
<text x="241.8" y="439.3" style="font-size:6.6px" text-anchor="middle" fill="#222">0.5</text>
<text x="357.6" y="439.3" style="font-size:6.6px" text-anchor="middle" fill="#222">0.5</text>
<text x="265.3" y="439.3" style="font-size:6.6px" text-anchor="middle" fill="#222">1.0</text>
<text x="382.0" y="439.3" style="font-size:6.6px" text-anchor="middle" fill="#222">1.0</text>
<text x="288.9" y="439.3" style="font-size:6.6px" text-anchor="middle" fill="#222">1.5</text>
<text x="406.3" y="439.3" style="font-size:6.6px" text-anchor="middle" fill="#222">1.5</text>
<text x="312.4" y="439.3" style="font-size:6.6px" text-anchor="middle" fill="#222">2.0</text>
<text x="430.7" y="439.3" style="font-size:6.6px" text-anchor="middle" fill="#222">2.0</text>
<text x="271.9" y="447.6" style="font-size:7.4px" text-anchor="middle" fill="#222">enrichment ratio</text>
<text x="386.7" y="447.6" style="font-size:7.4px" text-anchor="middle" fill="#222">enrichment ratio</text>
<text x="447.7" y="262.4" style="font-size:9.2px" fill="#111">cortical plate</text>
<path d="M496.5 297.8h.2M527.2 274.9h.2M518.9 265.8h.2M492.2 295.3h.2M529.6 299.7h.2M480.8 327.5h.2M543.1 286.2h.2M517.4 291.0h.2M502.5 305.1h.2M462.3 301.3h.2M468.3 280.2h.2M485.2 260.3h.2M456.7 304.6h.2M516.0 317.0h.2M485.0 313.9h.2M541.9 323.6h.2M459.2 265.1h.2M509.3 324.9h.2M497.3 319.1h.2M504.9 304.5h.2M506.3 304.4h.2M486.1 336.9h.2M523.8 288.8h.2M490.0 279.2h.2M511.5 271.5h.2M488.7 314.9h.2M513.7 311.5h.2M464.9 315.3h.2M494.2 326.5h.2M490.3 333.6h.2M509.6 315.0h.2M487.0 291.9h.2M487.2 320.0h.2M485.5 297.7h.2M530.7 310.3h.2M490.8 305.7h.2M458.7 269.8h.2M510.2 355.1h.2M554.3 350.4h.2M514.0 289.5h.2M527.9 276.1h.2M417.9 308.5h.2M526.9 314.1h.2M541.4 315.3h.2M507.7 278.9h.2M494.4 276.4h.2M487.7 338.1h.2M503.9 307.5h.2M478.6 352.1h.2M442.5 281.5h.2M524.5 285.0h.2M475.8 310.2h.2M519.0 313.7h.2M474.0 315.1h.2M464.1 281.6h.2M470.1 306.6h.2M488.1 281.0h.2M498.9 279.5h.2M483.9 293.8h.2M482.1 279.9h.2M463.1 322.0h.2M440.1 306.0h.2M475.5 285.8h.2M448.1 299.4h.2M482.5 321.2h.2M482.2 278.2h.2M464.4 319.1h.2M513.9 293.0h.2M544.4 305.3h.2M489.8 310.4h.2M467.2 302.0h.2M466.3 311.5h.2M515.7 297.8h.2M528.1 285.9h.2M513.1 297.5h.2M465.7 313.8h.2M545.6 361.9h.2M500.6 309.6h.2M545.8 279.0h.2M540.5 266.8h.2M465.6 295.5h.2M487.3 319.3h.2M468.1 297.5h.2M488.2 303.3h.2M515.2 318.7h.2M507.0 307.7h.2M499.4 268.8h.2M446.9 307.2h.2M459.1 284.2h.2M504.1 293.0h.2M475.6 281.9h.2M499.0 329.3h.2M450.5 295.1h.2M524.9 305.3h.2M481.3 300.6h.2M509.4 320.3h.2M453.2 282.8h.2M505.7 308.7h.2M504.8 308.2h.2M522.7 309.2h.2M570.0 286.5h.2M488.0 271.0h.2M514.7 304.8h.2M493.6 277.1h.2M553.0 308.4h.2M521.1 273.1h.2M507.4 310.0h.2M546.3 311.8h.2M528.0 268.9h.2M492.2 301.8h.2M495.3 294.3h.2M489.2 326.1h.2M486.2 314.8h.2M517.4 292.9h.2M502.0 252.5h.2M481.0 321.9h.2M480.3 258.9h.2M525.2 274.1h.2M535.8 299.3h.2M461.6 286.2h.2M541.7 303.7h.2M495.6 303.1h.2M493.1 287.1h.2M515.4 329.4h.2M500.4 331.7h.2M529.1 269.6h.2M517.7 326.7h.2M441.4 288.7h.2M510.7 282.1h.2M497.6 292.9h.2M470.2 295.8h.2M483.8 297.0h.2M494.0 284.0h.2M472.1 285.2h.2M508.1 277.1h.2M532.1 279.5h.2M547.4 292.7h.2M481.6 286.8h.2M507.9 301.1h.2M469.4 301.4h.2M508.6 302.1h.2M532.0 248.5h.2M489.5 285.8h.2M509.0 337.3h.2M457.6 282.1h.2M490.0 318.1h.2M526.3 285.0h.2M521.3 298.5h.2M526.3 301.5h.2M513.4 300.4h.2M473.5 281.4h.2M511.8 285.8h.2M470.3 295.7h.2M511.2 313.0h.2M478.6 297.0h.2M513.8 287.2h.2M525.2 303.3h.2M470.1 312.8h.2M490.0 331.6h.2M493.8 330.7h.2M562.3 312.1h.2M513.3 293.3h.2M502.3 316.9h.2M555.2 325.5h.2M476.5 326.5h.2M479.5 337.3h.2M533.0 310.9h.2M464.9 313.4h.2M480.1 285.7h.2M495.4 268.0h.2M500.5 307.6h.2M522.9 288.1h.2M484.5 327.0h.2M532.9 266.5h.2M513.7 320.1h.2M478.5 319.8h.2M491.0 292.4h.2M463.7 326.9h.2M469.9 234.1h.2M456.3 283.7h.2M458.2 327.3h.2M467.6 287.9h.2M495.9 310.2h.2M454.7 261.1h.2M466.6 308.3h.2M485.7 309.2h.2M472.7 317.0h.2M502.7 299.0h.2M509.7 304.9h.2M502.5 268.5h.2M504.6 296.1h.2M509.3 304.2h.2M485.7 308.7h.2M540.6 310.9h.2M499.3 303.0h.2M527.4 287.0h.2M499.0 293.1h.2M457.6 315.6h.2M524.3 294.4h.2M494.5 312.9h.2M548.4 299.3h.2M553.6 328.5h.2M447.6 298.8h.2M513.4 296.0h.2M528.8 308.2h.2M514.2 296.5h.2M450.1 308.0h.2M469.2 316.9h.2M505.3 358.1h.2M509.4 264.9h.2M562.0 311.0h.2M532.2 329.2h.2M473.5 281.0h.2M522.0 279.8h.2M448.2 287.2h.2M493.1 313.5h.2M485.4 286.6h.2M510.0 302.9h.2M520.1 275.4h.2M555.7 277.5h.2M528.9 319.1h.2M477.4 299.0h.2M484.3 313.6h.2M525.4 300.8h.2M505.3 287.2h.2M519.5 314.2h.2M493.3 281.5h.2M528.2 282.8h.2M485.0 285.9h.2M507.4 300.1h.2M463.3 291.2h.2M482.7 319.1h.2M565.3 334.8h.2M547.9 332.8h.2M487.2 294.5h.2M467.7 322.3h.2M507.5 283.8h.2M515.2 301.3h.2M527.4 297.7h.2M484.0 302.0h.2M498.2 319.4h.2M492.0 293.1h.2M504.1 277.2h.2M485.7 315.7h.2M474.1 321.9h.2M482.6 295.9h.2M513.3 302.9h.2M463.9 268.5h.2M504.4 280.8h.2M489.2 312.1h.2M491.8 288.8h.2M466.6 302.2h.2M562.8 281.2h.2M457.5 292.0h.2M531.5 294.2h.2M494.5 298.5h.2M502.5 281.2h.2M462.8 299.3h.2M549.9 266.7h.2M490.6 294.5h.2M485.6 302.6h.2M479.3 316.2h.2M475.4 271.6h.2M492.4 311.7h.2M578.1 296.2h.2M544.8 269.3h.2M523.8 328.8h.2M496.5 318.7h.2M490.3 290.6h.2M493.7 314.3h.2M447.0 328.7h.2M492.3 289.0h.2M531.1 305.0h.2M571.2 278.3h.2M493.1 291.3h.2M536.6 285.3h.2M458.3 249.8h.2M454.5 300.2h.2M474.7 323.7h.2M453.3 296.4h.2M456.0 294.7h.2M474.0 288.0h.2M441.4 315.9h.2M474.9 287.2h.2M477.8 286.7h.2M528.9 318.8h.2M499.4 275.9h.2M498.0 287.8h.2M428.7 283.4h.2M497.5 281.9h.2M483.1 315.6h.2M522.6 259.1h.2M504.4 299.8h.2M504.8 286.4h.2M500.1 254.3h.2M483.5 311.3h.2M457.3 286.2h.2M472.2 300.3h.2M524.7 287.3h.2M549.0 285.5h.2M517.3 307.7h.2M460.5 278.0h.2M494.9 274.6h.2M452.7 290.8h.2M450.4 293.5h.2M479.5 307.0h.2M522.4 261.4h.2M482.4 311.4h.2M566.6 297.2h.2M498.5 284.1h.2M560.2 288.5h.2M507.6 313.8h.2M455.6 267.9h.2M455.8 295.6h.2M513.2 279.9h.2M544.2 281.1h.2M500.1 291.2h.2M460.8 287.1h.2M487.5 266.6h.2M487.8 274.4h.2M517.6 272.0h.2M458.1 275.5h.2M500.9 321.2h.2M456.3 307.6h.2M511.8 287.5h.2M510.3 306.7h.2M476.8 254.1h.2M494.1 287.0h.2M495.5 306.3h.2M548.9 289.1h.2M520.6 301.0h.2M478.3 277.3h.2M453.9 255.7h.2M505.3 307.4h.2M471.5 313.0h.2M496.7 295.7h.2M470.0 282.4h.2M514.1 306.4h.2M487.9 315.2h.2M507.4 271.5h.2M535.1 296.3h.2M552.9 282.4h.2M436.5 311.7h.2M546.3 294.3h.2M502.7 342.8h.2M526.1 315.0h.2M484.1 286.5h.2M461.3 278.6h.2M494.8 310.1h.2M550.9 331.2h.2" stroke="#6ab6e0" stroke-opacity="0.13" stroke-width="0.7" stroke-linecap="round" fill="none"/>
<path d="M517.1 271.2Q516.6 272.8 514.6 273.6Q512.6 274.5 510.7 273.1Q508.7 271.8 507.7 270.7Q506.7 269.7 505.1 268.0Q503.5 266.4 505.6 265.8Q507.8 265.2 509.7 264.8Q511.7 264.4 513.2 265.7Q514.7 267.0 516.1 268.3Q517.5 269.6 517.1 271.2Z" fill="#48a6d8" fill-opacity="0.5225"/>
<path d="M507.9 269.4l3.0 1.8M507.7 266.1l2.7 1.3M509.7 266.5l2.6 -0.3M505.0 267.0l2.2 0.3M509.5 269.0l4.1 -0.6M508.1 265.4l1.9 0.8M507.2 267.2l4.5 1.0M512.2 267.1l3.3 2.3M507.1 266.9l3.0 -0.2M514.0 268.9l4.3 0.9M512.6 266.3l3.2 -0.2M511.0 268.0l2.5 -0.1M513.5 270.6l2.1 1.7M508.3 271.2l2.5 1.0M511.1 265.5l2.1 1.2M508.8 269.1l4.4 0.3M507.7 271.5l2.8 1.6M513.5 269.4l2.5 -0.3M506.5 271.1l1.9 1.3M504.7 267.5l3.1 1.6M508.8 272.0l4.0 0.4M506.9 266.4l2.5 0.2M504.1 267.7l2.1 1.4M514.2 269.6l1.9 -0.1M507.7 270.1l3.7 0.9M514.4 269.7l2.8 0.5M507.5 264.5l2.5 0.8M512.3 266.9l3.8 -0.6M513.2 268.9l2.5 0.1M509.7 266.7l3.2 1.6M515.2 269.7l2.1 1.1M510.5 272.8l2.3 -0.3M507.3 266.7l3.4 0.4M508.6 268.9l1.8 1.2" stroke="#48a6d8" stroke-opacity="0.4275" stroke-width="0.9" stroke-linecap="round" fill="none"/>
<path d="M552.2 269.6Q554.0 270.7 553.0 272.7Q552.0 274.6 547.3 275.9Q542.6 277.2 537.3 278.2Q532.1 279.2 530.0 277.8Q527.8 276.3 531.1 274.4Q534.3 272.5 534.7 270.4Q535.2 268.3 540.6 267.0Q546.0 265.8 548.2 267.2Q550.5 268.6 552.2 269.6Z" fill="#6ab6e0" fill-opacity="0.33"/>
<path d="M541.2 271.8l7.7 1.2M538.7 273.8l4.8 0.9M537.9 271.0l4.6 -0.7M535.8 271.7l4.0 -1.2M548.3 270.6l7.4 -1.3M547.9 274.5l6.5 -4.2M540.7 272.4l4.6 0.7M547.0 268.2l6.3 0.8M541.3 272.8l7.7 -1.9M543.8 269.7l6.3 -1.4M543.5 274.3l5.7 -4.2M538.8 276.0l8.7 -0.7M529.0 275.0l4.5 -0.9M542.7 269.7l5.7 -2.7M544.8 270.4l6.2 -2.8M547.1 273.8l3.9 -0.8M532.2 273.2l3.4 -0.1M545.2 270.4l3.8 -2.6M531.8 273.8l8.3 -1.3M536.8 273.5l4.1 -2.5M545.0 269.8l5.4 -2.9M547.6 272.7l7.4 -1.8M536.5 275.4l5.0 -0.7M542.0 271.9l6.2 -4.3M543.4 269.0l3.5 0.5M543.2 276.3l5.0 -2.5M531.9 275.9l5.1 0.7M536.6 271.2l7.9 0.4M540.6 269.6l6.7 1.5M541.6 271.5l7.2 0.2M533.2 274.4l8.6 -1.0M537.9 272.7l4.0 -2.2M535.4 271.8l3.0 -1.8M542.4 272.3l3.4 -2.2M534.4 272.6l3.0 -2.1M531.0 272.7l4.8 -1.2M538.8 271.0l4.1 0.0M547.1 272.1l3.9 -1.7M538.5 273.8l8.4 -2.4M532.6 273.3l4.2 -1.9M532.5 270.8l4.7 0.6M532.6 274.7l7.7 -4.2M533.9 278.4l5.8 -3.2M535.0 273.8l7.5 -4.3M531.9 275.3l4.8 0.5M534.7 271.9l3.2 -1.8M547.7 271.8l3.6 -0.3M537.5 273.3l6.1 0.4M530.7 272.5l3.9 -0.3M540.2 275.2l7.1 -1.2M542.0 273.1l5.2 -1.4M534.4 271.7l4.1 0.5M538.0 274.5l8.0 -1.1M537.4 274.2l3.2 -2.2M533.4 270.9l7.2 1.5M539.9 273.4l4.7 -2.4M541.6 276.7l3.9 -1.5M542.1 273.4l6.8 1.3" stroke="#6ab6e0" stroke-opacity="0.27" stroke-width="0.9" stroke-linecap="round" fill="none"/>
<path d="M545.4 282.1Q545.2 283.5 544.5 285.2Q543.8 286.8 541.2 288.5Q538.6 290.1 536.2 290.0Q533.8 289.8 531.0 289.5Q528.2 289.2 530.9 286.9Q533.6 284.6 534.7 282.4Q535.9 280.1 539.7 278.6Q543.5 277.1 544.5 278.9Q545.6 280.7 545.4 282.1Z" fill="#48a6d8" fill-opacity="0.49500000000000005"/>
<path d="M532.5 287.7l5.7 -1.4M538.0 283.0l2.3 -1.5M536.0 282.8l2.7 -1.5M545.1 284.0l3.2 -2.9M531.8 284.5l4.2 -1.8M543.3 284.8l4.6 -2.5M539.5 285.5l5.1 -2.7M533.6 289.4l2.8 -2.3M544.0 282.2l5.4 -1.3M541.9 283.2l3.0 -0.3M533.4 283.2l3.2 -1.6M537.1 288.1l2.1 -2.0M544.4 284.4l2.5 -2.0M537.8 280.9l5.8 -0.2M542.8 285.1l2.6 -2.3M538.2 283.2l5.6 -2.7M540.5 286.3l5.7 -1.5M532.4 285.9l5.4 -3.1M533.7 284.7l4.7 -2.5M531.8 283.9l5.8 -2.8M537.5 283.3l4.2 -3.6M532.3 286.8l3.6 -2.7M543.8 281.8l5.1 -2.2M529.1 290.4l4.7 -4.3M533.2 290.7l4.9 -1.7M534.2 290.6l4.6 -2.0M533.7 285.3l5.1 -1.8M535.8 283.0l3.2 -0.7M530.5 286.8l4.4 -2.0M536.2 283.7l5.2 -0.3M540.9 289.0l4.1 -3.3M536.2 286.0l3.6 -2.1M540.8 282.5l2.6 -2.3M543.4 281.7l4.7 -2.0M535.9 287.9l2.8 -3.2M541.8 285.1l3.0 -2.3M534.4 286.0l5.7 -3.4M530.6 290.7l5.9 -3.1M541.5 285.3l3.4 -3.4M540.3 282.2l5.9 -0.8M537.3 289.5l5.1 -1.2M538.6 282.9l3.0 -3.2M541.2 281.9l5.3 -1.1M541.4 287.4l5.3 -2.8M543.3 284.1l3.5 -0.1M537.3 283.7l3.0 -1.6M537.1 284.0l4.3 -4.6M537.5 286.8l2.4 -2.7M536.2 288.2l2.4 -1.7" stroke="#48a6d8" stroke-opacity="0.405" stroke-width="0.9" stroke-linecap="round" fill="none"/>
<path d="M470.8 290.2Q470.3 292.2 472.2 293.6Q474.0 295.0 468.6 297.5Q463.1 300.1 459.0 301.9Q455.0 303.7 450.0 305.0Q445.0 306.3 447.2 303.2Q449.3 300.1 452.6 297.7Q456.0 295.3 459.9 291.5Q463.9 287.7 467.6 287.9Q471.3 288.1 470.8 290.2Z" fill="#6ab6e0" fill-opacity="0.35750000000000004"/>
<path d="M455.1 298.4l9.2 -4.2M461.5 295.3l9.2 -5.1M451.3 303.8l5.7 -1.2M451.2 305.0l4.5 -5.4M460.3 299.1l5.3 -2.3M468.1 295.5l5.1 -1.5M450.3 300.8l3.8 -2.1M458.9 294.5l5.9 -1.5M449.5 300.1l6.0 -1.4M458.6 295.6l3.6 -2.1M446.1 303.4l6.7 -3.5M448.6 303.5l6.0 -2.6M453.8 302.7l7.0 -4.1M453.9 297.6l4.3 -3.9M454.5 301.7l8.4 -4.7M451.8 303.8l6.4 -6.4M459.8 297.1l4.5 -1.8M462.8 295.0l6.5 -1.5M449.4 302.7l5.1 -0.6M455.7 304.4l6.9 -4.4M464.0 297.5l6.1 -2.3M454.1 302.1l7.8 -4.2M449.2 297.8l10.1 -3.7M458.6 297.6l3.5 -3.2M453.8 302.8l3.9 -1.4M462.4 294.5l8.3 -6.6M465.7 296.4l5.5 -6.0M462.8 294.3l7.3 -3.5M450.6 296.5l9.8 -3.1M452.3 299.5l9.3 -3.0M451.5 302.4l6.7 -4.4M469.8 294.5l4.3 -5.6M465.1 292.0l6.5 -3.1M469.3 292.5l6.5 -0.8M452.2 299.7l4.5 -2.3M460.9 294.2l3.4 -2.3M457.9 299.2l7.2 -6.8M469.0 292.6l5.2 -5.7M464.6 290.9l4.2 -1.4M453.2 302.9l8.1 -4.0M457.5 297.3l5.2 -2.9M447.2 299.0l9.3 -2.4M461.3 298.5l7.1 -3.4M453.4 297.0l8.7 -4.0M460.6 299.3l9.1 -2.3M452.4 295.1l9.2 -0.5M451.3 302.8l4.4 -3.1M454.4 298.3l4.0 -3.2M464.7 290.4l6.9 -1.8M467.8 295.8l3.5 -4.3M453.7 302.0l3.6 -3.0M467.3 296.6l7.7 -5.8M448.8 303.6l7.2 -4.9M459.8 297.8l7.2 -6.0M461.3 301.3l5.4 -4.8M460.7 292.2l5.2 -1.9M467.6 293.1l5.6 -0.7M451.0 296.9l8.1 -2.6M452.1 300.8l5.3 -0.8M454.6 303.4l5.6 -2.8M455.8 296.2l7.6 -0.7M455.4 296.2l8.9 -2.3M463.2 291.8l5.6 -2.2M460.3 299.0l7.1 -2.3M458.0 298.2l9.8 -3.0M461.1 296.3l8.7 -3.7M465.4 295.2l3.9 -1.7M454.2 294.7l8.9 -3.2M447.9 301.9l5.3 -2.0M449.4 302.5l8.8 -1.6M459.1 301.1l7.7 -1.3M466.9 295.0l6.6 -4.7M466.1 294.3l4.9 -1.2M455.9 296.2l6.5 -2.5M458.1 301.3l6.9 -6.2M460.1 301.4l7.7 -6.6M457.6 302.8l7.0 -4.7M469.3 291.2l6.5 -0.6" stroke="#6ab6e0" stroke-opacity="0.29250000000000004" stroke-width="0.9" stroke-linecap="round" fill="none"/>
<path d="M467.0 295.0Q473.0 301.5 481.0 305.0Q475.0 298.5 467.0 295.0Z" fill="#48a6d8" fill-opacity="0.7"/>
<line x1="446" y1="279" x2="449" y2="283" stroke="#6ab6e0" stroke-opacity="0.5" stroke-width="0.9" stroke-linecap="round"/>
<path d="M449.7 312.0Q449.4 313.0 449.5 314.8Q449.7 316.7 447.6 315.7Q445.5 314.6 443.7 314.6Q441.8 314.5 441.9 313.1Q441.9 311.7 441.8 310.3Q441.7 308.9 443.5 309.0Q445.4 309.0 447.2 308.5Q449.1 308.0 449.6 309.5Q450.1 311.0 449.7 312.0Z" fill="#6ab6e0" fill-opacity="0.35750000000000004"/>
<path d="M442.6 311.4l2.4 -0.4M446.3 308.5l2.7 1.2M443.8 310.8l2.0 1.0M441.2 309.5l2.2 1.6M441.0 309.8l2.8 1.3M445.6 309.3l2.3 -0.3M442.4 312.1l1.6 0.6M446.3 309.6l2.2 0.2M442.3 313.3l3.0 1.9M443.7 313.3l2.4 -0.1M441.9 310.2l2.9 0.5M442.2 314.5l2.4 -0.5M443.4 311.9l3.6 -0.4M441.0 312.2l2.9 -0.5M442.1 314.5l2.5 -0.6M442.1 309.6l2.5 0.4M446.5 314.3l3.2 -0.2M447.0 311.5l2.0 0.6M446.6 311.6l2.1 0.8M448.5 313.1l2.7 -0.6M440.6 311.1l2.9 1.3M447.8 310.2l3.5 0.5M443.7 308.0l2.6 1.2M448.7 312.2l2.7 1.1M447.4 309.8l3.1 -0.2" stroke="#6ab6e0" stroke-opacity="0.29250000000000004" stroke-width="0.9" stroke-linecap="round" fill="none"/>
<path d="M471.4 322.4Q470.2 323.5 468.6 324.0Q467.1 324.4 465.4 323.5Q463.8 322.7 461.6 321.4Q459.4 320.2 459.4 318.0Q459.3 315.9 461.3 315.2Q463.3 314.5 465.5 314.4Q467.8 314.3 470.0 315.8Q472.2 317.3 472.4 319.3Q472.5 321.3 471.4 322.4Z" fill="#6ab6e0" fill-opacity="0.385"/>
<path d="M459.9 319.3l3.9 0.4M461.3 318.0l3.2 1.4M465.8 319.5l2.5 1.3M459.3 317.6l2.9 1.9M459.5 318.1l3.2 0.9M461.9 321.4l1.4 1.4M461.8 319.7l2.2 2.6M471.1 320.4l1.7 1.7M468.8 316.4l1.3 1.6M470.1 322.0l1.7 1.9M464.4 316.0l3.6 3.2M468.6 321.0l2.6 1.5M463.8 322.0l4.6 1.5M460.2 316.7l3.4 0.4M467.0 318.2l1.6 1.8M468.7 318.8l3.5 2.7M465.7 315.4l3.0 0.5M459.0 317.9l3.8 2.5M468.7 320.4l2.7 0.5M464.1 317.1l3.1 0.4M470.5 321.9l2.3 0.4M461.9 319.6l2.7 0.9M468.4 320.1l1.8 2.2M465.6 322.8l3.6 1.8M468.1 319.2l2.4 0.4M467.5 321.5l3.8 2.7M461.4 320.6l2.2 1.8M467.2 316.3l2.3 3.1M459.9 315.5l3.2 1.5M464.4 315.5l3.0 2.8M464.2 317.9l3.0 1.8M469.1 322.8l1.9 1.1M462.2 317.8l2.0 0.6M461.2 318.5l2.5 2.4M468.4 318.4l4.4 1.6M465.7 316.5l2.3 0.5M462.7 321.2l1.5 1.8M464.3 319.5l3.8 2.6" stroke="#6ab6e0" stroke-opacity="0.315" stroke-width="0.9" stroke-linecap="round" fill="none"/>
<path d="M484.1 327.1Q482.7 328.4 480.9 327.5Q479.2 326.6 479.2 323.7Q479.2 320.8 478.7 318.7Q478.2 316.6 479.2 315.2Q480.2 313.7 481.5 314.1Q482.7 314.4 483.7 315.7Q484.6 316.9 485.5 318.9Q486.5 320.8 486.0 323.3Q485.6 325.9 484.1 327.1Z" fill="#6ab6e0" fill-opacity="0.41250000000000003"/>
<path d="M483.0 322.9l-0.7 3.2M483.6 324.1l-0.3 2.3M481.4 322.1l1.2 3.6M483.5 322.6l-0.5 2.5M484.0 323.1l-0.6 3.8M479.9 315.2l-0.1 2.0M481.7 320.8l-0.9 3.7M482.9 321.4l-0.1 4.1M484.7 319.3l-0.5 3.5M480.4 313.2l-1.1 3.9M483.5 318.2l-0.6 4.5M480.9 321.9l1.8 4.2M480.4 315.6l-0.9 3.7M480.9 313.3l-0.5 2.1M485.0 318.6l0.1 3.7M483.9 322.5l-1.2 3.4M484.4 314.5l-0.4 4.3M481.8 316.0l-0.5 2.9M482.5 317.7l0.2 1.9M479.3 322.5l0.3 1.9M480.9 321.8l-1.3 4.5M482.8 322.1l0.1 3.5M478.9 318.1l0.6 2.0M481.6 320.0l1.2 3.9M480.0 320.9l0.5 4.5M480.4 320.2l1.6 4.0M482.0 313.0l0.6 3.1M484.1 322.7l0.8 1.9M479.2 317.0l-0.3 2.8M483.1 323.8l0.1 2.9" stroke="#6ab6e0" stroke-opacity="0.3375" stroke-width="0.9" stroke-linecap="round" fill="none"/>
<path d="M482.8 329.0Q484.2 329.6 483.2 330.9Q482.3 332.1 479.6 333.2Q476.9 334.2 474.3 334.7Q471.7 335.1 467.8 335.7Q463.9 336.3 465.0 334.8Q466.2 333.2 467.5 331.8Q468.9 330.3 472.6 329.2Q476.2 328.1 478.8 328.2Q481.4 328.4 482.8 329.0Z" fill="#6ab6e0" fill-opacity="0.35750000000000004"/>
<path d="M476.6 328.9l5.2 0.3M474.8 332.7l4.3 -1.3M475.4 330.8l4.1 -2.5M471.6 330.6l5.2 -0.7M470.4 334.0l4.8 -1.8M472.6 332.8l4.7 0.5M474.9 330.6l2.7 -1.1M467.7 335.1l5.4 -0.5M468.7 334.3l4.1 0.4M479.4 330.5l4.2 -1.0M467.9 334.4l3.4 0.0M472.2 330.1l5.8 -0.1M470.1 334.0l6.6 -0.9M464.8 334.8l4.9 -1.4M468.2 332.6l3.5 0.4M468.8 334.5l4.8 -3.0M472.3 335.0l3.3 -1.8M467.0 335.0l5.3 -4.2M466.4 335.5l2.6 -1.2M478.5 329.6l4.0 0.1M465.7 333.2l4.1 -1.2M473.3 331.4l2.6 0.3M477.6 331.8l4.0 -0.6M474.0 331.6l3.7 -0.9M468.6 334.8l4.8 0.8M472.9 332.6l6.2 -0.1M467.0 334.7l2.9 -1.5M471.9 333.1l5.3 -1.9M470.3 336.0l3.6 -1.6M477.5 330.3l2.9 -0.6M474.4 332.4l3.7 -0.3M472.8 330.9l3.8 -1.0M470.4 334.2l5.3 -2.5M481.6 331.0l2.7 -0.4" stroke="#6ab6e0" stroke-opacity="0.29250000000000004" stroke-width="0.9" stroke-linecap="round" fill="none"/>
<line x1="479" y1="340" x2="493" y2="337" stroke="#6ab6e0" stroke-opacity="0.55" stroke-width="0.9" stroke-linecap="round"/>
<line x1="489" y1="338" x2="503" y2="341" stroke="#6ab6e0" stroke-opacity="0.5" stroke-width="0.9" stroke-linecap="round"/>
<line x1="487" y1="338" x2="488" y2="346" stroke="#6ab6e0" stroke-opacity="0.55" stroke-width="1.2" stroke-linecap="round"/>
<path d="M506.9 322.6Q506.9 324.2 505.2 324.8Q503.4 325.5 501.8 325.8Q500.3 326.1 497.8 326.0Q495.4 326.0 494.8 324.1Q494.3 322.2 496.0 321.0Q497.8 319.9 499.1 318.7Q500.4 317.5 502.9 317.4Q505.4 317.4 506.2 319.2Q507.0 321.0 506.9 322.6Z" fill="#6ab6e0" fill-opacity="0.33"/>
<path d="M499.2 324.3l1.9 -0.6M502.7 322.8l3.8 1.1M500.1 324.0l3.3 -1.5M495.4 323.5l3.0 0.0M501.5 325.0l2.4 0.8M500.0 325.3l3.7 0.0M495.3 324.3l3.3 -0.5M496.4 324.7l3.0 0.3M501.7 321.6l4.1 0.5M500.8 322.1l1.7 -0.5M497.8 322.3l3.5 -0.9M500.5 325.6l3.8 -1.3M503.8 322.5l3.2 0.6M503.7 320.4l2.8 0.1M501.9 322.2l4.0 -1.3M495.0 321.7l3.6 -0.8M502.3 323.7l2.8 -0.2M498.9 325.3l1.8 -0.3M496.5 325.3l3.2 -0.1M498.3 319.1l3.0 1.3M504.4 323.6l3.1 0.2M497.9 325.4l2.0 0.2M499.9 325.0l3.4 -1.1M500.6 318.9l2.6 0.5M497.1 320.9l1.7 -0.6M504.6 325.0l1.9 -0.1M503.9 324.7l3.2 -0.5M500.1 323.6l1.7 0.5M495.6 323.6l1.8 -0.2M498.6 320.4l2.5 -0.5M502.3 322.6l2.5 0.9M496.8 323.2l2.4 -0.3M497.9 319.9l2.1 -0.1" stroke="#6ab6e0" stroke-opacity="0.27" stroke-width="0.9" stroke-linecap="round" fill="none"/>
<path d="M515.7 310.8L517.2 316.0M516.8 312.5L514.4 321.3M516.6 311.4L516.5 318.9M516.9 312.7L515.4 320.3M515.7 313.9L517.5 320.1M516.5 313.3L518.3 321.3M516.7 311.3L520.0 325.8M515.6 311.5L516.9 319.7M514.5 310.8L515.5 319.2M515.5 311.1L517.7 324.5M516.4 312.8L514.3 322.2M515.7 312.5L513.7 319.1M518.1 312.5L520.5 322.9M514.9 310.7L509.6 324.6M516.3 312.4L519.6 322.1M517.5 311.1L515.0 321.7M516.0 312.6L517.0 317.7M515.0 310.8L512.7 320.5M515.5 312.8L515.0 320.0M515.8 311.6L511.3 324.1M516.4 312.2L513.1 320.2M517.1 311.3L517.7 322.0M518.1 310.7L514.7 322.2M515.3 311.2L514.6 317.2M516.6 312.6L511.2 323.5M515.6 310.9L514.8 324.6M515.9 311.3L515.9 318.6M514.9 310.1L512.0 315.8M515.1 311.0L510.2 323.6M514.6 311.5L516.7 324.9" stroke="#6ab6e0" stroke-opacity="0.35" stroke-width="0.9" stroke-linecap="round" fill="none"/>
<path d="M532.4 307.0Q530.2 309.1 527.4 309.9Q524.5 310.7 521.1 312.3Q517.7 313.9 515.2 311.9Q512.8 309.9 511.9 308.0Q510.9 306.1 511.5 303.6Q512.0 301.2 516.4 301.6Q520.9 302.1 525.4 301.1Q529.9 300.2 532.2 302.5Q534.6 304.9 532.4 307.0Z" fill="#48a6d8" fill-opacity="0.55"/>
<path d="M523.0 303.3l5.4 2.2M524.3 309.4l6.3 2.3M519.7 306.1l3.3 -1.1M514.9 311.9l5.2 -0.3M518.4 309.9l2.9 1.1M515.8 304.5l4.4 -1.5M525.0 303.4l7.2 -0.1M514.8 313.0l6.9 -2.2M516.8 305.2l6.0 1.2M526.0 305.4l4.8 -1.9M514.6 309.3l6.1 -1.1M512.2 305.3l4.9 1.6M509.0 305.4l7.2 -0.4M519.8 310.5l2.9 -0.9M523.6 311.9l7.0 -2.1M517.3 307.6l4.8 -1.9M516.2 303.1l6.2 0.6M525.7 305.3l4.2 0.6M517.2 301.9l5.6 -1.0M526.9 306.0l6.1 1.0M517.2 305.5l7.4 -0.6M520.6 310.2l6.6 1.6M515.9 304.5l4.7 1.1M516.2 311.0l4.0 1.6M524.6 307.6l6.7 -1.1M514.5 307.0l4.5 -2.1M527.9 304.7l3.4 1.1M514.1 304.6l7.0 2.4M517.8 301.1l5.0 0.5M523.0 311.4l3.3 -0.8M525.4 302.1l3.3 1.0M524.1 303.7l3.3 1.1M519.3 312.2l4.1 -1.8M524.5 308.0l7.1 2.0M513.3 310.0l6.2 0.6M521.2 303.4l2.9 -0.2M514.2 306.0l6.5 -2.9M524.9 306.8l4.5 -1.6M521.1 304.0l7.2 -2.7M517.5 303.2l4.9 0.8M520.3 310.3l3.0 0.8M512.3 310.2l7.3 -2.4M515.9 305.3l3.6 -1.3M516.0 310.7l7.5 -1.2M519.6 307.2l7.0 -1.3M525.6 309.2l6.2 -0.2M511.8 305.2l5.2 1.7M514.6 303.4l6.1 2.5M510.8 305.8l6.1 -2.3M522.0 310.3l5.0 -2.2M512.6 303.8l2.9 1.3M522.3 305.6l6.9 0.9M523.2 309.7l4.5 0.5M521.2 305.5l2.7 1.2M515.2 309.9l6.8 -1.7M515.2 302.9l3.5 -1.1M515.8 305.7l6.4 -0.3M527.8 307.1l5.0 2.4M526.1 308.9l6.2 1.7M515.1 310.0l5.5 0.6M523.6 301.1l5.3 1.6M519.7 303.5l6.6 1.6M510.0 307.5l5.4 1.4M524.5 311.3l3.0 0.2M510.9 303.0l7.7 0.8M511.7 311.3l5.1 -1.9M523.9 304.6l6.0 -1.1M520.1 308.8l6.8 2.5M529.4 306.7l3.3 0.1M512.6 309.6l5.8 0.5" stroke="#48a6d8" stroke-opacity="0.45" stroke-width="0.9" stroke-linecap="round" fill="none"/>
<line x1="511" y1="309" x2="528" y2="314" stroke="#48a6d8" stroke-opacity="0.6" stroke-width="1.1" stroke-linecap="round"/>
<path d="M533.6 320.4Q533.3 322.4 529.9 322.7Q526.5 323.0 524.0 324.0Q521.5 324.9 518.9 323.9Q516.2 322.9 516.9 321.1Q517.5 319.4 517.3 317.5Q517.0 315.7 520.2 315.4Q523.4 315.1 526.6 315.1Q529.8 315.1 531.8 316.7Q533.9 318.3 533.6 320.4Z" fill="#6ab6e0" fill-opacity="0.30250000000000005"/>
<path d="M521.9 319.6l3.2 -1.1M524.7 322.6l3.1 0.6M522.7 316.5l4.0 1.2M524.0 323.4l5.7 0.5M520.0 316.5l5.6 -1.8M516.8 317.2l3.0 1.3M518.1 315.6l5.7 1.2M523.0 315.4l4.2 1.1M520.7 319.0l2.7 0.9M522.7 317.4l3.9 0.1M525.9 321.3l2.8 0.2M522.2 316.8l5.4 0.3M522.1 323.1l3.1 -0.6M523.6 316.1l3.2 -0.2M523.9 320.1l3.6 1.2M525.2 321.7l4.9 -0.1M528.4 320.7l5.0 0.1M524.3 320.8l4.8 1.1M517.1 322.1l2.7 -0.1M524.9 316.6l2.6 0.6M520.0 317.5l4.6 1.3M519.3 316.1l3.1 1.0M517.5 316.4l5.4 1.1M523.4 318.2l4.8 0.8M520.8 316.0l3.2 0.6M522.2 316.6l2.5 -0.0M519.5 320.2l4.3 -0.0M518.8 320.2l3.0 0.1M520.0 318.6l4.6 0.9M526.5 323.1l4.3 -1.1M519.2 322.4l3.9 0.2M524.8 319.0l3.5 0.3M518.3 321.0l3.5 -1.1M518.1 316.3l3.7 0.3M521.0 323.7l3.5 0.4M528.1 321.4l5.6 -1.1M516.5 321.6l5.1 -1.3M518.6 320.5l5.0 -1.1M526.8 321.9l3.2 -0.3M517.7 322.4l4.6 1.8M528.8 319.7l3.8 0.4M527.8 319.9l4.4 2.0M523.5 323.3l3.8 -1.1" stroke="#6ab6e0" stroke-opacity="0.24750000000000003" stroke-width="0.9" stroke-linecap="round" fill="none"/>
<path d="M560.4 318.5Q561.5 320.0 560.2 321.9Q558.8 323.8 555.7 324.2Q552.6 324.7 549.1 325.8Q545.5 326.9 545.4 324.7Q545.3 322.6 545.2 321.1Q545.1 319.7 546.1 317.5Q547.2 315.4 550.7 315.4Q554.2 315.5 556.7 316.2Q559.2 316.9 560.4 318.5Z" fill="#6ab6e0" fill-opacity="0.35750000000000004"/>
<path d="M544.9 324.3l5.1 -3.4M550.2 321.6l4.7 -0.0M547.0 319.8l2.7 -1.2M546.2 320.4l4.7 -2.1M553.5 319.3l4.9 0.0M547.4 318.2l5.7 0.7M544.2 322.2l3.6 0.6M543.8 323.0l3.2 0.4M553.3 322.0l2.8 -1.7M552.5 324.2l4.3 0.2M544.2 318.8l3.7 -0.4M547.6 319.8l4.4 -2.5M548.5 318.9l4.5 0.7M556.4 321.1l2.9 0.1M551.0 323.4l5.7 -0.6M542.3 322.5l4.9 -0.1M551.0 323.5l4.9 -2.3M551.7 324.8l2.5 0.1M555.6 318.6l3.6 -0.0M552.8 317.5l3.3 -1.5M544.4 322.4l5.7 -1.7M552.9 320.1l2.9 0.0M548.2 317.9l4.1 -0.0M550.8 325.3l3.2 -1.7M544.0 321.3l2.9 -1.0M555.0 322.9l4.9 -1.4M547.9 318.4l4.0 0.6M547.3 318.5l4.9 -0.4M554.9 319.8l2.5 0.1M555.1 324.8l3.5 -2.3M551.3 320.4l3.6 -0.5M545.3 321.1l4.4 -1.1M545.0 319.9l5.5 -0.6M546.5 323.3l2.6 -1.0M545.3 320.9l4.5 -0.0M553.3 317.3l2.4 0.3M545.0 322.6l5.8 -0.1M548.3 322.6l2.5 0.4M550.0 322.9l4.7 -1.2M554.3 322.7l5.5 0.4M547.3 317.8l5.5 -0.2M556.0 321.9l5.6 -3.0M550.0 325.0l2.2 -1.5M549.5 319.6l4.6 -1.0M548.6 321.7l4.8 -0.2M549.4 325.5l3.0 -1.4M549.7 317.1l5.3 0.6M548.4 319.2l2.5 -0.7" stroke="#6ab6e0" stroke-opacity="0.29250000000000004" stroke-width="0.9" stroke-linecap="round" fill="none"/>
<path d="M544.3 325.9Q543.9 327.4 541.9 328.1Q539.9 328.8 538.0 329.4Q536.1 330.0 533.8 329.5Q531.4 329.0 530.7 327.5Q529.9 326.0 530.9 324.7Q532.0 323.4 533.9 322.3Q535.7 321.2 538.2 321.7Q540.7 322.3 542.7 323.3Q544.7 324.3 544.3 325.9Z" fill="#6ab6e0" fill-opacity="0.30250000000000005"/>
<path d="M537.3 326.7l3.5 0.4M532.8 327.5l2.8 0.7M534.1 328.0l3.9 -0.2M538.6 326.4l3.8 0.6M535.5 328.0l3.0 0.3M536.7 328.7l2.7 -0.7M533.7 326.4l2.0 0.6M533.0 324.2l2.3 -0.6M533.3 323.7l2.3 -0.1M538.8 327.3l3.9 -1.4M534.1 324.0l3.9 -1.4M540.8 326.3l2.1 -0.8M536.2 328.3l2.9 0.1M539.0 327.4l2.2 -0.5M535.3 325.7l2.6 0.5M539.0 324.4l3.9 1.1M538.3 326.4l1.8 0.5M532.7 325.7l1.6 -0.4M537.2 324.4l2.0 0.1M538.9 324.4l4.1 1.2M534.6 327.6l4.2 -0.3M539.0 326.2l3.4 1.3M534.1 324.5l3.2 1.2M535.7 323.9l2.4 1.0M536.6 324.0l2.0 -0.8M534.1 326.4l3.5 0.8" stroke="#6ab6e0" stroke-opacity="0.24750000000000003" stroke-width="0.9" stroke-linecap="round" fill="none"/>
<path d="M552.3 307.6Q550.9 309.0 549.2 309.6Q547.5 310.3 545.3 309.9Q543.2 309.4 542.0 307.5Q540.8 305.7 541.8 304.2Q542.8 302.8 543.9 302.1Q545.0 301.4 546.6 300.5Q548.2 299.7 549.7 301.1Q551.2 302.5 552.5 304.4Q553.7 306.2 552.3 307.6Z" fill="#6ab6e0" fill-opacity="0.33"/>
<path d="M548.3 303.5l2.3 3.2M548.4 304.6l3.6 2.0M546.1 301.9l3.4 1.5M549.0 302.9l3.1 1.1M546.6 301.1l2.9 0.5M542.7 307.7l2.5 0.3M543.6 303.9l2.3 1.1M549.0 307.4l1.3 0.9M542.4 304.7l2.2 0.4M548.3 304.4l1.8 0.8M545.2 304.7l1.3 1.8M542.8 305.2l1.6 1.8M546.6 305.2l2.8 2.2M550.0 302.5l1.6 1.5M543.8 303.6l3.2 0.8M543.8 306.0l3.1 1.8M546.9 308.6l1.3 1.4M544.4 302.7l1.8 2.2M547.9 301.8l2.6 2.1M542.1 303.2l1.9 1.0M546.5 301.8l3.6 0.3M545.8 301.6l2.5 2.8M545.4 306.9l2.7 0.8M544.8 303.6l2.1 2.1M545.4 305.4l2.5 1.9M546.8 308.4l2.8 1.6M546.3 304.6l2.8 1.9M549.0 303.2l2.1 2.5M547.6 305.0l2.4 1.1M548.9 306.9l1.7 1.1M545.5 302.1l2.9 1.5M551.0 304.8l1.1 1.2" stroke="#6ab6e0" stroke-opacity="0.27" stroke-width="0.9" stroke-linecap="round" fill="none"/>
<line x1="546" y1="291" x2="550" y2="295" stroke="#6ab6e0" stroke-opacity="0.5" stroke-width="0.9" stroke-linecap="round"/>
<line x1="462" y1="306" x2="470" y2="316" stroke="#6ab6e0" stroke-opacity="0.4" stroke-width="0.8" stroke-linecap="round"/>
<line x1="455" y1="269" x2="465" y2="272" stroke="#6ab6e0" stroke-opacity="0.3" stroke-width="0.7" stroke-linecap="round"/>
<line x1="465" y1="270" x2="472" y2="274" stroke="#6ab6e0" stroke-opacity="0.25" stroke-width="0.7" stroke-linecap="round"/>
<rect x="455.10" y="359.30" width="93.20" height="75.80" fill="none" stroke="#444" stroke-width="0.8"/>
<text x="456.4" y="444.8" style="font-size:9.2px" fill="#111">cell type</text>
<path d="M497.8 370.1h.2M526.0 390.9h.2M488.2 378.0h.2M522.1 376.2h.2M515.0 385.5h.2M500.7 391.1h.2M514.1 407.8h.2M474.6 413.0h.2M517.9 413.1h.2M536.5 369.7h.2M544.6 367.8h.2M484.5 400.7h.2M525.1 405.7h.2M508.7 404.4h.2M473.9 395.4h.2M560.0 352.7h.2M494.4 393.3h.2M478.7 392.7h.2M502.4 390.7h.2M498.1 376.6h.2M514.3 384.1h.2M473.4 430.8h.2M486.4 386.8h.2M453.8 401.8h.2M474.8 383.2h.2M517.9 404.1h.2M482.4 404.4h.2M510.4 392.7h.2M477.4 403.2h.2M463.2 401.9h.2M500.3 374.1h.2M474.7 437.8h.2M451.1 396.6h.2M492.4 403.3h.2M508.5 411.2h.2M518.2 395.2h.2M467.0 390.4h.2M513.0 404.1h.2M527.8 392.2h.2M471.7 385.7h.2M506.5 411.7h.2M524.2 408.3h.2M470.0 387.8h.2M513.3 400.6h.2M520.7 374.1h.2M515.0 347.9h.2M488.2 396.2h.2M491.6 409.8h.2M494.8 395.3h.2M516.6 380.0h.2M535.9 384.0h.2M514.5 398.7h.2M489.8 396.8h.2M507.5 387.1h.2M552.8 377.8h.2M500.0 414.2h.2M512.2 413.4h.2M463.2 391.0h.2M500.9 416.4h.2M480.3 394.1h.2M545.1 401.5h.2M510.4 393.9h.2M528.5 363.2h.2M480.4 385.4h.2M503.1 395.1h.2M448.9 396.9h.2M479.5 443.1h.2M493.5 413.0h.2M486.7 390.8h.2M479.5 409.4h.2M531.8 373.5h.2M512.4 408.3h.2M533.3 387.0h.2M538.1 376.5h.2M508.6 389.4h.2M496.8 416.4h.2M516.7 447.3h.2M502.1 385.1h.2M532.4 402.2h.2M493.3 420.3h.2M539.2 372.7h.2M495.0 418.2h.2M485.8 426.9h.2M501.0 405.1h.2M508.4 379.3h.2M500.2 386.0h.2M494.0 416.4h.2M520.1 393.9h.2M510.8 423.9h.2M503.3 390.9h.2M521.7 388.2h.2M474.2 429.9h.2M477.0 400.4h.2M514.5 392.3h.2M549.7 431.0h.2M514.2 371.4h.2M513.3 367.7h.2M517.6 412.4h.2M511.6 419.5h.2M508.4 381.7h.2M492.5 416.3h.2M449.3 400.8h.2M470.2 435.5h.2M463.2 355.1h.2M522.2 409.4h.2M480.1 390.3h.2M463.6 389.3h.2M517.1 397.7h.2M495.1 382.3h.2M524.9 425.3h.2M534.6 371.7h.2M504.8 380.9h.2M492.4 403.1h.2M568.4 401.8h.2M502.2 387.5h.2M516.8 367.8h.2M519.9 412.3h.2M479.1 425.0h.2M559.2 383.2h.2M522.4 388.4h.2M485.4 411.6h.2M511.1 374.1h.2M464.7 400.5h.2M466.8 374.0h.2M495.8 388.1h.2M512.0 431.9h.2M470.9 423.0h.2M468.0 397.6h.2M529.0 438.9h.2M460.5 426.9h.2M500.3 399.7h.2M516.4 430.4h.2M563.5 404.3h.2M487.8 383.1h.2M447.4 368.9h.2M528.8 365.9h.2M470.7 385.8h.2M483.7 380.2h.2M475.7 385.2h.2M537.4 408.6h.2M504.9 383.6h.2M504.7 401.1h.2M480.1 375.9h.2M507.7 382.9h.2M481.9 395.1h.2M499.0 377.9h.2M540.9 400.9h.2M496.2 408.4h.2M535.3 395.9h.2M436.7 373.8h.2M498.7 397.7h.2M535.7 404.4h.2M493.7 410.1h.2M485.1 412.8h.2M462.0 423.0h.2M496.8 410.7h.2M495.0 371.0h.2M495.4 396.3h.2M506.7 397.7h.2M511.0 385.7h.2M458.7 387.6h.2M466.4 392.1h.2M493.4 396.5h.2M487.4 406.5h.2M515.2 407.6h.2M510.3 408.9h.2M524.1 397.4h.2M446.8 384.8h.2M540.8 358.0h.2M504.1 385.6h.2M537.9 403.0h.2M494.9 396.4h.2M460.4 431.0h.2M519.6 380.5h.2M487.6 406.2h.2M485.1 381.7h.2M523.1 394.3h.2M512.2 412.9h.2M482.2 424.0h.2M525.6 378.7h.2M470.8 399.0h.2M510.6 384.3h.2M496.3 393.0h.2M494.1 403.5h.2M540.5 429.8h.2M483.4 396.3h.2M488.5 396.0h.2M493.2 420.8h.2M526.4 387.1h.2M536.1 385.4h.2M506.6 407.3h.2M494.5 384.3h.2M511.3 411.3h.2M499.8 428.1h.2M520.7 388.1h.2M521.2 392.1h.2M514.6 409.0h.2M516.1 424.7h.2M508.4 406.2h.2M496.5 371.5h.2M489.4 399.3h.2M440.2 402.5h.2M512.3 416.1h.2M511.9 415.9h.2M502.4 389.1h.2M515.3 378.6h.2M534.6 376.3h.2M537.3 386.4h.2M489.8 377.7h.2M496.1 397.8h.2M464.9 365.5h.2M500.1 369.9h.2M515.8 415.6h.2M487.5 450.5h.2M499.8 376.7h.2M545.8 403.3h.2M487.7 394.4h.2M534.4 423.1h.2M499.7 376.9h.2M487.1 407.2h.2" stroke="#6ab6e0" stroke-opacity="0.13" stroke-width="0.7" stroke-linecap="round" fill="none"/>
<path d="M517.6 371.6Q518.2 373.5 516.0 374.3Q513.8 375.1 512.4 375.8Q511.0 376.6 509.7 375.7Q508.5 374.8 506.9 374.0Q505.4 373.3 506.6 372.2Q507.8 371.1 508.5 369.9Q509.2 368.7 510.9 368.8Q512.7 368.9 514.9 369.4Q517.1 369.8 517.6 371.6Z" fill="#6ab6e0" fill-opacity="0.5225"/>
<path d="M512.7 374.6l2.2 0.5M512.4 373.9l2.0 -0.5M509.8 369.3l2.0 -0.9M508.2 370.8l2.8 -0.3M514.4 370.9l1.6 0.4M512.4 373.5l3.1 1.2M512.0 371.0l2.1 -0.0M507.7 371.0l1.5 -0.5M509.8 371.1l2.9 -0.2M510.6 370.8l1.5 -0.3M509.6 374.5l2.2 0.5M508.9 374.8l1.7 0.7M510.4 374.8l1.6 0.5M510.5 371.5l1.9 -0.6M508.0 373.4l2.2 -0.5M508.1 369.3l2.1 0.4M513.1 372.0l2.9 -1.3M513.9 374.6l2.5 -0.7M511.4 371.8l3.2 1.4M511.2 371.6l3.3 1.3M513.7 372.6l3.7 0.7M510.3 370.5l2.0 0.7M510.4 370.8l2.9 -0.7M508.3 373.1l2.7 -1.1M506.1 370.5l3.8 0.7M511.7 370.6l3.5 -0.9M509.3 369.1l2.8 -0.3" stroke="#6ab6e0" stroke-opacity="0.4275" stroke-width="0.9" stroke-linecap="round" fill="none"/>
<path d="M539.9 373.5Q537.9 374.8 536.7 375.6Q535.6 376.4 533.2 377.4Q530.8 378.3 527.8 377.7Q524.8 377.0 523.9 375.7Q523.0 374.4 523.9 373.1Q524.8 371.9 527.4 371.3Q530.0 370.8 532.5 371.1Q535.1 371.3 538.5 371.8Q541.9 372.2 539.9 373.5Z" fill="#6ab6e0" fill-opacity="0.35750000000000004"/>
<path d="M525.9 371.5l2.5 1.1M530.0 375.3l4.6 0.0M524.0 371.9l5.7 0.5M532.6 376.5l2.5 0.4M530.3 376.9l2.6 0.1M533.0 375.8l3.5 1.5M525.7 371.8l4.6 0.1M526.0 371.7l5.1 0.6M530.6 371.2l5.4 -0.2M532.5 374.2l4.6 -0.0M526.9 375.5l3.4 -0.2M529.5 372.3l2.3 0.9M530.8 372.6l3.2 -0.3M533.8 376.5l3.8 -1.8M529.2 374.1l4.4 -1.0M532.2 372.4l2.8 -0.5M534.4 374.5l4.0 1.8M535.5 373.0l5.4 0.9M529.8 372.5l5.1 1.0M530.8 371.0l4.0 1.7M533.8 375.5l3.9 0.8M527.1 371.9l4.0 0.6M528.9 371.8l5.0 -1.6M527.0 375.0l4.6 -1.0M527.3 373.6l2.2 0.9M529.4 375.7l4.3 -0.5M526.9 376.5l4.0 0.5M527.1 375.4l3.4 1.3M537.3 373.3l2.3 -0.1M528.8 371.8l3.4 -1.3M525.6 376.3l2.5 -0.2M530.9 373.8l2.8 1.2M527.8 375.1l3.9 1.8" stroke="#6ab6e0" stroke-opacity="0.29250000000000004" stroke-width="0.9" stroke-linecap="round" fill="none"/>
<path d="M537.3 381.5Q536.8 383.0 535.8 384.3Q534.7 385.5 532.8 386.9Q530.8 388.2 528.2 388.4Q525.6 388.6 526.1 386.9Q526.6 385.2 526.6 384.2Q526.6 383.2 527.9 382.0Q529.2 380.8 531.7 379.6Q534.2 378.5 536.0 379.3Q537.7 380.0 537.3 381.5Z" fill="#6ab6e0" fill-opacity="0.49500000000000005"/>
<path d="M527.1 384.4l3.7 -2.2M529.1 380.4l4.4 0.2M531.1 384.8l2.4 -1.8M532.8 381.5l3.7 -1.8M526.1 385.6l3.4 0.2M531.3 386.6l2.5 -2.5M531.1 381.8l1.7 -1.5M524.8 384.9l3.8 -2.2M527.2 384.1l3.0 -1.3M532.4 383.4l3.9 -0.3M533.3 381.3l3.8 -0.1M526.8 384.1l3.6 -2.4M531.2 382.8l2.5 -2.1M530.4 380.7l3.3 -0.5M528.8 382.8l2.9 -1.9M526.7 385.1l4.6 -0.7M525.6 385.6l2.4 -0.3M526.3 388.0l3.5 -3.0M534.9 384.5l2.8 -1.6M527.5 385.4l2.1 -0.6M526.7 383.1l3.3 -1.7M530.6 381.1l3.8 0.1M531.6 385.2l2.9 -0.4M531.8 385.6l3.5 -1.1M526.3 383.7l2.7 -1.6M533.2 383.7l3.0 -1.3M524.5 383.9l3.2 -1.3M528.7 384.5l1.7 -1.6M526.2 384.6l2.1 -1.5" stroke="#6ab6e0" stroke-opacity="0.405" stroke-width="0.9" stroke-linecap="round" fill="none"/>
<path d="M485.9 398.3Q487.5 400.6 485.5 401.3Q483.6 402.1 478.9 400.0Q474.1 398.0 471.5 395.6Q468.8 393.2 467.3 391.6Q465.7 390.0 464.7 388.1Q463.7 386.3 467.1 387.1Q470.4 387.9 474.5 389.4Q478.6 390.9 481.5 393.5Q484.4 396.1 485.9 398.3Z" fill="#6ab6e0" fill-opacity="0.385"/>
<path d="M479.2 395.4l7.7 3.9M471.8 390.1l5.9 2.4M468.7 389.0l3.8 3.2M472.5 394.4l4.6 0.4M462.3 390.0l7.9 2.1M465.7 390.2l8.5 0.8M480.1 395.3l4.1 3.0M469.4 387.4l5.9 6.2M474.9 396.1l4.0 2.0M469.3 392.1l6.8 3.2M473.4 393.3l7.5 3.9M477.0 395.5l6.1 5.7M469.8 391.4l4.9 2.6M463.2 389.4l5.7 1.1M478.0 394.0l3.6 4.3M473.1 393.0l7.1 0.8M468.2 391.4l2.8 2.9M465.4 391.1l6.6 3.0M465.0 386.7l5.1 3.7M474.0 394.6l3.4 2.5M469.2 393.6l5.4 3.2M476.7 392.1l2.1 2.6M468.4 393.9l4.2 1.1M471.7 393.9l7.1 3.7M474.3 394.5l3.8 2.1M480.2 394.9l6.0 3.8M470.9 392.9l5.4 2.3M473.9 391.5l4.2 3.2M472.4 396.6l5.4 1.2M474.3 397.3l6.6 1.4M474.1 393.9l6.2 1.2M476.5 394.4l3.4 3.2M465.6 390.0l3.3 0.6M474.3 391.3l4.7 2.6M471.4 389.4l5.4 4.2M469.9 391.1l7.5 0.7M467.5 393.6l7.7 2.1M471.7 389.9l5.6 0.7M468.1 390.0l8.0 2.2M474.3 391.8l3.3 1.6M474.1 392.0l8.3 2.4M462.7 385.9l6.3 4.0M471.3 391.3l4.4 5.8M479.3 394.2l4.4 0.9M469.7 392.8l5.1 3.3M471.9 390.2l2.8 3.1M477.9 394.7l5.0 4.3M469.9 391.2l5.3 2.8" stroke="#6ab6e0" stroke-opacity="0.315" stroke-width="0.9" stroke-linecap="round" fill="none"/>
<path d="M528.0 400.1Q529.1 401.7 527.8 403.4Q526.6 405.1 523.2 405.3Q519.9 405.5 516.2 406.0Q512.4 406.4 510.2 404.7Q508.0 403.0 510.6 401.6Q513.2 400.1 514.3 398.9Q515.3 397.6 517.9 398.0Q520.5 398.4 523.7 398.4Q526.9 398.5 528.0 400.1Z" fill="#6ab6e0" fill-opacity="0.49500000000000005"/>
<path d="M513.7 399.8l4.0 0.2M514.7 398.1l5.7 -0.4M521.2 399.6l2.6 0.8M512.6 398.7l5.1 -1.1M519.0 398.3l4.1 -0.5M519.8 400.7l2.6 -0.6M516.4 399.7l4.8 0.3M518.2 402.9l2.5 0.2M514.0 400.0l2.9 -0.6M513.2 398.6l5.5 0.7M524.8 401.5l3.0 -0.4M520.3 401.8l2.7 -0.5M521.6 400.0l5.9 -0.5M516.0 403.3l2.9 -0.6M519.6 402.2l3.8 1.1M521.9 402.4l2.7 1.1M510.1 403.3l5.9 0.5M515.2 402.0l5.7 -0.2M516.2 404.2l2.4 -0.1M510.7 401.5l4.8 1.5M510.6 400.8l2.6 0.3M511.6 403.4l5.3 -0.2M518.9 402.1l2.4 -1.0M513.1 402.7l5.4 -0.6M516.8 401.8l2.7 -0.5M515.5 399.7l3.4 -0.4M514.4 398.7l5.8 0.9M521.5 402.2l5.5 -1.1M510.0 402.1l2.5 -0.2M511.0 401.3l5.4 -2.5M521.3 401.2l3.0 -0.9M519.9 404.7l4.9 -1.7M516.1 398.9l2.5 -0.6M521.3 400.9l2.8 1.0M514.6 397.1l5.5 1.1M523.0 402.2l2.8 0.5M516.3 400.7l4.2 1.8M515.4 401.4l4.3 -0.0M523.0 400.4l5.1 -1.9M514.3 402.6l5.3 1.7M522.2 400.3l2.7 0.9M512.7 402.7l4.8 -1.4M519.0 401.9l4.8 1.1M523.3 400.6l4.1 0.6" stroke="#6ab6e0" stroke-opacity="0.405" stroke-width="0.9" stroke-linecap="round" fill="none"/>
<path d="M484.1 411.6Q483.8 413.1 481.8 412.9Q479.8 412.7 477.9 412.9Q475.9 413.1 474.8 411.6Q473.6 410.1 472.8 408.3Q472.0 406.6 474.0 406.0Q475.9 405.3 477.7 405.9Q479.4 406.5 481.6 406.7Q483.8 406.9 484.1 408.6Q484.3 410.2 484.1 411.6Z" fill="#6ab6e0" fill-opacity="0.385"/>
<path d="M476.8 409.5l2.5 2.4M478.8 409.1l2.4 1.5M476.7 406.9l2.4 -0.0M478.3 406.3l1.3 0.9M478.5 409.6l2.2 0.1M479.6 410.5l3.2 0.4M476.6 410.8l3.1 1.5M476.4 412.7l2.6 0.3M480.0 406.7l1.4 0.9M480.4 408.2l4.3 0.4M478.4 406.4l1.2 1.1M474.9 406.0l3.6 0.8M478.9 411.2l2.1 1.7M481.6 411.9l1.6 1.4M478.0 409.9l2.7 2.2M481.8 410.9l1.7 0.5M478.5 405.7l2.2 0.5M480.3 409.5l2.8 0.7M477.4 411.6l3.8 -0.3M472.8 409.1l3.2 1.8M474.6 410.4l3.6 1.5M476.3 407.2l2.4 0.4M472.4 407.8l2.8 1.4M475.1 410.4l2.2 0.9M476.7 408.5l3.1 0.7M474.0 410.5l2.3 1.4M477.9 408.4l1.8 0.2M476.4 411.8l3.2 0.2M480.3 406.7l2.1 1.9M476.9 408.6l4.1 0.4" stroke="#6ab6e0" stroke-opacity="0.315" stroke-width="0.9" stroke-linecap="round" fill="none"/>
<path d="M519.3 412.4Q520.9 414.1 517.6 415.1Q514.2 416.0 511.4 416.7Q508.6 417.3 506.2 416.4Q503.8 415.4 500.8 414.2Q497.9 413.1 499.7 411.5Q501.6 409.9 504.3 409.0Q507.0 408.1 509.7 408.7Q512.4 409.4 515.1 410.0Q517.8 410.7 519.3 412.4Z" fill="#6ab6e0" fill-opacity="0.35750000000000004"/>
<path d="M503.3 413.5l5.9 0.1M509.6 411.6l3.3 -0.5M505.5 413.2l4.4 1.3M508.1 412.0l2.7 -0.4M505.4 417.0l3.5 -0.8M503.6 410.9l3.3 -0.7M505.4 416.4l5.3 -0.2M500.2 412.1l6.1 -2.4M504.2 414.6l3.8 -1.2M500.1 410.8l3.1 0.9M509.0 409.3l5.3 1.5M505.1 413.6l5.6 1.8M511.5 413.6l5.6 1.3M509.9 410.9l5.9 0.9M508.2 411.8l6.1 -0.9M503.0 414.4l5.1 -0.7M505.2 413.1l5.6 1.4M512.0 411.9l4.9 -1.1M506.6 415.5l2.4 -1.0M503.2 412.5l4.8 2.0M505.8 415.1l4.7 1.3M512.6 411.1l3.9 -0.1M506.4 409.9l2.7 -0.7M513.8 411.4l2.7 -0.8M506.6 410.0l3.6 0.1M505.9 411.0l6.4 -0.8M509.9 415.6l6.0 -2.4M500.7 413.1l3.1 -0.6M512.7 413.2l2.7 0.3M508.9 409.0l3.9 1.4M506.6 413.7l6.6 -0.2M500.3 413.9l4.8 0.6M511.9 409.9l3.6 1.6M509.3 412.9l5.2 2.0M512.5 412.9l3.5 0.4M507.5 410.6l4.1 1.7M500.1 409.1l5.2 2.3M501.1 412.7l4.3 0.5M506.4 415.8l2.7 0.5M512.5 414.3l4.6 1.1M509.9 415.4l4.7 -2.0M509.4 410.3l5.2 -1.0M499.9 411.3l3.9 -0.3M504.9 414.1l5.9 1.0M504.3 411.9l3.5 0.8M510.7 412.4l2.8 -0.4M501.1 410.8l6.7 -1.3M510.2 408.9l3.0 0.2M515.3 412.1l4.8 0.7" stroke="#6ab6e0" stroke-opacity="0.29250000000000004" stroke-width="0.9" stroke-linecap="round" fill="none"/>
<path d="M545.0 410.9Q542.9 412.4 543.7 413.6Q544.5 414.8 540.9 415.3Q537.2 415.8 533.6 416.0Q529.9 416.2 528.8 415.1Q527.8 414.0 528.1 412.9Q528.4 411.8 530.8 411.0Q533.2 410.1 536.3 409.7Q539.5 409.3 543.3 409.4Q547.0 409.5 545.0 410.9Z" fill="#6ab6e0" fill-opacity="0.35750000000000004"/>
<path d="M540.6 411.6l6.6 -0.8M531.4 410.7l6.7 0.6M538.0 413.5l3.6 -0.2M528.9 412.4l5.3 -0.1M539.3 411.4l6.8 0.7M533.1 410.0l5.2 0.1M538.7 414.2l3.5 -1.4M530.2 414.8l3.7 -0.7M533.8 412.8l3.0 0.3M530.0 414.8l3.1 0.7M530.2 415.7l5.7 -1.8M533.2 412.3l6.2 -2.7M540.6 410.1l3.9 0.5M531.2 412.2l3.7 -0.4M529.0 412.1l5.1 0.6M531.8 415.2l4.8 -2.2M530.5 416.2l3.7 -1.9M529.8 411.8l3.4 0.2M534.5 416.1l3.9 -1.5M540.6 413.0l3.5 -1.4M543.1 412.1l4.0 -0.9M528.5 414.7l3.0 -0.1M532.4 417.0l5.9 -3.1M529.4 411.2l4.3 -0.5M528.2 412.9l4.4 -2.3M530.8 412.2l2.8 -0.7M534.7 410.9l3.2 -1.7M530.6 412.0l4.3 -2.1M527.2 413.6l4.7 0.3M530.2 412.1l3.9 1.0M532.3 413.8l6.7 -0.7M540.4 412.3l3.1 -1.7M539.4 410.8l3.6 1.2M540.5 412.0l3.1 1.1M537.2 414.3l5.8 -2.7" stroke="#6ab6e0" stroke-opacity="0.29250000000000004" stroke-width="0.9" stroke-linecap="round" fill="none"/>
<path d="M490.8 416.0Q492.7 416.5 491.8 417.8Q490.8 419.1 488.6 420.2Q486.4 421.3 484.5 420.6Q482.5 419.9 480.0 419.8Q477.4 419.7 479.0 418.4Q480.6 417.1 481.6 416.2Q482.6 415.3 484.5 415.1Q486.4 414.9 487.7 415.2Q488.9 415.5 490.8 416.0Z" fill="#6ab6e0" fill-opacity="0.385"/>
<path d="M485.7 414.6l2.5 0.5M484.2 420.7l2.1 -1.3M482.0 419.3l4.2 -1.5M481.3 418.3l2.7 -1.2M484.8 417.9l4.6 1.1M484.0 416.4l2.5 -1.3M486.6 417.7l3.7 -0.8M482.7 417.1l2.6 -0.7M487.1 419.4l3.1 -0.4M482.5 415.9l4.3 -0.5M484.0 415.0l3.8 0.3M482.6 414.9l4.2 0.7M484.1 415.4l4.5 -1.2M482.2 418.1l2.9 -0.3M480.2 418.2l2.5 -0.4M479.0 416.8l4.5 -0.8M480.6 419.8l3.3 -2.1M487.1 417.3l2.5 -0.2M486.0 417.6l3.6 -2.5M489.4 415.3l2.4 0.4M480.6 416.3l4.0 -1.1M479.8 417.1l1.8 -1.0M480.1 419.3l3.9 -2.3M482.9 420.3l2.4 -0.5M484.5 416.7l3.6 0.8M481.1 415.9l2.8 -0.6M483.6 416.2l1.8 -0.6" stroke="#6ab6e0" stroke-opacity="0.315" stroke-width="0.9" stroke-linecap="round" fill="none"/>
<line x1="462" y1="379" x2="464" y2="382" stroke="#6ab6e0" stroke-opacity="0.5" stroke-width="0.8" stroke-linecap="round"/>
<path d="M505.4 385.7Q505.2 387.4 504.2 388.6Q503.1 389.9 501.4 391.5Q499.6 393.1 496.3 392.8Q492.9 392.6 492.2 390.4Q491.5 388.2 492.8 386.8Q494.1 385.4 494.6 383.3Q495.1 381.1 498.5 380.7Q501.9 380.2 503.8 382.1Q505.7 384.0 505.4 385.7Z" fill="#f47b3e" fill-opacity="0.7"/>
<path d="M502.7 381.2Q502.8 382.6 501.8 384.1Q500.7 385.7 498.2 385.2Q495.8 384.8 494.4 383.9Q493.1 383.0 492.6 382.0Q492.1 380.9 492.3 379.6Q492.5 378.3 494.5 378.3Q496.4 378.3 498.8 377.5Q501.1 376.6 501.8 378.2Q502.5 379.8 502.7 381.2Z" fill="#f9b488" fill-opacity="0.6"/>
<path d="M499.0 388.0Q504.1 384.0 499.0 380.0Q493.9 384.0 499.0 388.0Z" fill="#f47b3e" fill-opacity="0.55"/>
<path d="M499.0 388.0Q501.6 382.8 496.3 380.5Q493.6 385.7 499.0 388.0Z" fill="#f47b3e" fill-opacity="0.55"/>
<path d="M499.0 388.0Q504.4 385.7 501.7 380.5Q496.4 382.8 499.0 388.0Z" fill="#f47b3e" fill-opacity="0.55"/>
<path d="M499.0 388.0Q496.4 382.6 490.3 383.0Q493.0 388.4 499.0 388.0Z" fill="#f47b3e" fill-opacity="0.55"/>
<path d="M499.0 388.0Q494.5 384.3 490.0 388.0Q494.5 391.7 499.0 388.0Z" fill="#f47b3e" fill-opacity="0.55"/>
<path d="M499.0 388.0Q494.5 386.0 492.4 390.4Q496.9 392.4 499.0 388.0Z" fill="#f47b3e" fill-opacity="0.55"/>
<path d="M499.0 388.0Q495.4 389.9 496.9 393.6Q500.5 391.7 499.0 388.0Z" fill="#f47b3e" fill-opacity="0.55"/>
<path d="M499.0 388.0Q496.6 392.0 500.2 394.9Q502.6 390.9 499.0 388.0Z" fill="#f47b3e" fill-opacity="0.55"/>
<path d="M499.0 388.0Q499.5 392.0 503.6 391.9Q503.0 387.8 499.0 388.0Z" fill="#f47b3e" fill-opacity="0.55"/>
<path d="M499.0 388.0Q504.4 389.7 507.5 384.9Q502.1 383.3 499.0 388.0Z" fill="#f47b3e" fill-opacity="0.55"/>
<path d="M487.0 383.2Q487.7 384.0 488.0 385.5Q488.2 386.9 486.0 387.0Q483.8 387.1 481.8 387.3Q479.9 387.5 478.0 386.5Q476.0 385.6 476.4 384.0Q476.8 382.5 478.1 381.2Q479.4 379.9 481.6 380.7Q483.7 381.6 484.9 381.9Q486.2 382.3 487.0 383.2Z" fill="#f9b488" fill-opacity="0.7"/>
<path d="M505.1 381.1Q504.5 382.3 505.1 384.0Q505.7 385.7 503.0 386.0Q500.4 386.3 498.2 385.7Q496.0 385.1 494.6 384.0Q493.1 382.9 493.6 381.6Q494.1 380.2 495.6 379.0Q497.1 377.8 499.8 377.4Q502.6 376.9 504.2 378.3Q505.7 379.8 505.1 381.1Z" fill="#f9b488" fill-opacity="0.5"/>
<path d="M504 392 L516 381 L527 367 L531 371 L522 384 L510 393Z" fill="#f47b3e" fill-opacity="0.72"/>
<path d="M508.0 389.0Q516.0 393.4 525.0 395.0Q517.0 390.6 508.0 389.0Z" fill="#f47b3e" fill-opacity="0.5"/>
<path d="M539.3 397.7Q539.6 398.9 538.8 399.6Q538.1 400.4 537.4 401.4Q536.7 402.4 535.7 401.9Q534.7 401.3 534.1 400.1Q533.6 398.9 533.9 397.6Q534.2 396.3 534.8 394.8Q535.4 393.4 536.6 393.7Q537.9 394.0 538.5 395.2Q539.1 396.4 539.3 397.7Z" fill="#f47b3e" fill-opacity="0.75"/>
<path d="M514.9 407.9Q514.9 408.9 514.0 409.7Q513.1 410.6 511.6 410.9Q510.1 411.2 508.8 410.5Q507.6 409.8 507.9 408.8Q508.2 407.8 508.6 407.1Q509.0 406.5 509.8 406.2Q510.6 405.8 511.9 405.4Q513.3 405.0 514.1 405.9Q514.8 406.9 514.9 407.9Z" fill="#f47b3e" fill-opacity="0.6"/>
<path d="M493.4 422.0Q496.1 419.0 493.4 416.0Q490.7 419.0 493.4 422.0Z" fill="#f47b3e" fill-opacity="0.55"/>
<path d="M493.4 422.0Q492.1 418.3 488.2 419.0Q489.5 422.7 493.4 422.0Z" fill="#f47b3e" fill-opacity="0.55"/>
<path d="M493.4 422.0Q497.3 422.7 498.6 419.0Q494.7 418.3 493.4 422.0Z" fill="#f47b3e" fill-opacity="0.55"/>
<path d="M493.4 422.0Q490.8 424.5 493.4 427.0Q495.9 424.5 493.4 422.0Z" fill="#f47b3e" fill-opacity="0.55"/>
<path d="M493.4 422.0Q490.3 420.8 488.7 423.7Q491.8 424.9 493.4 422.0Z" fill="#f47b3e" fill-opacity="0.55"/>
<path d="M493.4 422.0Q495.0 424.9 498.1 423.7Q496.5 420.8 493.4 422.0Z" fill="#f47b3e" fill-opacity="0.55"/>
<path d="M465.8 402.7Q465.0 403.4 464.6 403.8Q464.2 404.2 463.5 404.4Q462.7 404.7 461.6 404.6Q460.6 404.4 460.0 403.8Q459.5 403.1 460.2 402.6Q460.8 402.0 461.5 401.5Q462.2 400.9 463.4 401.0Q464.6 401.0 465.5 401.5Q466.5 402.0 465.8 402.7Z" fill="#f47b3e" fill-opacity="0.55"/>
<line x1="480" y1="373" x2="490" y2="386" stroke="#f47b3e" stroke-opacity="0.5" stroke-width="0.8" stroke-linecap="round"/>
<path d="M496.2 373.8Q496.6 374.6 495.9 375.1Q495.1 375.7 494.2 375.7Q493.3 375.8 492.2 375.9Q491.0 376.1 490.8 375.2Q490.6 374.4 490.9 373.8Q491.3 373.1 491.9 372.6Q492.5 372.1 493.6 372.0Q494.6 371.9 495.3 372.5Q495.9 373.1 496.2 373.8Z" fill="#1f9e5a" fill-opacity="0.9"/>
<path d="M498.4 361.9Q498.7 362.4 498.1 362.7Q497.5 363.0 497.0 363.0Q496.5 363.0 495.8 363.1Q495.1 363.2 494.8 362.7Q494.6 362.1 495.0 361.7Q495.3 361.3 495.8 361.2Q496.3 361.2 496.9 360.8Q497.5 360.4 497.8 360.9Q498.0 361.5 498.4 361.9Z" fill="#1f9e5a" fill-opacity="0.6"/>
<text x="636.6" y="423.3" style="font-size:9.1px" fill="#111">ventricular</text>
<path d="M633.7 378.5h.2M593.2 397.0h.2M634.6 357.0h.2M604.7 355.3h.2M578.0 413.4h.2M605.3 391.4h.2M624.0 379.2h.2M585.8 357.8h.2M627.4 400.6h.2M563.5 359.2h.2M609.3 398.9h.2M630.1 394.2h.2M621.8 358.9h.2M611.2 403.3h.2M619.9 353.5h.2M654.6 387.2h.2M635.4 417.4h.2M599.7 364.4h.2M544.8 380.9h.2M632.0 377.5h.2M615.4 396.7h.2M626.8 386.2h.2M613.0 377.1h.2M644.1 376.1h.2M603.2 367.0h.2M611.6 381.8h.2M629.3 380.6h.2M605.7 345.4h.2M632.3 358.1h.2M610.5 401.8h.2M622.0 361.7h.2M634.7 372.6h.2M601.5 402.9h.2M634.0 441.8h.2M584.7 378.2h.2M627.3 404.6h.2M608.0 409.9h.2M619.8 363.8h.2M611.3 377.7h.2M612.2 366.7h.2M610.0 398.2h.2M640.8 416.7h.2M592.7 357.8h.2M675.2 386.5h.2M627.4 361.7h.2M627.3 380.0h.2M616.8 402.5h.2M593.5 381.8h.2M566.7 387.2h.2M584.6 414.5h.2M577.7 410.7h.2M592.0 346.0h.2M621.3 382.7h.2M588.5 352.8h.2M548.1 371.3h.2M624.6 337.4h.2M618.7 410.1h.2M565.6 389.3h.2M630.4 365.7h.2M624.1 355.9h.2M627.6 410.3h.2M605.4 365.5h.2M558.6 415.4h.2M667.4 368.0h.2M617.5 376.1h.2M653.1 346.6h.2M633.9 332.9h.2M633.3 363.1h.2M651.6 389.0h.2M597.9 363.3h.2M581.5 411.6h.2M644.8 365.9h.2M577.7 387.9h.2M615.4 368.3h.2M618.2 391.3h.2M614.3 390.5h.2M614.9 383.4h.2M599.8 393.9h.2M619.4 371.9h.2M620.3 373.4h.2M609.7 388.5h.2M639.4 345.4h.2M609.7 379.6h.2M583.6 386.7h.2M608.3 367.3h.2M565.5 349.1h.2M617.6 413.9h.2M603.3 336.1h.2M649.7 381.5h.2M647.8 365.4h.2M639.2 385.0h.2M580.0 370.9h.2M618.5 360.4h.2M648.4 370.0h.2M639.8 373.2h.2M633.3 389.4h.2M561.7 373.1h.2M635.6 371.3h.2M657.6 404.2h.2M593.5 381.8h.2M631.0 364.9h.2M662.3 394.4h.2M618.1 362.8h.2M591.6 363.6h.2M637.7 361.1h.2M640.7 425.1h.2M577.9 365.6h.2M646.9 384.1h.2M591.2 377.1h.2M614.3 393.1h.2M590.9 372.8h.2M611.5 385.3h.2M609.1 348.7h.2M578.4 402.6h.2M601.8 380.3h.2M616.1 385.8h.2M653.5 379.1h.2M637.7 388.6h.2M622.8 356.2h.2M602.9 397.0h.2M606.7 371.3h.2M607.6 354.2h.2M592.3 382.2h.2M590.6 352.7h.2M635.4 394.6h.2M613.4 358.2h.2M642.8 386.6h.2M571.1 359.1h.2M574.4 336.6h.2M650.3 406.3h.2M555.0 388.2h.2M609.3 382.3h.2M636.4 393.7h.2M613.3 365.5h.2M630.7 412.0h.2M577.1 361.4h.2M607.8 359.2h.2M601.5 394.4h.2M623.5 373.0h.2M612.1 361.4h.2M633.7 366.0h.2M581.9 365.3h.2M612.1 405.7h.2M611.0 367.5h.2M671.8 375.4h.2M648.9 385.5h.2M630.7 353.7h.2M622.3 366.3h.2M580.6 383.1h.2M606.7 377.6h.2M638.9 330.9h.2M618.8 343.7h.2M563.0 374.0h.2M596.3 328.8h.2M606.2 377.2h.2M643.2 394.0h.2M607.6 343.2h.2M603.5 382.4h.2M628.1 392.8h.2M614.3 382.6h.2M596.0 368.1h.2M625.9 393.3h.2M578.0 366.4h.2M605.4 388.5h.2M612.3 424.8h.2M617.3 362.5h.2M607.6 366.3h.2M609.4 382.8h.2M653.9 404.2h.2M629.0 356.1h.2M626.6 361.2h.2M610.3 386.0h.2M612.2 418.1h.2M614.0 370.0h.2M606.5 395.3h.2M568.0 367.1h.2M581.5 370.3h.2M563.3 369.6h.2M636.0 360.1h.2M640.6 361.1h.2M605.7 351.8h.2M625.6 384.4h.2M614.9 393.2h.2M597.8 411.0h.2M615.8 359.4h.2M603.2 374.3h.2M578.3 354.4h.2M656.5 385.7h.2M639.5 422.9h.2M632.1 361.2h.2M637.0 363.0h.2M646.2 390.1h.2M646.3 360.8h.2M565.6 384.0h.2M635.4 378.8h.2M603.9 370.5h.2M602.7 388.9h.2M575.4 371.8h.2M630.9 377.0h.2M599.9 368.7h.2M625.2 391.9h.2M571.3 419.8h.2M623.7 376.1h.2M582.6 361.7h.2M634.0 384.6h.2M560.8 357.7h.2M606.8 356.2h.2M662.7 398.2h.2M599.1 344.6h.2M614.9 367.8h.2M598.7 352.2h.2M630.0 374.5h.2M642.9 391.5h.2M599.7 378.0h.2M592.9 377.7h.2M584.0 388.5h.2M552.6 382.1h.2M610.4 389.9h.2M585.2 378.7h.2M628.8 373.8h.2M615.7 375.0h.2M600.0 366.0h.2M571.4 380.3h.2M612.5 406.6h.2M589.9 406.9h.2M643.1 331.6h.2M610.9 402.4h.2M611.9 390.6h.2M639.5 361.8h.2M624.7 374.0h.2M647.5 328.9h.2M602.8 354.3h.2M608.4 384.3h.2M619.6 374.8h.2M636.7 361.2h.2M637.3 378.1h.2M578.7 381.0h.2M622.5 378.6h.2M579.7 376.3h.2M669.6 414.0h.2M588.1 372.8h.2M598.4 347.9h.2M571.8 373.6h.2M646.2 394.2h.2M646.6 414.3h.2M594.0 371.5h.2M568.9 369.2h.2M622.0 398.1h.2M580.3 362.5h.2M605.6 370.4h.2M567.2 386.2h.2M600.6 367.6h.2M592.2 372.0h.2M594.2 372.1h.2M645.1 373.9h.2M622.7 375.9h.2M571.6 338.8h.2M626.1 360.6h.2M605.2 361.5h.2M575.6 402.1h.2M686.8 402.7h.2M577.5 366.7h.2M621.0 353.1h.2M606.1 381.6h.2M663.0 344.4h.2M614.5 353.1h.2M549.2 388.7h.2M559.0 369.0h.2M633.3 379.2h.2M603.7 397.1h.2M599.3 362.6h.2M648.9 378.6h.2M590.9 352.8h.2M598.2 397.6h.2M597.9 379.1h.2M653.1 404.9h.2M574.9 401.0h.2M542.6 388.4h.2M575.1 362.4h.2M597.5 363.0h.2M612.1 367.5h.2M663.2 371.2h.2M583.9 379.5h.2M592.9 376.1h.2M599.0 377.1h.2M622.5 394.0h.2M650.4 390.5h.2M609.9 365.2h.2M582.2 405.3h.2M600.7 369.4h.2M617.8 392.4h.2M656.2 387.5h.2M579.1 387.3h.2M607.0 364.7h.2M641.1 373.2h.2M611.9 392.1h.2M626.1 387.7h.2M620.3 365.3h.2M598.0 374.0h.2M613.2 395.3h.2M575.2 378.8h.2M544.8 400.6h.2M634.1 364.1h.2M599.2 373.8h.2M588.0 379.5h.2M635.4 354.2h.2M613.0 358.1h.2M651.7 344.7h.2M598.4 381.1h.2M615.6 364.1h.2M624.6 368.3h.2M630.9 350.4h.2M598.2 399.2h.2M654.3 407.0h.2M587.2 433.6h.2M618.1 423.8h.2M632.0 355.0h.2M629.8 373.6h.2M626.7 366.9h.2M621.7 382.2h.2" stroke="#f47b3e" stroke-opacity="0.11" stroke-width="0.7" stroke-linecap="round" fill="none"/>
<path d="M633.0 368.9Q630.3 372.8 627.0 376.1Q623.8 379.3 618.0 379.2Q612.2 379.0 608.0 376.5Q603.8 374.0 601.9 370.3Q599.9 366.5 603.3 363.4Q606.8 360.2 611.6 360.4Q616.5 360.7 621.5 359.8Q626.6 359.0 631.2 362.0Q635.8 364.9 633.0 368.9Z" fill="#f9b488" fill-opacity="0.35"/>
<path d="M607.0 366.4Q607.7 368.0 607.0 369.7Q606.3 371.4 604.2 373.4Q602.0 375.4 597.7 375.2Q593.4 375.0 591.3 372.7Q589.2 370.4 590.4 368.2Q591.6 366.0 593.8 364.8Q596.0 363.5 598.7 363.5Q601.3 363.5 603.9 364.1Q606.4 364.7 607.0 366.4Z" fill="#f9b488" fill-opacity="0.3"/>
<path d="M648.5 359.2Q650.8 360.6 651.2 363.6Q651.7 366.5 647.5 368.4Q643.2 370.3 640.1 372.6Q637.0 374.9 635.4 373.0Q633.8 371.0 631.2 369.9Q628.5 368.7 630.2 365.6Q631.8 362.4 635.6 361.3Q639.4 360.3 642.8 359.0Q646.2 357.7 648.5 359.2Z" fill="#f9b488" fill-opacity="0.3"/>
<path d="M619.2 372.2L619.1 365.6M617.6 370.4L617.1 364.9M615.6 369.9L616.0 358.0M614.6 375.3L618.4 367.7M617.1 368.8L620.0 363.1M613.0 368.0L605.4 358.2M621.6 367.0L618.9 356.9M617.2 371.8L626.3 360.0M618.7 364.7L623.6 351.6M613.9 373.7L619.0 359.8M614.7 369.0L605.5 357.2M614.8 370.3L620.5 363.2M617.1 368.0L620.7 362.9M620.9 373.6L619.8 367.9M616.1 371.6L621.7 360.9M616.0 364.7L612.2 359.5M615.5 374.5L614.0 369.7M615.0 368.5L608.3 356.1M616.7 371.1L619.4 361.8M618.5 368.6L618.4 356.0M618.9 368.1L618.5 354.7M616.3 371.6L617.5 361.3M614.4 369.5L608.9 360.7M613.9 370.1L610.6 362.8M618.9 371.8L624.8 360.3M619.1 370.3L621.8 362.3M619.8 369.6L623.1 364.1M615.8 371.0L617.5 365.3M619.9 367.4L622.8 358.8M616.6 371.8L611.8 360.5M618.4 370.0L614.5 355.7M620.0 369.1L623.8 355.8M613.1 369.0L616.6 364.6M615.6 369.2L610.4 362.1M614.6 363.8L613.9 358.3M618.6 370.9L611.6 358.8M614.3 372.9L612.2 361.3M616.4 372.6L616.9 358.4M617.3 371.9L619.2 364.2M619.6 372.1L621.1 357.6M616.5 370.5L616.8 363.7M616.2 365.0L610.2 355.4M613.2 371.4L618.0 365.0M613.2 371.2L620.8 361.4M614.8 369.3L614.6 360.3M613.5 370.1L610.3 366.0M617.0 371.5L616.6 362.7M616.9 369.6L617.9 364.1M611.6 370.3L605.3 361.4M617.4 369.6L618.2 359.8M611.9 373.4L613.3 367.4M614.6 372.6L618.9 361.0M619.4 371.0L620.7 362.0M617.2 371.6L621.2 361.7M618.8 369.3L618.6 356.8M619.6 372.6L627.3 360.5M616.6 375.7L614.4 369.3M617.3 369.6L616.4 359.1M614.0 370.4L610.7 359.0M615.8 370.3L611.4 362.9" stroke="#f9b488" stroke-opacity="0.55" stroke-width="1.1" stroke-linecap="round" fill="none"/>
<path d="M620.0 372.3L617.5 366.8M616.7 372.2L616.8 364.9M617.3 372.1L616.5 363.9M616.4 370.6L617.2 367.6M618.3 372.0L618.5 367.6M616.3 372.3L620.2 365.2M617.8 371.5L618.3 364.5M617.2 370.3L619.3 363.7M618.5 370.8L619.3 367.8M618.7 370.3L620.4 362.3M615.3 372.0L615.5 365.5M615.3 372.1L612.3 364.5M617.6 371.1L618.8 363.1M615.3 371.9L618.8 363.6M617.6 372.8L619.3 366.4M617.8 371.8L618.1 368.7M616.3 372.4L618.0 367.9M615.8 372.8L615.8 369.3M616.8 372.2L616.4 366.2M617.3 371.9L614.0 365.0M618.6 372.0L619.4 367.2M617.6 371.1L615.0 365.2M617.6 372.4L616.7 368.9M617.8 371.7L619.1 363.8M615.7 373.4L614.0 368.4" stroke="#f47b3e" stroke-opacity="0.5" stroke-width="1.0" stroke-linecap="round" fill="none"/>
<path d="M624.7 361.0Q622.6 363.6 623.3 366.3Q623.9 369.0 620.6 370.3Q617.3 371.6 615.2 369.2Q613.1 366.8 609.9 365.7Q606.6 364.6 608.0 362.2Q609.4 359.8 611.8 358.7Q614.3 357.6 617.0 357.3Q619.7 356.9 623.2 357.6Q626.7 358.4 624.7 361.0Z" fill="#f9b488" fill-opacity="0.7"/>
<path d="M624.7 371.1Q626.8 373.3 624.1 375.0Q621.4 376.6 618.8 377.2Q616.2 377.8 612.8 377.7Q609.4 377.7 608.7 375.0Q608.1 372.4 609.3 370.4Q610.4 368.4 611.9 366.0Q613.4 363.6 617.4 362.8Q621.4 362.0 622.0 365.5Q622.6 368.9 624.7 371.1Z" fill="#f47b3e" fill-opacity="0.72"/>
<path d="M616.1 372.2L615.1 377.1M616.4 371.9L609.8 381.5M616.4 373.7L621.2 380.9M614.4 373.3L615.7 379.4M615.8 371.6L611.1 378.8M616.2 372.7L615.1 379.5M617.1 373.0L616.2 381.2M617.4 372.9L617.4 382.2M616.1 370.7L618.7 376.9M618.2 374.5L620.7 381.2M615.2 371.2L615.8 378.2M616.0 372.9L612.9 382.1M617.3 373.6L619.4 379.4M616.6 373.0L617.3 379.1M616.9 373.4L615.4 377.6M617.5 371.3L615.4 379.9M616.6 374.3L617.4 380.2M617.5 374.5L623.2 383.8M616.4 371.7L613.8 376.1M617.7 372.2L617.7 383.0M615.4 372.1L617.4 378.6M617.5 374.1L616.8 385.5M617.6 371.3L615.2 375.0M619.2 372.2L618.3 377.4M615.6 370.2L617.8 377.7M619.2 370.9L622.0 376.4M616.3 371.8L617.3 376.9M617.4 373.2L618.7 380.5M615.8 372.2L618.3 377.8M616.0 374.1L616.4 381.9M617.3 374.3L619.6 379.0M615.0 374.4L615.9 382.4M617.9 371.3L612.0 380.0M616.2 373.8L621.3 382.6M616.7 375.7L614.6 380.4M617.9 373.4L616.3 377.3M616.3 373.0L617.9 379.8M616.3 372.4L618.5 380.0M615.1 372.0L614.1 376.3M616.2 372.4L613.9 379.1M618.0 372.3L614.9 378.2M614.9 372.7L611.1 378.3M617.4 373.3L615.2 377.5M616.2 372.0L618.8 382.5M617.4 374.2L616.4 384.7" stroke="#f47b3e" stroke-opacity="0.5" stroke-width="1.1" stroke-linecap="round" fill="none"/>
<path d="M616.6 372.3L610.4 374.2M616.9 371.0L606.5 376.1M618.3 372.5L608.4 379.0M616.6 371.6L610.7 373.6M616.9 371.7L607.6 367.5M616.9 371.3L606.3 368.2M617.3 370.9L609.0 373.0M617.0 371.4L611.8 374.5M616.7 372.1L605.3 372.8M617.6 372.1L613.4 372.9M617.1 373.1L610.1 376.0M617.6 371.9L609.8 375.0M616.3 371.3L608.5 371.0M616.9 371.4L611.3 368.9M616.2 372.0L609.3 371.4M616.9 373.4L605.4 370.5M615.5 371.9L606.5 367.7M615.7 372.7L605.9 373.5M616.3 371.1L605.9 367.3M617.1 371.8L609.4 368.6M616.4 372.7L608.6 368.6M616.9 372.5L605.7 376.6M618.0 372.0L609.3 376.3M616.6 371.5L608.2 377.1M616.1 371.9L609.9 373.4" stroke="#f47b3e" stroke-opacity="0.4" stroke-width="0.9" stroke-linecap="round" fill="none"/>
<path d="M617.1 372.0L621.1 370.3M617.4 372.2L628.3 368.9M617.2 372.5L623.2 370.1M615.0 371.9L623.6 372.8M615.6 372.4L624.3 372.0M616.9 371.7L624.4 373.8M615.3 373.0L626.2 374.4M617.8 371.7L625.3 369.8M617.7 371.0L623.5 370.9M616.1 371.9L627.5 368.5M617.5 371.3L623.3 368.8M617.2 370.7L629.1 369.6M616.8 371.2L622.5 370.6M617.3 372.9L627.9 371.5M616.4 371.7L620.8 373.2M617.0 371.6L624.0 370.1M615.1 371.9L619.7 371.9M616.7 370.5L623.1 369.2M616.0 372.0L626.3 372.5M618.6 371.3L623.0 369.8" stroke="#f47b3e" stroke-opacity="0.4" stroke-width="0.9" stroke-linecap="round" fill="none"/>
<path d="M592.9 368.4L592.6 364.0M591.8 367.0L587.2 363.6M591.7 366.2L585.6 365.9M593.8 365.9L589.1 364.2M591.7 367.0L588.8 366.0M593.0 367.0L589.6 363.3M593.5 368.1L591.1 364.1M591.8 368.4L586.4 362.5M592.9 365.7L589.8 360.8M591.9 367.3L585.4 367.4M593.2 366.6L588.5 361.9M591.9 367.7L588.8 365.2M590.7 367.1L585.7 367.5M592.9 367.5L591.3 361.2M593.4 365.9L586.4 367.1M593.4 367.1L587.9 363.0M593.2 365.7L591.6 359.1M591.0 367.4L587.7 367.5M591.4 366.6L591.4 360.9M594.0 367.8L593.8 360.4M592.9 367.2L592.0 360.8M591.9 367.2L587.1 366.8M592.7 368.1L587.1 368.3M592.9 366.8L591.6 362.8M593.7 365.7L592.8 359.3M592.5 367.1L588.8 366.1M593.5 365.5L587.7 365.8M592.6 366.5L586.1 365.3M592.6 364.4L586.5 362.8M590.9 366.8L586.2 366.1" stroke="#f9b488" stroke-opacity="0.5" stroke-width="1.0" stroke-linecap="round" fill="none"/>
<path d="M596.6 369.0L601.0 372.7M595.2 368.8L598.4 368.4M595.2 369.5L597.9 372.9M596.3 370.0L598.7 372.7M595.0 368.8L597.2 371.2M597.9 368.9L601.4 369.2M596.0 368.8L598.4 370.7M595.5 369.5L598.4 370.7M596.6 369.1L601.4 369.5M595.7 369.3L600.8 373.3M596.0 368.5L602.9 368.0M595.8 370.1L599.5 375.4M595.3 369.1L598.9 372.7M596.9 370.1L599.2 373.9M595.0 369.1L599.1 369.2M595.5 368.8L599.5 372.8M595.5 369.3L598.7 369.0M595.9 368.8L600.2 372.4M596.8 369.5L601.6 368.1M595.7 369.1L600.0 371.4" stroke="#f47b3e" stroke-opacity="0.55" stroke-width="1.0" stroke-linecap="round" fill="none"/>
<path d="M595.5 361.6Q595.9 363.1 594.3 363.9Q592.7 364.8 591.2 365.8Q589.6 366.8 587.5 366.2Q585.4 365.7 585.8 364.0Q586.2 362.3 586.1 361.1Q585.9 360.0 587.0 358.6Q588.1 357.2 590.2 357.6Q592.3 358.0 593.7 359.1Q595.1 360.1 595.5 361.6Z" fill="#f9b488" fill-opacity="0.55"/>
<path d="M601.5 370.0Q601.7 370.9 600.7 371.9Q599.7 372.8 597.5 372.2Q595.3 371.6 594.3 370.6Q593.4 369.7 591.6 368.6Q589.9 367.6 591.6 367.0Q593.4 366.4 595.1 366.5Q596.8 366.6 599.0 366.7Q601.1 366.8 601.2 367.9Q601.4 369.1 601.5 370.0Z" fill="#f47b3e" fill-opacity="0.6"/>
<path d="M583.3 372.9L579.5 372.8M584.7 372.0L581.0 373.3M583.4 372.1L575.9 373.5M583.7 373.6L581.2 373.6M583.4 372.9L576.3 373.4M585.0 371.2L578.0 372.4M583.1 372.1L579.4 373.0M583.9 371.7L581.4 372.0M584.3 372.3L577.9 371.5M584.5 371.2L582.6 370.8" stroke="#f47b3e" stroke-opacity="0.45" stroke-width="1.0" stroke-linecap="round" fill="none"/>
<path d="M599.1 365.4L590.1 353.5M597.9 365.9L593.2 360.4M598.1 367.0L590.1 358.6M598.1 366.4L588.9 356.7M598.4 365.6L588.8 352.9M599.0 365.4L589.5 352.8M598.2 365.7L587.0 350.7M599.0 365.8L593.9 360.0" stroke="#f47b3e" stroke-opacity="0.5" stroke-width="0.8" stroke-linecap="round" fill="none"/>
<path d="M625.2 373.0 L636.6 363.5 L649.9 349.7 L657.5 343.0 L659.0 353.5 L646.1 363.5 L634.7 374.5Z" fill="#f47b3e" fill-opacity="0.72"/>
<path d="M624.6 370.7L632.5 363.9M626.1 373.6L643.2 363.6M622.5 372.1L640.2 361.2M623.8 375.0L644.7 358.9M625.5 373.6L644.0 354.8M624.3 373.9L645.8 356.7M624.9 372.4L637.1 360.3M623.4 374.4L650.6 353.9M623.3 372.3L638.0 359.8M624.8 372.7L646.0 354.8M625.0 372.8L647.3 355.8M623.6 372.9L637.5 361.2M623.5 373.9L644.1 356.0M624.5 373.4L648.1 354.7M622.7 371.9L646.7 356.9M623.6 372.2L641.0 357.4M624.4 372.3L644.2 360.4M623.7 373.0L641.2 354.5M622.5 372.4L642.4 356.7M624.3 370.5L643.6 351.2M623.6 373.2L645.3 359.5M623.2 374.1L643.8 351.8M623.9 372.7L644.1 351.9M625.2 372.0L650.5 346.9M626.2 372.4L646.2 359.0M624.9 374.0L656.7 354.1M625.8 375.5L645.8 360.4M622.9 371.8L654.0 350.1M624.5 372.3L638.5 362.4M624.2 372.3L646.9 354.8" stroke="#f47b3e" stroke-opacity="0.3" stroke-width="1.0" stroke-linecap="round" fill="none"/>
<path d="M652.0 350.7L655.8 344.2M650.3 348.3L652.3 345.8M648.5 350.2L651.0 345.6M649.7 351.2L652.5 346.7M650.5 349.6L653.7 345.9M649.5 355.2L651.6 353.9M649.6 350.4L652.2 349.2M651.0 349.0L655.1 343.3M648.4 351.2L653.5 345.8M648.9 351.4L649.7 349.0M649.8 349.7L650.6 345.3M647.6 348.0L649.6 343.0M649.1 348.4L655.4 343.7M648.9 351.0L650.6 348.8M651.1 347.8L652.8 344.4M649.3 352.2L651.4 349.9M650.4 349.2L655.1 346.8M648.5 350.8L651.8 349.5M653.9 347.9L660.5 343.9M649.3 352.1L651.2 350.9M651.6 350.3L655.0 348.0M651.6 351.6L652.8 349.7M650.4 348.1L652.0 343.3M651.9 349.8L654.0 348.2M649.0 350.0L650.6 345.3" stroke="#f9a36e" stroke-opacity="0.4" stroke-width="1.0" stroke-linecap="round" fill="none"/>
<path d="M644.4 368.1Q644.4 369.5 643.3 370.9Q642.3 372.4 640.5 371.5Q638.8 370.6 637.1 370.2Q635.5 369.8 635.1 368.3Q634.6 366.8 636.0 365.9Q637.3 365.0 638.6 363.7Q639.9 362.3 641.0 363.8Q642.2 365.2 643.3 366.0Q644.4 366.8 644.4 368.1Z" fill="#f9b488" fill-opacity="0.55"/>
<path d="M637.3 368.6Q638.3 369.6 636.6 370.8Q634.9 371.9 633.4 372.2Q631.9 372.5 629.7 373.3Q627.6 374.2 626.8 373.0Q626.0 371.8 626.1 370.3Q626.3 368.8 628.6 368.4Q630.9 368.0 632.4 367.2Q633.9 366.5 635.1 367.0Q636.3 367.6 637.3 368.6Z" fill="#f47b3e" fill-opacity="0.6"/>
<path d="M626.0 375.4L634.5 377.5M626.7 374.9L646.1 382.7M625.5 375.2L636.0 379.2M626.8 374.6L638.4 377.8M626.1 374.7L636.0 377.9M625.4 375.8L642.1 381.5M625.4 374.6L631.8 377.2M625.4 376.0L634.3 379.3M626.7 374.4L648.6 378.4M625.4 374.3L635.1 376.9M625.9 375.0L632.8 377.2M625.9 375.0L640.7 381.3M626.2 374.2L641.0 379.0M626.0 374.6L645.5 380.9M626.3 375.1L633.0 376.5M625.6 375.5L632.8 377.3M626.1 375.0L649.0 379.1M626.4 375.9L645.8 381.6M626.2 374.6L633.0 376.9M626.7 374.6L634.5 378.0" stroke="#f47b3e" stroke-opacity="0.4" stroke-width="0.9" stroke-linecap="round" fill="none"/>
<path d="M648.2 339.6Q647.6 340.4 647.5 341.1Q647.4 341.7 646.3 342.5Q645.2 343.3 644.2 343.1Q643.1 342.8 642.7 342.4Q642.3 342.1 642.0 341.5Q641.8 341.0 642.7 340.4Q643.7 339.7 645.0 339.1Q646.3 338.5 647.5 338.6Q648.7 338.8 648.2 339.6Z" fill="#f47b3e" fill-opacity="0.5"/>
<path d="M675.4 383.8Q676.2 385.3 675.8 387.2Q675.5 389.1 674.2 390.0Q672.9 391.0 671.5 389.6Q670.1 388.3 669.2 386.3Q668.4 384.3 668.8 382.4Q669.3 380.5 670.2 379.5Q671.1 378.4 672.5 378.2Q673.8 378.0 674.2 380.1Q674.7 382.3 675.4 383.8Z" fill="#f47b3e" fill-opacity="0.72"/>
<path d="M634.6 399.3L632.2 397.1M634.8 400.2L633.6 397.6M634.5 401.2L632.5 399.3M634.5 401.4L629.7 398.5M632.4 399.8L631.0 396.3M634.5 400.9L632.9 398.8M633.0 401.6L632.3 399.4M634.3 399.6L631.2 398.0M634.4 399.8L631.7 399.0M633.6 403.0L632.7 401.0M633.5 401.5L632.7 399.4M634.9 400.6L632.7 397.6M636.4 402.1L634.3 401.4M635.1 401.4L630.2 398.4M634.3 399.9L631.4 398.4" stroke="#f47b3e" stroke-opacity="0.5" stroke-width="1" stroke-linecap="round" fill="none"/>
<path d="M634.0 400.6L636.6 402.7M634.4 401.5L638.9 405.6M634.6 400.9L635.8 405.0M634.4 401.1L638.7 406.5M633.5 400.0L640.0 406.1M634.3 400.2L636.1 403.2M634.6 400.1L636.2 404.0M634.8 400.4L641.2 404.6M634.1 400.9L639.5 406.8M634.1 400.6L635.1 404.2" stroke="#f47b3e" stroke-opacity="0.45" stroke-width="0.9" stroke-linecap="round" fill="none"/>
<path d="M646.9 397.9Q647.3 398.9 645.9 399.4Q644.4 399.9 643.1 400.3Q641.7 400.7 639.9 400.4Q638.2 400.1 637.9 399.1Q637.5 398.1 638.4 397.4Q639.3 396.7 640.4 396.3Q641.5 395.9 642.8 395.9Q644.2 396.0 645.3 396.5Q646.5 397.0 646.9 397.9Z" fill="#f47b3e" fill-opacity="0.55"/>
<path d="M635.7 398.2Q635.5 399.2 635.2 399.8Q634.9 400.5 634.1 400.9Q633.3 401.3 632.3 401.2Q631.3 401.0 630.2 400.4Q629.2 399.8 629.2 398.7Q629.2 397.6 630.2 396.8Q631.3 396.1 632.5 396.5Q633.7 397.0 634.8 397.2Q635.9 397.3 635.7 398.2Z" fill="#f47b3e" fill-opacity="0.5"/>
<path d="M600.0 409.3L602.7 407.4M600.1 409.9L599.7 411.4M600.1 409.6L599.8 405.9M599.1 409.2L598.8 411.5M599.6 409.5L598.4 410.5M599.4 408.9L601.3 411.8M600.2 410.0L603.1 408.8M599.6 409.5L600.1 411.0M600.4 409.7L597.1 410.2M599.5 409.0L595.3 407.0M600.2 409.9L595.2 410.3M599.5 408.7L595.8 406.3M600.0 408.7L598.8 408.2M600.7 408.5L603.1 407.8M599.3 408.9L599.9 406.9M600.6 409.8L597.1 408.9M600.0 409.0L599.1 409.4M599.5 409.2L601.5 410.0" stroke="#f47b3e" stroke-opacity="0.45" stroke-width="0.9" stroke-linecap="round" fill="none"/>
<path d="M608.0 418.9L608.3 416.5M609.3 419.4L610.5 416.8M607.9 419.1L605.7 418.5M608.2 419.0L608.7 414.6M608.1 418.4L611.4 413.5M608.6 419.8L607.4 417.9M608.3 418.1L610.5 411.8M607.1 419.0L611.1 417.5M608.1 419.0L605.7 414.7M608.0 419.8L611.5 418.4M608.4 419.4L606.5 418.6M608.4 419.6L605.4 419.2M608.3 420.7L602.3 420.5M608.5 418.2L606.0 418.1M608.4 418.8L603.6 414.1M608.3 419.2L611.3 414.0M607.1 419.0L605.2 417.2M609.3 418.8L610.9 413.3M608.3 419.7L607.5 415.9M608.5 418.4L613.5 416.1M607.1 418.8L609.1 416.2M608.1 420.3L610.7 417.2M608.4 418.9L614.2 415.4M608.5 419.5L610.5 416.0M608.2 419.4L604.6 418.1M607.5 418.6L604.3 417.5M607.5 419.7L614.4 419.1M608.8 417.9L606.1 415.5M607.3 419.0L603.2 415.0M607.3 418.2L609.6 413.4" stroke="#f47b3e" stroke-opacity="0.5" stroke-width="0.9" stroke-linecap="round" fill="none"/>
<path d="M609.1 418.6L608.4 419.3M607.7 419.9L607.1 421.4M607.9 419.8L605.6 421.5M608.5 419.4L606.7 421.0M608.4 419.6L608.8 422.3M608.8 419.4L610.6 422.0M608.1 418.6L610.1 421.2M608.2 419.9L610.0 421.8M608.7 419.0L607.6 422.6M607.0 419.1L607.6 420.3" stroke="#f47b3e" stroke-opacity="0.45" stroke-width="0.9" stroke-linecap="round" fill="none"/>
<path d="M565.9 388.8Q566.4 389.5 566.0 390.4Q565.6 391.3 564.4 391.8Q563.1 392.2 562.1 392.4Q561.0 392.5 560.2 392.2Q559.4 392.0 559.2 391.3Q559.1 390.6 559.9 389.9Q560.7 389.1 561.9 388.4Q563.1 387.7 564.3 387.9Q565.5 388.1 565.9 388.8Z" fill="#f47b3e" fill-opacity="0.45"/>
<path d="M588.2 403.6Q588.1 404.6 587.5 404.9Q586.9 405.2 586.4 406.0Q586.0 406.7 585.7 405.8Q585.4 404.9 585.0 404.3Q584.5 403.7 584.9 403.1Q585.2 402.4 585.5 401.5Q585.9 400.7 586.6 400.9Q587.3 401.1 587.8 401.9Q588.3 402.6 588.2 403.6Z" fill="#f47b3e" fill-opacity="0.35"/>
<path d="M613.0 332.1Q612.9 333.0 612.1 333.5Q611.3 333.9 610.4 334.4Q609.5 335.0 608.8 334.2Q608.2 333.5 607.8 332.9Q607.3 332.2 607.7 331.6Q608.1 330.9 608.8 330.6Q609.5 330.2 610.3 330.4Q611.1 330.6 612.1 330.9Q613.1 331.2 613.0 332.1Z" fill="#1f9e5a" fill-opacity="0.6"/>
<path d="M605.7 335.6Q605.7 336.2 605.0 336.5Q604.2 336.7 603.5 336.7Q602.8 336.6 602.5 336.3Q602.1 336.0 601.5 335.6Q601.0 335.2 601.4 334.7Q601.8 334.3 602.6 334.2Q603.3 334.1 604.0 334.1Q604.7 334.2 605.3 334.6Q605.8 335.0 605.7 335.6Z" fill="#1f9e5a" fill-opacity="0.5"/>
<g stroke="#555" stroke-width="0.55" stroke-linejoin="round" transform="translate(106.4 575.3) scale(1 1.008) translate(-106.4 -575.3)">
<path d="M30.89 514.81A96.75 96.75 0 0 1 40.73 504.25L50.98 515.34A81.64999999999999 81.64999999999999 0 0 0 42.68 524.25Z" fill="#eef5fc"/>
<path d="M43.54 524.94A80.55 80.55 0 0 1 51.73 516.15L62.04 527.31A65.35 65.35 0 0 0 55.40 534.44Z" fill="#c0dbef"/>
<path d="M56.26 535.13A64.25 64.25 0 0 1 62.79 528.12L73.04 539.21A49.15 49.15 0 0 0 68.04 544.57Z" fill="#1a8ccc"/>
<path d="M68.90 545.26A48.050000000000004 48.050000000000004 0 0 1 73.79 540.01L84.04 551.10A32.949999999999996 32.949999999999996 0 0 0 80.68 554.70Z" fill="#0b4d9c"/>
<path d="M81.54 555.39A31.849999999999998 31.849999999999998 0 0 1 84.78 551.91L95.03 563.00A16.75 16.75 0 0 0 93.33 564.83Z" fill="#08336f"/>
<path d="M40.73 504.25A96.75 96.75 0 0 1 52.03 495.27L60.52 507.76A81.64999999999999 81.64999999999999 0 0 0 50.98 515.34Z" fill="#eef5fc"/>
<path d="M51.73 516.15A80.55 80.55 0 0 1 61.14 508.67L69.68 521.24A65.35 65.35 0 0 0 62.04 527.31Z" fill="#1ea0d6"/>
<path d="M62.79 528.12A64.25 64.25 0 0 1 70.30 522.15L78.78 534.64A49.15 49.15 0 0 0 73.04 539.21Z" fill="#ffffff"/>
<path d="M73.79 540.01A48.050000000000004 48.050000000000004 0 0 1 79.40 535.55L87.88 548.04A32.949999999999996 32.949999999999996 0 0 0 84.04 551.10Z" fill="#1a76bc"/>
<path d="M84.78 551.91A31.849999999999998 31.849999999999998 0 0 1 88.50 548.95L96.99 561.44A16.75 16.75 0 0 0 95.03 563.00Z" fill="#08336f"/>
<path d="M52.03 495.27A96.75 96.75 0 0 1 64.54 488.07L71.08 501.69A81.64999999999999 81.64999999999999 0 0 0 60.52 507.76Z" fill="#eef5fc"/>
<path d="M61.14 508.67A80.55 80.55 0 0 1 71.55 502.68L78.13 516.38A65.35 65.35 0 0 0 69.68 521.24Z" fill="#6cb8e0"/>
<path d="M70.30 522.15A64.25 64.25 0 0 1 78.60 517.37L85.14 530.99A49.15 49.15 0 0 0 78.78 534.64Z" fill="#6cb8e0"/>
<path d="M79.40 535.55A48.050000000000004 48.050000000000004 0 0 1 85.61 531.98L92.14 545.59A32.949999999999996 32.949999999999996 0 0 0 87.88 548.04Z" fill="#1a76bc"/>
<path d="M88.50 548.95A31.849999999999998 31.849999999999998 0 0 1 92.62 546.59L99.15 560.20A16.75 16.75 0 0 0 96.99 561.44Z" fill="#08336f"/>
<path d="M64.54 488.07A96.75 96.75 0 0 1 77.98 482.82L82.42 497.25A81.64999999999999 81.64999999999999 0 0 0 71.08 501.69Z" fill="#dfecf8"/>
<path d="M71.55 502.68A80.55 80.55 0 0 1 82.74 498.30L87.21 512.83A65.35 65.35 0 0 0 78.13 516.38Z" fill="#08336f"/>
<path d="M78.60 517.37A64.25 64.25 0 0 1 87.53 513.88L91.96 528.32A49.15 49.15 0 0 0 85.14 530.99Z" fill="#0b4d9c"/>
<path d="M85.61 531.98A48.050000000000004 48.050000000000004 0 0 1 92.29 529.37L96.72 543.80A32.949999999999996 32.949999999999996 0 0 0 92.14 545.59Z" fill="#1a76bc"/>
<path d="M92.62 546.59A31.849999999999998 31.849999999999998 0 0 1 97.05 544.85L101.48 559.29A16.75 16.75 0 0 0 99.15 560.20Z" fill="#08336f"/>
<path d="M77.98 482.82A96.75 96.75 0 0 1 92.06 479.62L94.30 494.55A81.64999999999999 81.64999999999999 0 0 0 82.42 497.25Z" fill="#eef5fc"/>
<path d="M82.74 498.30A80.55 80.55 0 0 1 94.46 495.64L96.71 510.67A65.35 65.35 0 0 0 87.21 512.83Z" fill="#a6d0ea"/>
<path d="M87.53 513.88A64.25 64.25 0 0 1 96.88 511.76L99.11 526.69A49.15 49.15 0 0 0 91.96 528.32Z" fill="#1a8ccc"/>
<path d="M92.29 529.37A48.050000000000004 48.050000000000004 0 0 1 99.28 527.78L101.52 542.71A32.949999999999996 32.949999999999996 0 0 0 96.72 543.80Z" fill="#1a76bc"/>
<path d="M97.05 544.85A31.849999999999998 31.849999999999998 0 0 1 101.68 543.80L103.92 558.74A16.75 16.75 0 0 0 101.48 559.29Z" fill="#08336f"/>
<path d="M92.06 479.62A96.75 96.75 0 0 1 106.45 478.55L106.44 493.65A81.64999999999999 81.64999999999999 0 0 0 94.30 494.55Z" fill="#d2e5f4"/>
<path d="M94.46 495.64A80.55 80.55 0 0 1 106.44 494.75L106.43 509.95A65.35 65.35 0 0 0 96.71 510.67Z" fill="#c0dbef"/>
<path d="M96.88 511.76A64.25 64.25 0 0 1 106.43 511.05L106.43 526.15A49.15 49.15 0 0 0 99.11 526.69Z" fill="#ffffff"/>
<path d="M99.28 527.78A48.050000000000004 48.050000000000004 0 0 1 106.43 527.25L106.42 542.35A32.949999999999996 32.949999999999996 0 0 0 101.52 542.71Z" fill="#ffffff"/>
<path d="M101.68 543.80A31.849999999999998 31.849999999999998 0 0 1 106.42 543.45L106.41 558.55A16.75 16.75 0 0 0 103.92 558.74Z" fill="#ffffff"/>
<path d="M106.45 478.55A96.75 96.75 0 0 1 120.84 479.63L118.59 494.56A81.64999999999999 81.64999999999999 0 0 0 106.44 493.65Z" fill="#d2e5f4"/>
<path d="M106.44 494.75A80.55 80.55 0 0 1 118.42 495.65L116.16 510.68A65.35 65.35 0 0 0 106.43 509.95Z" fill="#ffffff"/>
<path d="M106.43 511.05A64.25 64.25 0 0 1 115.99 511.77L113.74 526.70A49.15 49.15 0 0 0 106.43 526.15Z" fill="#ffffff"/>
<path d="M106.43 527.25A48.050000000000004 48.050000000000004 0 0 1 113.57 527.79L111.32 542.72A32.949999999999996 32.949999999999996 0 0 0 106.42 542.35Z" fill="#ffffff"/>
<path d="M106.42 543.45A31.849999999999998 31.849999999999998 0 0 1 111.15 543.81L108.90 558.74A16.75 16.75 0 0 0 106.41 558.55Z" fill="#ffffff"/>
<path d="M120.84 479.63A96.75 96.75 0 0 1 134.91 482.85L130.46 497.28A81.64999999999999 81.64999999999999 0 0 0 118.59 494.56Z" fill="#eef5fc"/>
<path d="M118.42 495.65A80.55 80.55 0 0 1 130.14 498.33L125.66 512.85A65.35 65.35 0 0 0 116.16 510.68Z" fill="#c0dbef"/>
<path d="M115.99 511.77A64.25 64.25 0 0 1 125.33 513.90L120.88 528.33A49.15 49.15 0 0 0 113.74 526.70Z" fill="#1ea0d6"/>
<path d="M113.57 527.79A48.050000000000004 48.050000000000004 0 0 1 120.56 529.38L116.11 543.81A32.949999999999996 32.949999999999996 0 0 0 111.32 542.72Z" fill="#0b4d9c"/>
<path d="M111.15 543.81A31.849999999999998 31.849999999999998 0 0 1 115.79 544.86L111.34 559.29A16.75 16.75 0 0 0 108.90 558.74Z" fill="#08336f"/>
<path d="M134.91 482.85A96.75 96.75 0 0 1 148.35 488.12L141.80 501.72A81.64999999999999 81.64999999999999 0 0 0 130.46 497.28Z" fill="#eef5fc"/>
<path d="M130.14 498.33A80.55 80.55 0 0 1 141.32 502.72L134.73 516.41A65.35 65.35 0 0 0 125.66 512.85Z" fill="#eef5fc"/>
<path d="M125.33 513.90A64.25 64.25 0 0 1 134.26 517.40L127.71 531.01A49.15 49.15 0 0 0 120.88 528.33Z" fill="#6cb8e0"/>
<path d="M120.56 529.38A48.050000000000004 48.050000000000004 0 0 1 127.23 532.00L120.69 545.61A32.949999999999996 32.949999999999996 0 0 0 116.11 543.81Z" fill="#ffffff"/>
<path d="M115.79 544.86A31.849999999999998 31.849999999999998 0 0 1 120.21 546.60L113.66 560.21A16.75 16.75 0 0 0 111.34 559.29Z" fill="#ffffff"/>
<path d="M148.35 488.12A96.75 96.75 0 0 1 160.85 495.33L152.35 507.81A81.64999999999999 81.64999999999999 0 0 0 141.80 501.72Z" fill="#dfecf8"/>
<path d="M141.32 502.72A80.55 80.55 0 0 1 151.73 508.72L143.18 521.28A65.35 65.35 0 0 0 134.73 516.41Z" fill="#d2e5f4"/>
<path d="M134.26 517.40A64.25 64.25 0 0 1 142.56 522.19L134.06 534.67A49.15 49.15 0 0 0 127.71 531.01Z" fill="#ffffff"/>
<path d="M127.23 532.00A48.050000000000004 48.050000000000004 0 0 1 133.44 535.58L124.94 548.06A32.949999999999996 32.949999999999996 0 0 0 120.69 545.61Z" fill="#1462ae"/>
<path d="M120.21 546.60A31.849999999999998 31.849999999999998 0 0 1 124.33 548.97L115.83 561.45A16.75 16.75 0 0 0 113.66 560.21Z" fill="#ffffff"/>
<path d="M160.85 495.33A96.75 96.75 0 0 1 172.14 504.32L161.88 515.40A81.64999999999999 81.64999999999999 0 0 0 152.35 507.81Z" fill="#eef5fc"/>
<path d="M151.73 508.72A80.55 80.55 0 0 1 161.13 516.20L150.81 527.35A65.35 65.35 0 0 0 143.18 521.28Z" fill="#6cb8e0"/>
<path d="M142.56 522.19A64.25 64.25 0 0 1 150.06 528.16L139.80 539.24A49.15 49.15 0 0 0 134.06 534.67Z" fill="#c0dbef"/>
<path d="M133.44 535.58A48.050000000000004 48.050000000000004 0 0 1 139.05 540.05L128.79 551.13A32.949999999999996 32.949999999999996 0 0 0 124.94 548.06Z" fill="#a6d0ea"/>
<path d="M124.33 548.97A31.849999999999998 31.849999999999998 0 0 1 128.04 551.93L117.78 563.01A16.75 16.75 0 0 0 115.83 561.45Z" fill="#08336f"/>
<path d="M172.14 504.32A96.75 96.75 0 0 1 181.97 514.89L170.18 524.32A81.64999999999999 81.64999999999999 0 0 0 161.88 515.40Z" fill="#d2e5f4"/>
<path d="M161.13 516.20A80.55 80.55 0 0 1 169.32 525.00L157.44 534.49A65.35 65.35 0 0 0 150.81 527.35Z" fill="#1ea0d6"/>
<path d="M150.06 528.16A64.25 64.25 0 0 1 156.58 535.18L144.79 544.61A49.15 49.15 0 0 0 139.80 539.24Z" fill="#08336f"/>
<path d="M139.05 540.05A48.050000000000004 48.050000000000004 0 0 1 143.93 545.30L132.14 554.73A32.949999999999996 32.949999999999996 0 0 0 128.79 551.13Z" fill="#ffffff"/>
<path d="M128.04 551.93A31.849999999999998 31.849999999999998 0 0 1 131.28 555.41L119.48 564.84A16.75 16.75 0 0 0 117.78 563.01Z" fill="#1462ae"/>
<path d="M181.97 514.89A96.75 96.75 0 0 1 190.12 526.80L177.05 534.37A81.64999999999999 81.64999999999999 0 0 0 170.18 524.32Z" fill="#dfecf8"/>
<path d="M169.32 525.00A80.55 80.55 0 0 1 176.10 534.92L162.95 542.54A65.35 65.35 0 0 0 157.44 534.49Z" fill="#c0dbef"/>
<path d="M156.58 535.18A64.25 64.25 0 0 1 161.99 543.09L148.93 550.66A49.15 49.15 0 0 0 144.79 544.61Z" fill="#ffffff"/>
<path d="M143.93 545.30A48.050000000000004 48.050000000000004 0 0 1 147.98 551.21L134.91 558.78A32.949999999999996 32.949999999999996 0 0 0 132.14 554.73Z" fill="#0b4d9c"/>
<path d="M131.28 555.41A31.849999999999998 31.849999999999998 0 0 1 133.96 559.33L120.89 566.90A16.75 16.75 0 0 0 119.48 564.84Z" fill="#ffffff"/>
<path d="M190.12 526.80A96.75 96.75 0 0 1 196.40 539.79L182.35 545.34A81.64999999999999 81.64999999999999 0 0 0 177.05 534.37Z" fill="#eef5fc"/>
<path d="M176.10 534.92A80.55 80.55 0 0 1 181.33 545.74L167.19 551.32A65.35 65.35 0 0 0 162.95 542.54Z" fill="#c0dbef"/>
<path d="M161.99 543.09A64.25 64.25 0 0 1 166.17 551.72L152.12 557.26A49.15 49.15 0 0 0 148.93 550.66Z" fill="#0a4088"/>
<path d="M147.98 551.21A48.050000000000004 48.050000000000004 0 0 1 151.10 557.67L137.05 563.21A32.949999999999996 32.949999999999996 0 0 0 134.91 558.78Z" fill="#1a76bc"/>
<path d="M133.96 559.33A31.849999999999998 31.849999999999998 0 0 1 136.03 563.61L121.98 569.15A16.75 16.75 0 0 0 120.89 566.90Z" fill="#08336f"/>
<path d="M196.40 539.79A96.75 96.75 0 0 1 200.68 553.58L185.97 556.97A81.64999999999999 81.64999999999999 0 0 0 182.35 545.34Z" fill="#d2e5f4"/>
<path d="M181.33 545.74A80.55 80.55 0 0 1 184.89 557.21L170.08 560.63A65.35 65.35 0 0 0 167.19 551.32Z" fill="#1ea0d6"/>
<path d="M166.17 551.72A64.25 64.25 0 0 1 169.01 560.87L154.30 564.26A49.15 49.15 0 0 0 152.12 557.26Z" fill="#1a8ccc"/>
<path d="M151.10 557.67A48.050000000000004 48.050000000000004 0 0 1 153.22 564.51L138.51 567.90A32.949999999999996 32.949999999999996 0 0 0 137.05 563.21Z" fill="#ffffff"/>
<path d="M136.03 563.61A31.849999999999998 31.849999999999998 0 0 1 137.44 568.15L122.72 571.54A16.75 16.75 0 0 0 121.98 569.15Z" fill="#ffffff"/>
<path d="M200.68 553.58A96.75 96.75 0 0 1 202.86 567.84L187.81 569.01A81.64999999999999 81.64999999999999 0 0 0 185.97 556.97Z" fill="#eef5fc"/>
<path d="M184.89 557.21A80.55 80.55 0 0 1 186.71 569.09L171.56 570.26A65.35 65.35 0 0 0 170.08 560.63Z" fill="#ffffff"/>
<path d="M169.01 560.87A64.25 64.25 0 0 1 170.46 570.35L155.40 571.51A49.15 49.15 0 0 0 154.30 564.26Z" fill="#ffffff"/>
<path d="M153.22 564.51A48.050000000000004 48.050000000000004 0 0 1 154.31 571.60L139.25 572.76A32.949999999999996 32.949999999999996 0 0 0 138.51 567.90Z" fill="#ffffff"/>
<path d="M137.44 568.15A31.849999999999998 31.849999999999998 0 0 1 138.16 572.85L123.10 574.01A16.75 16.75 0 0 0 122.72 571.54Z" fill="#ffffff"/>
<path d="M202.86 567.84A96.75 96.75 0 0 1 202.90 582.28L187.84 581.19A81.64999999999999 81.64999999999999 0 0 0 187.81 569.01Z" fill="#dfecf8"/>
<path d="M186.71 569.09A80.55 80.55 0 0 1 186.74 581.11L171.58 580.01A65.35 65.35 0 0 0 171.56 570.26Z" fill="#1ea0d6"/>
<path d="M170.46 570.35A64.25 64.25 0 0 1 170.48 579.93L155.42 578.84A49.15 49.15 0 0 0 155.40 571.51Z" fill="#1ea0d6"/>
<path d="M154.31 571.60A48.050000000000004 48.050000000000004 0 0 1 154.32 578.76L139.26 577.68A32.949999999999996 32.949999999999996 0 0 0 139.25 572.76Z" fill="#1ea0d6"/>
<path d="M138.16 572.85A31.849999999999998 31.849999999999998 0 0 1 138.17 577.60L123.11 576.51A16.75 16.75 0 0 0 123.10 574.01Z" fill="#08336f"/>
<path d="M202.90 582.28A96.75 96.75 0 0 1 200.79 596.55L186.06 593.24A81.64999999999999 81.64999999999999 0 0 0 187.84 581.19Z" fill="#a6d0ea"/>
<path d="M186.74 581.11A80.55 80.55 0 0 1 184.98 592.99L170.15 589.66A65.35 65.35 0 0 0 171.58 580.01Z" fill="#ffffff"/>
<path d="M170.48 579.93A64.25 64.25 0 0 1 169.08 589.41L154.35 586.10A49.15 49.15 0 0 0 155.42 578.84Z" fill="#ffffff"/>
<path d="M154.32 578.76A48.050000000000004 48.050000000000004 0 0 1 153.28 585.86L138.55 582.54A32.949999999999996 32.949999999999996 0 0 0 139.26 577.68Z" fill="#ffffff"/>
<path d="M138.17 577.60A31.849999999999998 31.849999999999998 0 0 1 137.47 582.30L122.74 578.98A16.75 16.75 0 0 0 123.11 576.51Z" fill="#ffffff"/>
<path d="M200.79 596.55A96.75 96.75 0 0 1 196.57 610.36L182.50 604.89A81.64999999999999 81.64999999999999 0 0 0 186.06 593.24Z" fill="#eef5fc"/>
<path d="M184.98 592.99A80.55 80.55 0 0 1 181.48 604.49L167.31 598.98A65.35 65.35 0 0 0 170.15 589.66Z" fill="#6cb8e0"/>
<path d="M169.08 589.41A64.25 64.25 0 0 1 166.28 598.58L152.21 593.11A49.15 49.15 0 0 0 154.35 586.10Z" fill="#4aaedb"/>
<path d="M153.28 585.86A48.050000000000004 48.050000000000004 0 0 1 151.18 592.71L137.11 587.24A32.949999999999996 32.949999999999996 0 0 0 138.55 582.54Z" fill="#1462ae"/>
<path d="M137.47 582.30A31.849999999999998 31.849999999999998 0 0 1 136.09 586.84L122.01 581.37A16.75 16.75 0 0 0 122.74 578.98Z" fill="#08336f"/>
<path d="M196.57 610.36A96.75 96.75 0 0 1 190.36 623.38L177.25 615.88A81.64999999999999 81.64999999999999 0 0 0 182.50 604.89Z" fill="#dfecf8"/>
<path d="M181.48 604.49A80.55 80.55 0 0 1 176.30 615.33L163.11 607.78A65.35 65.35 0 0 0 167.31 598.98Z" fill="#0b4d9c"/>
<path d="M166.28 598.58A64.25 64.25 0 0 1 162.15 607.23L149.05 599.73A49.15 49.15 0 0 0 152.21 593.11Z" fill="#08336f"/>
<path d="M151.18 592.71A48.050000000000004 48.050000000000004 0 0 1 148.10 599.18L134.99 591.68A32.949999999999996 32.949999999999996 0 0 0 137.11 587.24Z" fill="#1a8ccc"/>
<path d="M136.09 586.84A31.849999999999998 31.849999999999998 0 0 1 134.04 591.13L120.94 583.62A16.75 16.75 0 0 0 122.01 581.37Z" fill="#08336f"/>
<path d="M190.36 623.38A96.75 96.75 0 0 1 182.27 635.34L170.43 625.97A81.64999999999999 81.64999999999999 0 0 0 177.25 615.88Z" fill="#eef5fc"/>
<path d="M176.30 615.33A80.55 80.55 0 0 1 169.57 625.28L157.65 615.85A65.35 65.35 0 0 0 163.11 607.78Z" fill="#a6d0ea"/>
<path d="M162.15 607.23A64.25 64.25 0 0 1 156.78 615.17L144.94 605.80A49.15 49.15 0 0 0 149.05 599.73Z" fill="#1ea0d6"/>
<path d="M148.10 599.18A48.050000000000004 48.050000000000004 0 0 1 144.08 605.12L132.24 595.75A32.949999999999996 32.949999999999996 0 0 0 134.99 591.68Z" fill="#1ea0d6"/>
<path d="M134.04 591.13A31.849999999999998 31.849999999999998 0 0 1 131.38 595.06L119.54 585.69A16.75 16.75 0 0 0 120.94 583.62Z" fill="#0b4d9c"/>
<path d="M182.27 635.34A96.75 96.75 0 0 1 172.49 645.95L162.18 634.93A81.64999999999999 81.64999999999999 0 0 0 170.43 625.97Z" fill="#eef5fc"/>
<path d="M169.57 625.28A80.55 80.55 0 0 1 161.43 634.12L151.04 623.02A65.35 65.35 0 0 0 157.65 615.85Z" fill="#0b4d9c"/>
<path d="M156.78 615.17A64.25 64.25 0 0 1 150.29 622.22L139.98 611.19A49.15 49.15 0 0 0 144.94 605.80Z" fill="#ffffff"/>
<path d="M144.08 605.12A48.050000000000004 48.050000000000004 0 0 1 139.23 610.39L128.91 599.36A32.949999999999996 32.949999999999996 0 0 0 132.24 595.75Z" fill="#1a76bc"/>
<path d="M131.38 595.06A31.849999999999998 31.849999999999998 0 0 1 128.16 598.56L117.84 587.53A16.75 16.75 0 0 0 119.54 585.69Z" fill="#1a76bc"/>
<path d="M172.49 645.95A96.75 96.75 0 0 1 161.25 655.00L152.69 642.56A81.64999999999999 81.64999999999999 0 0 0 162.18 634.93Z" fill="#d2e5f4"/>
<path d="M161.43 634.12A80.55 80.55 0 0 1 152.06 641.66L143.45 629.13A65.35 65.35 0 0 0 151.04 623.02Z" fill="#1a8ccc"/>
<path d="M150.29 622.22A64.25 64.25 0 0 1 142.82 628.23L134.26 615.79A49.15 49.15 0 0 0 139.98 611.19Z" fill="#ffffff"/>
<path d="M139.23 610.39A48.050000000000004 48.050000000000004 0 0 1 133.64 614.88L125.08 602.44A32.949999999999996 32.949999999999996 0 0 0 128.91 599.36Z" fill="#ffffff"/>
<path d="M128.16 598.56A31.849999999999998 31.849999999999998 0 0 1 124.46 601.54L115.90 589.10A16.75 16.75 0 0 0 117.84 587.53Z" fill="#08336f"/>
<path d="M161.25 655.00A96.75 96.75 0 0 1 148.78 662.27L142.17 648.70A81.64999999999999 81.64999999999999 0 0 0 152.69 642.56Z" fill="#1ea0d6"/>
<path d="M152.06 641.66A80.55 80.55 0 0 1 141.69 647.71L135.03 634.05A65.35 65.35 0 0 0 143.45 629.13Z" fill="#ffffff"/>
<path d="M142.82 628.23A64.25 64.25 0 0 1 134.55 633.06L127.93 619.48A49.15 49.15 0 0 0 134.26 615.79Z" fill="#ffffff"/>
<path d="M133.64 614.88A48.050000000000004 48.050000000000004 0 0 1 127.45 618.49L120.83 604.92A32.949999999999996 32.949999999999996 0 0 0 125.08 602.44Z" fill="#1462ae"/>
<path d="M124.46 601.54A31.849999999999998 31.849999999999998 0 0 1 120.35 603.93L113.74 590.36A16.75 16.75 0 0 0 115.90 589.10Z" fill="#ffffff"/>
<path d="M148.78 662.27A96.75 96.75 0 0 1 135.37 667.61L130.85 653.20A81.64999999999999 81.64999999999999 0 0 0 142.17 648.70Z" fill="#eef5fc"/>
<path d="M141.69 647.71A80.55 80.55 0 0 1 130.52 652.15L125.97 637.65A65.35 65.35 0 0 0 135.03 634.05Z" fill="#4aaedb"/>
<path d="M134.55 633.06A64.25 64.25 0 0 1 125.64 636.60L121.12 622.19A49.15 49.15 0 0 0 127.93 619.48Z" fill="#1ea0d6"/>
<path d="M127.45 618.49A48.050000000000004 48.050000000000004 0 0 1 120.79 621.14L116.27 606.74A32.949999999999996 32.949999999999996 0 0 0 120.83 604.92Z" fill="#08336f"/>
<path d="M120.35 603.93A31.849999999999998 31.849999999999998 0 0 1 115.94 605.69L111.42 591.28A16.75 16.75 0 0 0 113.74 590.36Z" fill="#08336f"/>
<path d="M135.37 667.61A96.75 96.75 0 0 1 121.32 670.89L118.99 655.97A81.64999999999999 81.64999999999999 0 0 0 130.85 653.20Z" fill="#d2e5f4"/>
<path d="M130.52 652.15A80.55 80.55 0 0 1 118.82 654.89L116.48 639.87A65.35 65.35 0 0 0 125.97 637.65Z" fill="#4aaedb"/>
<path d="M125.64 636.60A64.25 64.25 0 0 1 116.31 638.78L113.98 623.86A49.15 49.15 0 0 0 121.12 622.19Z" fill="#6cb8e0"/>
<path d="M120.79 621.14A48.050000000000004 48.050000000000004 0 0 1 113.81 622.78L111.48 607.86A32.949999999999996 32.949999999999996 0 0 0 116.27 606.74Z" fill="#0b4d9c"/>
<path d="M115.94 605.69A31.849999999999998 31.849999999999998 0 0 1 111.31 606.77L108.98 591.85A16.75 16.75 0 0 0 111.42 591.28Z" fill="#08336f"/>
</g>
<text x="27.4" y="524.3" style="font-size:8.2px" text-anchor="middle" dominant-baseline="central" transform="rotate(-45 27.4 524.3)" fill="#222">CP</text>
<text x="40.5" y="535.2" style="font-size:8.2px" text-anchor="middle" dominant-baseline="central" transform="rotate(-45 40.5 535.2)" fill="#222">SP</text>
<text x="55.8" y="546.9" style="font-size:8.2px" text-anchor="middle" dominant-baseline="central" transform="rotate(-45 55.8 546.9)" fill="#222">IZ</text>
<text x="66.0" y="557.0" style="font-size:8.2px" text-anchor="middle" dominant-baseline="central" transform="rotate(-45 66.0 557.0)" fill="#222">SVZ</text>
<text x="81.2" y="567.2" style="font-size:8.2px" text-anchor="middle" dominant-baseline="central" transform="rotate(-45 81.2 567.2)" fill="#222">VZ</text>
<text x="34.7" y="496.7" style="font-size:7.4px" text-anchor="middle" dominant-baseline="central" transform="rotate(-45 34.7 496.7)" fill="#222">anterior</text>
<text x="138.8" y="673.7" style="font-size:7.2px" text-anchor="middle" dominant-baseline="central" transform="rotate(-8.6 138.8 673.7)" fill="#222">posterior</text>
<g stroke="#555" stroke-width="0.55" stroke-linejoin="round" transform="translate(328.1 575.2) scale(1 1.008) translate(-328.1 -575.2)">
<path d="M252.59 514.71A96.75 96.75 0 0 1 262.43 504.15L272.68 515.24A81.64999999999999 81.64999999999999 0 0 0 264.38 524.15Z" fill="#fc9060"/>
<path d="M265.24 524.84A80.55 80.55 0 0 1 273.43 516.05L283.74 527.21A65.35 65.35 0 0 0 277.10 534.34Z" fill="#e4301e"/>
<path d="M277.96 535.03A64.25 64.25 0 0 1 284.49 528.02L294.74 539.11A49.15 49.15 0 0 0 289.74 544.47Z" fill="#fff0e0"/>
<path d="M290.60 545.16A48.050000000000004 48.050000000000004 0 0 1 295.49 539.91L305.74 551.00A32.949999999999996 32.949999999999996 0 0 0 302.38 554.60Z" fill="#fff0e0"/>
<path d="M303.24 555.29A31.849999999999998 31.849999999999998 0 0 1 306.48 551.81L316.73 562.90A16.75 16.75 0 0 0 315.03 564.73Z" fill="#fdd9b2"/>
<path d="M262.43 504.15A96.75 96.75 0 0 1 273.73 495.17L282.22 507.66A81.64999999999999 81.64999999999999 0 0 0 272.68 515.24Z" fill="#fdcb98"/>
<path d="M273.43 516.05A80.55 80.55 0 0 1 282.84 508.57L291.38 521.14A65.35 65.35 0 0 0 283.74 527.21Z" fill="#fc9060"/>
<path d="M284.49 528.02A64.25 64.25 0 0 1 292.00 522.05L300.48 534.54A49.15 49.15 0 0 0 294.74 539.11Z" fill="#ffffff"/>
<path d="M295.49 539.91A48.050000000000004 48.050000000000004 0 0 1 301.10 535.45L309.58 547.94A32.949999999999996 32.949999999999996 0 0 0 305.74 551.00Z" fill="#fdd9b2"/>
<path d="M306.48 551.81A31.849999999999998 31.849999999999998 0 0 1 310.20 548.85L318.69 561.34A16.75 16.75 0 0 0 316.73 562.90Z" fill="#fdd9b2"/>
<path d="M273.73 495.17A96.75 96.75 0 0 1 286.24 487.97L292.78 501.59A81.64999999999999 81.64999999999999 0 0 0 282.22 507.66Z" fill="#f46244"/>
<path d="M282.84 508.57A80.55 80.55 0 0 1 293.25 502.58L299.83 516.28A65.35 65.35 0 0 0 291.38 521.14Z" fill="#ee4c32"/>
<path d="M292.00 522.05A64.25 64.25 0 0 1 300.30 517.27L306.84 530.89A49.15 49.15 0 0 0 300.48 534.54Z" fill="#f87a50"/>
<path d="M301.10 535.45A48.050000000000004 48.050000000000004 0 0 1 307.31 531.88L313.84 545.49A32.949999999999996 32.949999999999996 0 0 0 309.58 547.94Z" fill="#fff0e0"/>
<path d="M310.20 548.85A31.849999999999998 31.849999999999998 0 0 1 314.32 546.49L320.85 560.10A16.75 16.75 0 0 0 318.69 561.34Z" fill="#fdcb98"/>
<path d="M286.24 487.97A96.75 96.75 0 0 1 299.68 482.72L304.12 497.15A81.64999999999999 81.64999999999999 0 0 0 292.78 501.59Z" fill="#dc1e16"/>
<path d="M293.25 502.58A80.55 80.55 0 0 1 304.44 498.20L308.91 512.73A65.35 65.35 0 0 0 299.83 516.28Z" fill="#dc1e16"/>
<path d="M300.30 517.27A64.25 64.25 0 0 1 309.23 513.78L313.66 528.22A49.15 49.15 0 0 0 306.84 530.89Z" fill="#9e0000"/>
<path d="M307.31 531.88A48.050000000000004 48.050000000000004 0 0 1 313.99 529.27L318.42 543.70A32.949999999999996 32.949999999999996 0 0 0 313.84 545.49Z" fill="#fc9060"/>
<path d="M314.32 546.49A31.849999999999998 31.849999999999998 0 0 1 318.75 544.75L323.18 559.19A16.75 16.75 0 0 0 320.85 560.10Z" fill="#fdcb98"/>
<path d="M299.68 482.72A96.75 96.75 0 0 1 313.76 479.52L316.00 494.45A81.64999999999999 81.64999999999999 0 0 0 304.12 497.15Z" fill="#fca46c"/>
<path d="M304.44 498.20A80.55 80.55 0 0 1 316.16 495.54L318.41 510.57A65.35 65.35 0 0 0 308.91 512.73Z" fill="#cc0a0a"/>
<path d="M309.23 513.78A64.25 64.25 0 0 1 318.58 511.66L320.81 526.59A49.15 49.15 0 0 0 313.66 528.22Z" fill="#f87a50"/>
<path d="M313.99 529.27A48.050000000000004 48.050000000000004 0 0 1 320.98 527.68L323.22 542.61A32.949999999999996 32.949999999999996 0 0 0 318.42 543.70Z" fill="#fdcb98"/>
<path d="M318.75 544.75A31.849999999999998 31.849999999999998 0 0 1 323.38 543.70L325.62 558.64A16.75 16.75 0 0 0 323.18 559.19Z" fill="#fdcb98"/>
<path d="M313.76 479.52A96.75 96.75 0 0 1 328.15 478.45L328.14 493.55A81.64999999999999 81.64999999999999 0 0 0 316.00 494.45Z" fill="#fff0e0"/>
<path d="M316.16 495.54A80.55 80.55 0 0 1 328.14 494.65L328.13 509.85A65.35 65.35 0 0 0 318.41 510.57Z" fill="#fdbb84"/>
<path d="M318.58 511.66A64.25 64.25 0 0 1 328.13 510.95L328.13 526.05A49.15 49.15 0 0 0 320.81 526.59Z" fill="#ffffff"/>
<path d="M320.98 527.68A48.050000000000004 48.050000000000004 0 0 1 328.13 527.15L328.12 542.25A32.949999999999996 32.949999999999996 0 0 0 323.22 542.61Z" fill="#ffffff"/>
<path d="M323.38 543.70A31.849999999999998 31.849999999999998 0 0 1 328.12 543.35L328.11 558.45A16.75 16.75 0 0 0 325.62 558.64Z" fill="#fff6ee"/>
<path d="M328.15 478.45A96.75 96.75 0 0 1 342.54 479.53L340.29 494.46A81.64999999999999 81.64999999999999 0 0 0 328.14 493.55Z" fill="#fff0e0"/>
<path d="M328.14 494.65A80.55 80.55 0 0 1 340.12 495.55L337.86 510.58A65.35 65.35 0 0 0 328.13 509.85Z" fill="#ffffff"/>
<path d="M328.13 510.95A64.25 64.25 0 0 1 337.69 511.67L335.44 526.60A49.15 49.15 0 0 0 328.13 526.05Z" fill="#ffffff"/>
<path d="M328.13 527.15A48.050000000000004 48.050000000000004 0 0 1 335.27 527.69L333.02 542.62A32.949999999999996 32.949999999999996 0 0 0 328.12 542.25Z" fill="#ffffff"/>
<path d="M328.12 543.35A31.849999999999998 31.849999999999998 0 0 1 332.85 543.71L330.60 558.64A16.75 16.75 0 0 0 328.11 558.45Z" fill="#ffffff"/>
<path d="M342.54 479.53A96.75 96.75 0 0 1 356.61 482.75L352.16 497.18A81.64999999999999 81.64999999999999 0 0 0 340.29 494.46Z" fill="#cc0a0a"/>
<path d="M340.12 495.55A80.55 80.55 0 0 1 351.84 498.23L347.36 512.75A65.35 65.35 0 0 0 337.86 510.58Z" fill="#9e0000"/>
<path d="M337.69 511.67A64.25 64.25 0 0 1 347.03 513.80L342.58 528.23A49.15 49.15 0 0 0 335.44 526.60Z" fill="#fee6cc"/>
<path d="M335.27 527.69A48.050000000000004 48.050000000000004 0 0 1 342.26 529.28L337.81 543.71A32.949999999999996 32.949999999999996 0 0 0 333.02 542.62Z" fill="#fff0e0"/>
<path d="M332.85 543.71A31.849999999999998 31.849999999999998 0 0 1 337.49 544.76L333.04 559.19A16.75 16.75 0 0 0 330.60 558.64Z" fill="#fff0e0"/>
<path d="M356.61 482.75A96.75 96.75 0 0 1 370.05 488.02L363.50 501.62A81.64999999999999 81.64999999999999 0 0 0 352.16 497.18Z" fill="#fc9060"/>
<path d="M351.84 498.23A80.55 80.55 0 0 1 363.02 502.62L356.43 516.31A65.35 65.35 0 0 0 347.36 512.75Z" fill="#b80404"/>
<path d="M347.03 513.80A64.25 64.25 0 0 1 355.96 517.30L349.41 530.91A49.15 49.15 0 0 0 342.58 528.23Z" fill="#fdbb84"/>
<path d="M342.26 529.28A48.050000000000004 48.050000000000004 0 0 1 348.93 531.90L342.39 545.51A32.949999999999996 32.949999999999996 0 0 0 337.81 543.71Z" fill="#ffffff"/>
<path d="M337.49 544.76A31.849999999999998 31.849999999999998 0 0 1 341.91 546.50L335.36 560.11A16.75 16.75 0 0 0 333.04 559.19Z" fill="#fff0e0"/>
<path d="M370.05 488.02A96.75 96.75 0 0 1 382.55 495.23L374.05 507.71A81.64999999999999 81.64999999999999 0 0 0 363.50 501.62Z" fill="#f87a50"/>
<path d="M363.02 502.62A80.55 80.55 0 0 1 373.43 508.62L364.88 521.18A65.35 65.35 0 0 0 356.43 516.31Z" fill="#9e0000"/>
<path d="M355.96 517.30A64.25 64.25 0 0 1 364.26 522.09L355.76 534.57A49.15 49.15 0 0 0 349.41 530.91Z" fill="#ffffff"/>
<path d="M348.93 531.90A48.050000000000004 48.050000000000004 0 0 1 355.14 535.48L346.64 547.96A32.949999999999996 32.949999999999996 0 0 0 342.39 545.51Z" fill="#fff0e0"/>
<path d="M341.91 546.50A31.849999999999998 31.849999999999998 0 0 1 346.03 548.87L337.53 561.35A16.75 16.75 0 0 0 335.36 560.11Z" fill="#fff0e0"/>
<path d="M382.55 495.23A96.75 96.75 0 0 1 393.84 504.22L383.58 515.30A81.64999999999999 81.64999999999999 0 0 0 374.05 507.71Z" fill="#fdcb98"/>
<path d="M373.43 508.62A80.55 80.55 0 0 1 382.83 516.10L372.51 527.25A65.35 65.35 0 0 0 364.88 521.18Z" fill="#cc0a0a"/>
<path d="M364.26 522.09A64.25 64.25 0 0 1 371.76 528.06L361.50 539.14A49.15 49.15 0 0 0 355.76 534.57Z" fill="#e4301e"/>
<path d="M355.14 535.48A48.050000000000004 48.050000000000004 0 0 1 360.75 539.95L350.49 551.03A32.949999999999996 32.949999999999996 0 0 0 346.64 547.96Z" fill="#fff0e0"/>
<path d="M346.03 548.87A31.849999999999998 31.849999999999998 0 0 1 349.74 551.83L339.48 562.91A16.75 16.75 0 0 0 337.53 561.35Z" fill="#fee6cc"/>
<path d="M393.84 504.22A96.75 96.75 0 0 1 403.67 514.79L391.88 524.22A81.64999999999999 81.64999999999999 0 0 0 383.58 515.30Z" fill="#9e0000"/>
<path d="M382.83 516.10A80.55 80.55 0 0 1 391.02 524.90L379.14 534.39A65.35 65.35 0 0 0 372.51 527.25Z" fill="#cc0a0a"/>
<path d="M371.76 528.06A64.25 64.25 0 0 1 378.28 535.08L366.49 544.51A49.15 49.15 0 0 0 361.50 539.14Z" fill="#fdcb98"/>
<path d="M360.75 539.95A48.050000000000004 48.050000000000004 0 0 1 365.63 545.20L353.84 554.63A32.949999999999996 32.949999999999996 0 0 0 350.49 551.03Z" fill="#e4301e"/>
<path d="M349.74 551.83A31.849999999999998 31.849999999999998 0 0 1 352.98 555.31L341.18 564.74A16.75 16.75 0 0 0 339.48 562.91Z" fill="#fdd9b2"/>
<path d="M403.67 514.79A96.75 96.75 0 0 1 411.82 526.70L398.75 534.27A81.64999999999999 81.64999999999999 0 0 0 391.88 524.22Z" fill="#fff0e0"/>
<path d="M391.02 524.90A80.55 80.55 0 0 1 397.80 534.82L384.65 542.44A65.35 65.35 0 0 0 379.14 534.39Z" fill="#fdcb98"/>
<path d="M378.28 535.08A64.25 64.25 0 0 1 383.69 542.99L370.63 550.56A49.15 49.15 0 0 0 366.49 544.51Z" fill="#ffffff"/>
<path d="M365.63 545.20A48.050000000000004 48.050000000000004 0 0 1 369.68 551.11L356.61 558.68A32.949999999999996 32.949999999999996 0 0 0 353.84 554.63Z" fill="#fdcb98"/>
<path d="M352.98 555.31A31.849999999999998 31.849999999999998 0 0 1 355.66 559.23L342.59 566.80A16.75 16.75 0 0 0 341.18 564.74Z" fill="#fc9060"/>
<path d="M411.82 526.70A96.75 96.75 0 0 1 418.10 539.69L404.05 545.24A81.64999999999999 81.64999999999999 0 0 0 398.75 534.27Z" fill="#fdbb84"/>
<path d="M397.80 534.82A80.55 80.55 0 0 1 403.03 545.64L388.89 551.22A65.35 65.35 0 0 0 384.65 542.44Z" fill="#f46244"/>
<path d="M383.69 542.99A64.25 64.25 0 0 1 387.87 551.62L373.82 557.16A49.15 49.15 0 0 0 370.63 550.56Z" fill="#f46244"/>
<path d="M369.68 551.11A48.050000000000004 48.050000000000004 0 0 1 372.80 557.57L358.75 563.11A32.949999999999996 32.949999999999996 0 0 0 356.61 558.68Z" fill="#ffffff"/>
<path d="M355.66 559.23A31.849999999999998 31.849999999999998 0 0 1 357.73 563.51L343.68 569.05A16.75 16.75 0 0 0 342.59 566.80Z" fill="#fff0e0"/>
<path d="M418.10 539.69A96.75 96.75 0 0 1 422.38 553.48L407.67 556.87A81.64999999999999 81.64999999999999 0 0 0 404.05 545.24Z" fill="#e4301e"/>
<path d="M403.03 545.64A80.55 80.55 0 0 1 406.59 557.11L391.78 560.53A65.35 65.35 0 0 0 388.89 551.22Z" fill="#f46244"/>
<path d="M387.87 551.62A64.25 64.25 0 0 1 390.71 560.77L376.00 564.16A49.15 49.15 0 0 0 373.82 557.16Z" fill="#e4301e"/>
<path d="M372.80 557.57A48.050000000000004 48.050000000000004 0 0 1 374.92 564.41L360.21 567.80A32.949999999999996 32.949999999999996 0 0 0 358.75 563.11Z" fill="#fdd9b2"/>
<path d="M357.73 563.51A31.849999999999998 31.849999999999998 0 0 1 359.14 568.05L344.42 571.44A16.75 16.75 0 0 0 343.68 569.05Z" fill="#fdd9b2"/>
<path d="M422.38 553.48A96.75 96.75 0 0 1 424.56 567.74L409.51 568.91A81.64999999999999 81.64999999999999 0 0 0 407.67 556.87Z" fill="#fdbb84"/>
<path d="M406.59 557.11A80.55 80.55 0 0 1 408.41 568.99L393.26 570.16A65.35 65.35 0 0 0 391.78 560.53Z" fill="#ffffff"/>
<path d="M390.71 560.77A64.25 64.25 0 0 1 392.16 570.25L377.10 571.41A49.15 49.15 0 0 0 376.00 564.16Z" fill="#ffffff"/>
<path d="M374.92 564.41A48.050000000000004 48.050000000000004 0 0 1 376.01 571.50L360.95 572.66A32.949999999999996 32.949999999999996 0 0 0 360.21 567.80Z" fill="#ffffff"/>
<path d="M359.14 568.05A31.849999999999998 31.849999999999998 0 0 1 359.86 572.75L344.80 573.91A16.75 16.75 0 0 0 344.42 571.44Z" fill="#fff0e0"/>
<path d="M424.56 567.74A96.75 96.75 0 0 1 424.60 582.18L409.54 581.09A81.64999999999999 81.64999999999999 0 0 0 409.51 568.91Z" fill="#fca46c"/>
<path d="M408.41 568.99A80.55 80.55 0 0 1 408.44 581.01L393.28 579.91A65.35 65.35 0 0 0 393.26 570.16Z" fill="#ee4c32"/>
<path d="M392.16 570.25A64.25 64.25 0 0 1 392.18 579.83L377.12 578.74A49.15 49.15 0 0 0 377.10 571.41Z" fill="#e4301e"/>
<path d="M376.01 571.50A48.050000000000004 48.050000000000004 0 0 1 376.02 578.66L360.96 577.58A32.949999999999996 32.949999999999996 0 0 0 360.95 572.66Z" fill="#fdbb84"/>
<path d="M359.86 572.75A31.849999999999998 31.849999999999998 0 0 1 359.87 577.50L344.81 576.41A16.75 16.75 0 0 0 344.80 573.91Z" fill="#fff0e0"/>
<path d="M424.60 582.18A96.75 96.75 0 0 1 422.49 596.45L407.76 593.14A81.64999999999999 81.64999999999999 0 0 0 409.54 581.09Z" fill="#fdbb84"/>
<path d="M408.44 581.01A80.55 80.55 0 0 1 406.68 592.89L391.85 589.56A65.35 65.35 0 0 0 393.28 579.91Z" fill="#ffffff"/>
<path d="M392.18 579.83A64.25 64.25 0 0 1 390.78 589.31L376.05 586.00A49.15 49.15 0 0 0 377.12 578.74Z" fill="#ffffff"/>
<path d="M376.02 578.66A48.050000000000004 48.050000000000004 0 0 1 374.98 585.76L360.25 582.44A32.949999999999996 32.949999999999996 0 0 0 360.96 577.58Z" fill="#ffffff"/>
<path d="M359.87 577.50A31.849999999999998 31.849999999999998 0 0 1 359.17 582.20L344.44 578.88A16.75 16.75 0 0 0 344.81 576.41Z" fill="#fff0e0"/>
<path d="M422.49 596.45A96.75 96.75 0 0 1 418.27 610.26L404.20 604.79A81.64999999999999 81.64999999999999 0 0 0 407.76 593.14Z" fill="#cc0a0a"/>
<path d="M406.68 592.89A80.55 80.55 0 0 1 403.18 604.39L389.01 598.88A65.35 65.35 0 0 0 391.85 589.56Z" fill="#9e0000"/>
<path d="M390.78 589.31A64.25 64.25 0 0 1 387.98 598.48L373.91 593.01A49.15 49.15 0 0 0 376.05 586.00Z" fill="#f46244"/>
<path d="M374.98 585.76A48.050000000000004 48.050000000000004 0 0 1 372.88 592.61L358.81 587.14A32.949999999999996 32.949999999999996 0 0 0 360.25 582.44Z" fill="#fca46c"/>
<path d="M359.17 582.20A31.849999999999998 31.849999999999998 0 0 1 357.79 586.74L343.71 581.27A16.75 16.75 0 0 0 344.44 578.88Z" fill="#fdd9b2"/>
<path d="M418.27 610.26A96.75 96.75 0 0 1 412.06 623.28L398.95 615.78A81.64999999999999 81.64999999999999 0 0 0 404.20 604.79Z" fill="#9e0000"/>
<path d="M403.18 604.39A80.55 80.55 0 0 1 398.00 615.23L384.81 607.68A65.35 65.35 0 0 0 389.01 598.88Z" fill="#9e0000"/>
<path d="M387.98 598.48A64.25 64.25 0 0 1 383.85 607.13L370.75 599.63A49.15 49.15 0 0 0 373.91 593.01Z" fill="#9e0000"/>
<path d="M372.88 592.61A48.050000000000004 48.050000000000004 0 0 1 369.80 599.08L356.69 591.58A32.949999999999996 32.949999999999996 0 0 0 358.81 587.14Z" fill="#e4301e"/>
<path d="M357.79 586.74A31.849999999999998 31.849999999999998 0 0 1 355.74 591.03L342.64 583.52A16.75 16.75 0 0 0 343.71 581.27Z" fill="#fdd9b2"/>
<path d="M412.06 623.28A96.75 96.75 0 0 1 403.97 635.24L392.13 625.87A81.64999999999999 81.64999999999999 0 0 0 398.95 615.78Z" fill="#fdbb84"/>
<path d="M398.00 615.23A80.55 80.55 0 0 1 391.27 625.18L379.35 615.75A65.35 65.35 0 0 0 384.81 607.68Z" fill="#9e0000"/>
<path d="M383.85 607.13A64.25 64.25 0 0 1 378.48 615.07L366.64 605.70A49.15 49.15 0 0 0 370.75 599.63Z" fill="#f46244"/>
<path d="M369.80 599.08A48.050000000000004 48.050000000000004 0 0 1 365.78 605.02L353.94 595.65A32.949999999999996 32.949999999999996 0 0 0 356.69 591.58Z" fill="#fdcb98"/>
<path d="M355.74 591.03A31.849999999999998 31.849999999999998 0 0 1 353.08 594.96L341.24 585.59A16.75 16.75 0 0 0 342.64 583.52Z" fill="#fdcb98"/>
<path d="M403.97 635.24A96.75 96.75 0 0 1 394.19 645.85L383.88 634.83A81.64999999999999 81.64999999999999 0 0 0 392.13 625.87Z" fill="#9e0000"/>
<path d="M391.27 625.18A80.55 80.55 0 0 1 383.13 634.02L372.74 622.92A65.35 65.35 0 0 0 379.35 615.75Z" fill="#9e0000"/>
<path d="M378.48 615.07A64.25 64.25 0 0 1 371.99 622.12L361.68 611.09A49.15 49.15 0 0 0 366.64 605.70Z" fill="#ffffff"/>
<path d="M365.78 605.02A48.050000000000004 48.050000000000004 0 0 1 360.93 610.29L350.61 599.26A32.949999999999996 32.949999999999996 0 0 0 353.94 595.65Z" fill="#dc1e16"/>
<path d="M353.08 594.96A31.849999999999998 31.849999999999998 0 0 1 349.86 598.46L339.54 587.43A16.75 16.75 0 0 0 341.24 585.59Z" fill="#fee6cc"/>
<path d="M394.19 645.85A96.75 96.75 0 0 1 382.95 654.90L374.39 642.46A81.64999999999999 81.64999999999999 0 0 0 383.88 634.83Z" fill="#ee4c32"/>
<path d="M383.13 634.02A80.55 80.55 0 0 1 373.76 641.56L365.15 629.03A65.35 65.35 0 0 0 372.74 622.92Z" fill="#9e0000"/>
<path d="M371.99 622.12A64.25 64.25 0 0 1 364.52 628.13L355.96 615.69A49.15 49.15 0 0 0 361.68 611.09Z" fill="#ffffff"/>
<path d="M360.93 610.29A48.050000000000004 48.050000000000004 0 0 1 355.34 614.78L346.78 602.34A32.949999999999996 32.949999999999996 0 0 0 350.61 599.26Z" fill="#fdd9b2"/>
<path d="M349.86 598.46A31.849999999999998 31.849999999999998 0 0 1 346.16 601.44L337.60 589.00A16.75 16.75 0 0 0 339.54 587.43Z" fill="#fff0e0"/>
<path d="M382.95 654.90A96.75 96.75 0 0 1 370.48 662.17L363.87 648.60A81.64999999999999 81.64999999999999 0 0 0 374.39 642.46Z" fill="#fff0e0"/>
<path d="M373.76 641.56A80.55 80.55 0 0 1 363.39 647.61L356.73 633.95A65.35 65.35 0 0 0 365.15 629.03Z" fill="#ffffff"/>
<path d="M364.52 628.13A64.25 64.25 0 0 1 356.25 632.96L349.63 619.38A49.15 49.15 0 0 0 355.96 615.69Z" fill="#ffffff"/>
<path d="M355.34 614.78A48.050000000000004 48.050000000000004 0 0 1 349.15 618.39L342.53 604.82A32.949999999999996 32.949999999999996 0 0 0 346.78 602.34Z" fill="#ffffff"/>
<path d="M346.16 601.44A31.849999999999998 31.849999999999998 0 0 1 342.05 603.83L335.44 590.26A16.75 16.75 0 0 0 337.60 589.00Z" fill="#fdbb84"/>
<path d="M370.48 662.17A96.75 96.75 0 0 1 357.07 667.51L352.55 653.10A81.64999999999999 81.64999999999999 0 0 0 363.87 648.60Z" fill="#e4301e"/>
<path d="M363.39 647.61A80.55 80.55 0 0 1 352.22 652.05L347.67 637.55A65.35 65.35 0 0 0 356.73 633.95Z" fill="#9e0000"/>
<path d="M356.25 632.96A64.25 64.25 0 0 1 347.34 636.50L342.82 622.09A49.15 49.15 0 0 0 349.63 619.38Z" fill="#cc0a0a"/>
<path d="M349.15 618.39A48.050000000000004 48.050000000000004 0 0 1 342.49 621.04L337.97 606.64A32.949999999999996 32.949999999999996 0 0 0 342.53 604.82Z" fill="#fdcb98"/>
<path d="M342.05 603.83A31.849999999999998 31.849999999999998 0 0 1 337.64 605.59L333.12 591.18A16.75 16.75 0 0 0 335.44 590.26Z" fill="#fdcb98"/>
<path d="M357.07 667.51A96.75 96.75 0 0 1 343.02 670.79L340.69 655.87A81.64999999999999 81.64999999999999 0 0 0 352.55 653.10Z" fill="#9e0000"/>
<path d="M352.22 652.05A80.55 80.55 0 0 1 340.52 654.79L338.18 639.77A65.35 65.35 0 0 0 347.67 637.55Z" fill="#9e0000"/>
<path d="M347.34 636.50A64.25 64.25 0 0 1 338.01 638.68L335.68 623.76A49.15 49.15 0 0 0 342.82 622.09Z" fill="#fdbb84"/>
<path d="M342.49 621.04A48.050000000000004 48.050000000000004 0 0 1 335.51 622.68L333.18 607.76A32.949999999999996 32.949999999999996 0 0 0 337.97 606.64Z" fill="#fdbb84"/>
<path d="M337.64 605.59A31.849999999999998 31.849999999999998 0 0 1 333.01 606.67L330.68 591.75A16.75 16.75 0 0 0 333.12 591.18Z" fill="#fdcb98"/>
</g>
<text x="249.1" y="524.2" style="font-size:8.2px" text-anchor="middle" dominant-baseline="central" transform="rotate(-45 249.1 524.2)" fill="#222">CP</text>
<text x="262.2" y="535.1" style="font-size:8.2px" text-anchor="middle" dominant-baseline="central" transform="rotate(-45 262.2 535.1)" fill="#222">SP</text>
<text x="277.5" y="546.8" style="font-size:8.2px" text-anchor="middle" dominant-baseline="central" transform="rotate(-45 277.5 546.8)" fill="#222">IZ</text>
<text x="287.7" y="556.9" style="font-size:8.2px" text-anchor="middle" dominant-baseline="central" transform="rotate(-45 287.7 556.9)" fill="#222">SVZ</text>
<text x="302.9" y="567.1" style="font-size:8.2px" text-anchor="middle" dominant-baseline="central" transform="rotate(-45 302.9 567.1)" fill="#222">VZ</text>
<text x="256.4" y="496.6" style="font-size:7.4px" text-anchor="middle" dominant-baseline="central" transform="rotate(-45 256.4 496.6)" fill="#222">anterior</text>
<text x="360.5" y="673.6" style="font-size:7.2px" text-anchor="middle" dominant-baseline="central" transform="rotate(-8.6 360.5 673.6)" fill="#222">posterior</text>
<defs><linearGradient id="gb" x1="0" x2="1" y1="0" y2="0"><stop offset="0" stop-color="#08306b"/><stop offset="0.28" stop-color="#0a5aa6"/><stop offset="0.5" stop-color="#159bd4"/><stop offset="0.62" stop-color="#3fb0dc"/><stop offset="0.8" stop-color="#a4d4ee"/><stop offset="1" stop-color="#f7fbff"/></linearGradient><linearGradient id="gr" x1="0" x2="1" y1="0" y2="0"><stop offset="0" stop-color="#fff3e4"/><stop offset="0.25" stop-color="#fdc896"/><stop offset="0.5" stop-color="#f7693f"/><stop offset="0.72" stop-color="#e21a1a"/><stop offset="1" stop-color="#7f0000"/></linearGradient></defs>
<rect x="13.10" y="581.90" width="75.70" height="5.90" fill="url(#gb)" stroke="#888" stroke-width="0.6"/>
<text x="21.2" y="594.8" style="font-size:7.6px" text-anchor="middle" fill="#222">−0.4</text>
<text x="54.7" y="594.8" style="font-size:7.6px" text-anchor="middle" fill="#222">−0.2</text>
<text x="87.6" y="594.8" style="font-size:7.6px" text-anchor="middle" fill="#222">0.0</text>
<text x="51.0" y="602.7" style="font-size:5.6px" text-anchor="middle" fill="#222">Δ expression</text>
<rect x="234.90" y="582.00" width="75.50" height="5.90" fill="url(#gr)" stroke="#888" stroke-width="0.6"/>
<text x="261.1" y="594.9" style="font-size:7.6px" text-anchor="middle" fill="#222">0.4</text>
<text x="300.6" y="594.9" style="font-size:7.6px" text-anchor="middle" fill="#222">0.6</text>
<text x="272.3" y="602.7" style="font-size:5.6px" text-anchor="middle" fill="#222">Δ expression</text>
<line x1="497.10" y1="484.80" x2="497.10" y2="575.80" stroke="#333" stroke-width="0.8"/>
<text x="494.1" y="500.7" style="font-size:7.0px" text-anchor="end" fill="#222">0.50</text>
<text x="494.1" y="516.9" style="font-size:7.0px" text-anchor="end" fill="#222">0.25</text>
<text x="494.1" y="533.2" style="font-size:7.0px" text-anchor="end" fill="#222">0.00</text>
<text x="494.1" y="549.4" style="font-size:7.0px" text-anchor="end" fill="#222">−0.25</text>
<text x="494.1" y="565.7" style="font-size:7.0px" text-anchor="end" fill="#222">−0.50</text>
<rect x="500.40" y="530.40" width="26.60" height="1.45" fill="#4ba3cb" stroke="#444" stroke-width="0.6"/>
<text x="513.7" y="583.0" style="font-size:7.0px" text-anchor="middle" fill="#222">CP</text>
<rect x="533.00" y="530.80" width="26.50" height="11.70" fill="#4ba3cb" stroke="#444" stroke-width="0.6"/>
<text x="546.2" y="583.0" style="font-size:7.0px" text-anchor="middle" fill="#222">SP</text>
<rect x="566.00" y="530.80" width="26.40" height="17.55" fill="#4ba3cb" stroke="#444" stroke-width="0.6"/>
<text x="579.2" y="583.0" style="font-size:7.0px" text-anchor="middle" fill="#222">IZ</text>
<rect x="599.00" y="530.80" width="26.20" height="20.80" fill="#4ba3cb" stroke="#444" stroke-width="0.6"/>
<text x="612.1" y="583.0" style="font-size:7.0px" text-anchor="middle" fill="#222">SVZ</text>
<rect x="631.80" y="530.80" width="26.20" height="30.55" fill="#4ba3cb" stroke="#444" stroke-width="0.6"/>
<text x="644.9" y="583.0" style="font-size:7.0px" text-anchor="middle" fill="#222">VZ</text>
<text x="473.1" y="530.3" style="font-size:7.2px" text-anchor="middle" transform="rotate(-90 473.1 530.3)" fill="#222">Δ expression</text>
<line x1="495.50" y1="590.00" x2="495.50" y2="680.00" stroke="#333" stroke-width="0.8"/>
<text x="492.5" y="605.1" style="font-size:7.0px" text-anchor="end" fill="#222">0.50</text>
<text x="492.5" y="621.4" style="font-size:7.0px" text-anchor="end" fill="#222">0.25</text>
<text x="492.5" y="637.6" style="font-size:7.0px" text-anchor="end" fill="#222">0.00</text>
<text x="492.5" y="653.9" style="font-size:7.0px" text-anchor="end" fill="#222">−0.25</text>
<text x="492.5" y="670.1" style="font-size:7.0px" text-anchor="end" fill="#222">−0.50</text>
<rect x="498.80" y="605.30" width="26.60" height="29.90" fill="#f0664e" stroke="#444" stroke-width="0.6"/>
<text x="512.1" y="686.5" style="font-size:7.0px" text-anchor="middle" fill="#222">CP</text>
<rect x="531.40" y="596.20" width="26.50" height="39.00" fill="#f0664e" stroke="#444" stroke-width="0.6"/>
<text x="544.6" y="686.5" style="font-size:7.0px" text-anchor="middle" fill="#222">SP</text>
<rect x="564.40" y="603.35" width="26.40" height="31.85" fill="#f0664e" stroke="#444" stroke-width="0.6"/>
<text x="577.6" y="686.5" style="font-size:7.0px" text-anchor="middle" fill="#222">IZ</text>
<rect x="597.40" y="610.50" width="26.20" height="24.70" fill="#f0664e" stroke="#444" stroke-width="0.6"/>
<text x="610.5" y="686.5" style="font-size:7.0px" text-anchor="middle" fill="#222">SVZ</text>
<rect x="630.20" y="614.40" width="26.20" height="20.80" fill="#f0664e" stroke="#444" stroke-width="0.6"/>
<text x="643.3" y="686.5" style="font-size:7.0px" text-anchor="middle" fill="#222">VZ</text>
<text x="471.5" y="635.0" style="font-size:7.2px" text-anchor="middle" transform="rotate(-90 471.5 635.0)" fill="#222">Δ expression</text></svg>
</body></html>
